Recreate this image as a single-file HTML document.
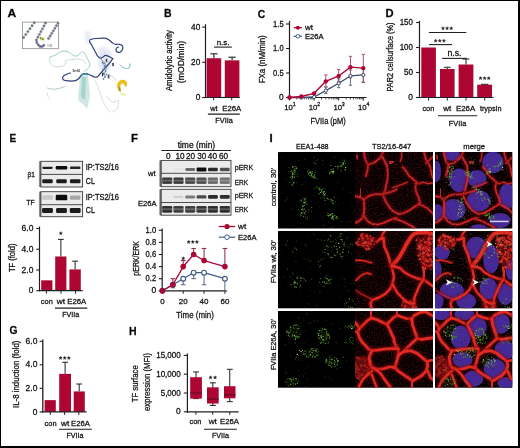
<!DOCTYPE html><html><head><meta charset="utf-8"><style>html,body{margin:0;padding:0;background:#fff;overflow:hidden;}svg{display:block;}</style></head><body><div style="position:relative;width:520px;height:448px;overflow:hidden;">
<svg width="520" height="448" viewBox="0 0 520 448" style="will-change:transform;filter:blur(0.3px)" font-family='"Liberation Sans", sans-serif'>
<style>text{stroke:#231f20;stroke-width:0.28px;}</style>
<defs>
<filter id="bl1" x="-20%" y="-20%" width="140%" height="140%"><feGaussianBlur stdDeviation="0.7"/></filter>
<filter id="bl2" x="-20%" y="-20%" width="140%" height="140%"><feGaussianBlur stdDeviation="1.4"/></filter>
<filter id="bl3" x="-20%" y="-20%" width="140%" height="140%"><feGaussianBlur stdDeviation="0.45"/></filter>
<filter id="blp" x="-20%" y="-20%" width="140%" height="140%"><feGaussianBlur stdDeviation="0.6"/></filter>
<filter id="tex" x="0" y="0" width="100%" height="100%" filterUnits="userSpaceOnUse"><feTurbulence type="fractalNoise" baseFrequency="0.85" numOctaves="1" seed="5" result="n"/><feColorMatrix in="n" type="matrix" values="0 0 0 0 1  0 0 0 0 1  0 0 0 0 1  1.2 0 0 0 0.3" result="na"/><feComposite in="SourceGraphic" in2="na" operator="in"/></filter>
<filter id="tex2" x="0" y="0" width="100%" height="100%" filterUnits="userSpaceOnUse"><feTurbulence type="fractalNoise" baseFrequency="0.85" numOctaves="1" seed="8" result="n"/><feColorMatrix in="n" type="matrix" values="0 0 0 0 1  0 0 0 0 1  0 0 0 0 1  0.9 0 0 0 0.62" result="na"/><feComposite in="SourceGraphic" in2="na" operator="in"/></filter>
<filter id="haze" x="0" y="0" width="100%" height="100%" filterUnits="userSpaceOnUse"><feTurbulence type="fractalNoise" baseFrequency="0.7" numOctaves="2" seed="11" result="n"/><feColorMatrix in="n" type="matrix" values="0 0 0 0 0.5  0 0 0 0 0.02  0 0 0 0 0.04  1.4 0 0 0 -0.62"/></filter>
<clipPath id="c11"><rect x="278" y="152" width="77" height="76.5"/></clipPath>
<clipPath id="c12"><rect x="355" y="152" width="78" height="76.5"/></clipPath>
<clipPath id="c13"><rect x="435" y="152" width="77.3" height="76.5"/></clipPath>
<clipPath id="c21"><rect x="278" y="231" width="77" height="77.3"/></clipPath>
<clipPath id="c22"><rect x="355" y="231" width="78" height="77.3"/></clipPath>
<clipPath id="c23"><rect x="435" y="231" width="77.3" height="77.3"/></clipPath>
<clipPath id="c31"><rect x="278" y="311" width="77" height="76.7"/></clipPath>
<clipPath id="c32"><rect x="355" y="311" width="78" height="76.7"/></clipPath>
<clipPath id="c33"><rect x="435" y="311" width="77.3" height="76.7"/></clipPath>
</defs>
<rect x="0.00" y="0.00" width="520.00" height="448.00" fill="#ffffff"/>
<text x="7.40" y="17.10" font-size="11.5" font-weight="bold" textLength="8.70" lengthAdjust="spacingAndGlyphs">A</text>
<path d="M98.5,48 L104,47 L112,52 L110,70 L104,72 L99,68 Z" stroke="none" stroke-width="1.0" fill="#dfe2f0" opacity="0.8" stroke-linecap="round" stroke-linejoin="round" filter="url(#bl2)"/>
<path d="M85,32 L90,31 L91,42 L86,44 Z" stroke="none" stroke-width="1.0" fill="#e2e4f0" opacity="0.8" stroke-linecap="round" stroke-linejoin="round" filter="url(#bl2)"/>
<path d="M80,76 L88,75 L90,96 L87,109 L83,104 L78,100 Z" stroke="none" stroke-width="1.0" fill="#bfe0da" opacity="0.75" stroke-linecap="round" stroke-linejoin="round" filter="url(#bl1)"/>
<path d="M82,77 L86,77 L85,100 L81,97 Z" stroke="none" stroke-width="1.0" fill="#8fc6c0" opacity="0.6" stroke-linecap="round" stroke-linejoin="round" filter="url(#bl1)"/>
<path d="M49.8,57.3 C51.5,56.5 53,56 54.7,55.4 C56.5,54.5 58,53.2 59.6,52.4 C61.2,51.6 63,51 64.6,51.1 C66.3,51.2 68,51.6 69.5,52.4 C70.9,53.2 71.8,54.8 73.1,55.4 C74.4,56 75.6,56.3 76.8,56 C78.2,55.4 79.3,53.8 80.5,53 C81.4,52.3 82.2,51.6 83,51.8 C84.2,52.2 84.8,53.5 85.4,54.8 C86.3,56.5 87.2,58 87.9,59.7 C88.7,61 89.5,62.2 89.7,63.4 C89.9,64.8 89.8,66 89.1,67.1 C88.4,68.2 87.6,68.9 86.7,69.6 C85.9,70.3 85,70.9 84.2,71.4" stroke="#9ccdc6" stroke-width="1.0" fill="none" opacity="1.0" stroke-linecap="round" stroke-linejoin="round"/>
<path d="M49.8,57.3 C49.5,59 49.4,60.8 49.8,62.2 C50.6,64.2 52.5,65.8 54.7,66.5 C57.5,67.2 61.5,66.6 64.6,65.3 C65.6,64.2 65.2,62 65.8,61 C67,60 69,59.8 70.7,59.7 C72.7,59.5 74.8,59.2 76.8,59.1 C78.5,59.1 80.2,59.2 81.7,59.7 C83.2,60.3 84.5,61.8 85.4,63.4" stroke="#cfdcdc" stroke-width="1.0" fill="none" opacity="1.0" stroke-linecap="round" stroke-linejoin="round"/>
<path d="M47.4,88 C49,88.4 50.6,89 52.3,89.2 C54.3,89.3 56.4,89.1 58.4,88.6 C60.5,88 62.6,87.4 64.6,86.7" stroke="#b8c8c8" stroke-width="1.0" fill="none" opacity="1.0" stroke-linecap="round" stroke-linejoin="round"/>
<path d="M47.4,92.9 C47.5,94.2 47.6,95.5 48,96.6 C48.5,97.7 49.1,98.5 49.8,99" stroke="#d8e0e0" stroke-width="1.0" fill="none" opacity="1.0" stroke-linecap="round" stroke-linejoin="round"/>
<path d="M120,65 C122,67 125,69 128,68.5 C129.5,68 130,66 130,64" stroke="#9cc8d0" stroke-width="1.0" fill="none" opacity="1.0" stroke-linecap="round" stroke-linejoin="round"/>
<path d="M95,80 C97,85 100,92 102,99 C104,104 106,108 110,112" stroke="#e2e6e6" stroke-width="0.9" fill="none" opacity="1.0" stroke-linecap="round" stroke-linejoin="round"/>
<path d="M108,74 C111,76 114,77 116,80" stroke="#cfd8e6" stroke-width="0.9" fill="none" opacity="1.0" stroke-linecap="round" stroke-linejoin="round"/>
<path d="M107,96.5 C109,99 111,102 113,102.3 C115.5,102 117,100.5 118.5,100.4 C119,103 118.5,106 117.5,108 C116,110 114.5,111.5 112.7,112" stroke="#d8dcdc" stroke-width="1.0" fill="none" opacity="1.0" stroke-linecap="round" stroke-linejoin="round"/>
<path d="M120,65 C122,67 125,69 128,68.5 C129.5,68 130,66 130,64" stroke="#9cc8d0" stroke-width="1.0" fill="none" opacity="1.0" stroke-linecap="round" stroke-linejoin="round"/>
<path d="M95,80 C97,85 100,92 102,99 C104,104 106,108 110,112" stroke="#e2e6e6" stroke-width="0.9" fill="none" opacity="1.0" stroke-linecap="round" stroke-linejoin="round"/>
<path d="M108,74 C111,76 114,77 116,80" stroke="#cfd8e6" stroke-width="0.9" fill="none" opacity="1.0" stroke-linecap="round" stroke-linejoin="round"/>
<path d="M118.6,47 C118,47.1 117.3,47.4 116.8,47.9 C116.2,48.4 115.9,49.2 115.9,50.1 C116,51 116.7,51.9 117.7,52.3 C118.5,52.5 119.5,52.4 120.4,51.9 C121.4,51.4 122.1,50.4 122.6,49.2 C123,48.2 123,47.2 122.6,46.1 C122.2,45.2 121,44.6 119.5,44.3 C118.3,44.1 117.2,44.4 115.9,44.3 C114.6,44.2 113.5,43.8 112.4,42.9 C111.2,42 110.2,40.8 108.8,39.8 C107.5,39 106,38.4 104.3,38.2 C101.5,38.1 98.5,38.3 95.4,38.5 C93.5,38.7 91.5,39 90,39.8 C89.6,40 89.4,40.5 89.6,41.6 C89.8,42.5 91,43.5 91.8,45.2 C92.5,46.8 93.5,48.5 94.5,50.5 C95.5,52 96,53 97.2,55.4 C97.5,56 98.5,57 99.9,58.1 C100.5,58.5 101.5,57.6 102.5,57.2 C103.5,57 104,56 105.2,55.4 C106,55 107,56 108.8,56.3 C110,56.5 111.5,58.1 112.8,58.6" stroke="#2d3f78" stroke-width="1.2" fill="none" opacity="1.0" stroke-linecap="round" stroke-linejoin="round"/>
<path d="M112.8,58.6 C111,61 109.5,63.5 107.5,65.5 C106.2,66.8 105.2,67.8 104.4,68.8 C103.3,70.2 102.3,71.3 101.3,72.5 C100.2,73.8 99.2,75.2 98.1,76.2 C97,77.1 96,77.4 94.9,77.2 C93.6,76.9 92.8,76.1 91.7,75.6 C90.3,74.9 89,74.2 87.5,74 C86,73.8 84.6,73.7 83.3,74 C82.1,74.4 81.3,75.2 80.6,76.2 C79.8,77.3 79,78.5 78,79.3 C76.8,80.3 75.3,80.8 73.8,80.9 C72,81.1 70.3,81.1 68.5,80.9 C66.6,80.7 64.8,80.6 63.7,79.9 C62.8,79.3 62.4,78.5 62.6,77.8 C62.9,76.8 63.5,76.1 64.2,75.6 C65.2,74.9 66.3,74.4 67.4,74 C68.5,73.6 69.6,73.2 70.6,73" stroke="#2d3f78" stroke-width="1.2" fill="none" opacity="1.0" stroke-linecap="round" stroke-linejoin="round"/>
<path d="M80.8,76 C81.5,75 82.3,74.3 83.3,74 C84.6,73.7 86,73.8 87.5,74" stroke="#2f7f90" stroke-width="1.4" fill="none" opacity="1.0" stroke-linecap="round" stroke-linejoin="round"/>
<circle cx="104.5" cy="66" r="0.9" fill="#6b88a8"/>
<circle cx="106" cy="68" r="0.9" fill="#6b88a8"/>
<circle cx="103" cy="69.5" r="0.9" fill="#6b88a8"/>
<circle cx="105.5" cy="71" r="0.9" fill="#6b88a8"/>
<circle cx="104" cy="73.5" r="0.9" fill="#6b88a8"/>
<circle cx="106.5" cy="74.5" r="0.9" fill="#6b88a8"/>
<circle cx="102.5" cy="75.5" r="0.9" fill="#6b88a8"/>
<circle cx="105" cy="77" r="0.9" fill="#6b88a8"/>
<circle cx="103.5" cy="79" r="0.9" fill="#6b88a8"/>
<circle cx="102.5" cy="62.5" r="0.9" fill="#6b88a8"/>
<circle cx="104" cy="63.5" r="0.9" fill="#6b88a8"/>
<path d="M104,62 L106,65 L104,68 L106,71 L104,74 L105.5,77" stroke="#5a7fa5" stroke-width="0.8" fill="none" opacity="1.0" stroke-linecap="round" stroke-linejoin="round"/>
<path d="M100,57 L102.5,61 L103,64" stroke="#6f8fb8" stroke-width="0.9" fill="none" opacity="1.0" stroke-linecap="round" stroke-linejoin="round"/>
<text x="76.2" y="71.8" font-size="2.8" text-anchor="middle" font-weight="bold" fill="#333" style="stroke:none">Ser56</text>
<text x="106.70" y="61.60" font-size="2.6" text-anchor="middle">K</text>
<text x="113.00" y="66.20" font-size="2.6" text-anchor="middle">O</text>
<text x="102.70" y="75.70" font-size="2.6" text-anchor="middle">F</text>
<text x="108.50" y="78.30" font-size="2.6" text-anchor="middle">E</text>
<path d="M117.5,86 C117.3,82 120,79.8 123,80 C126,80.3 127.4,82.5 126.7,85.5 C126.2,87.2 125,86.8 124.6,85.2 C124,83.2 122,82.8 120.8,84.2 C119.8,85.6 120.2,88.2 120.6,91.6 C119.2,91.6 117.8,89.6 117.5,86 Z" stroke="#c9a000" stroke-width="0.3" fill="#e9c210" opacity="1.0" stroke-linecap="round" stroke-linejoin="round"/>
<path d="M118.2,87 L120.4,87.5 L120.6,91.6 C119.4,91.4 118.4,89.5 118.2,87 Z" stroke="none" stroke-width="1.0" fill="#8a7a10" opacity="0.6" stroke-linecap="round" stroke-linejoin="round"/>
<path d="M120.2,92.2 C122,93.2 125,94.2 127.6,95.2 C125,96 122,95.6 120.4,94.2 Z" stroke="none" stroke-width="1.0" fill="#ece6a0" opacity="0.9" stroke-linecap="round" stroke-linejoin="round"/>
<rect x="22.4" y="22.1" width="36.0" height="26.6" fill="#ffffff" stroke="#8c8c8c" stroke-width="0.8"/>
<circle cx="23.60" cy="37.50" r="1.15" fill="#6f8a80" stroke="#3a3a48" stroke-width="0.35"/>
<circle cx="25.72" cy="34.56" r="1.15" fill="#6f8a80" stroke="#3a3a48" stroke-width="0.35"/>
<circle cx="27.84" cy="31.62" r="1.15" fill="#6f8a80" stroke="#3a3a48" stroke-width="0.35"/>
<circle cx="29.96" cy="28.68" r="1.15" fill="#6f8a80" stroke="#3a3a48" stroke-width="0.35"/>
<circle cx="32.08" cy="25.74" r="1.15" fill="#6f8a80" stroke="#3a3a48" stroke-width="0.35"/>
<circle cx="34.20" cy="22.80" r="1.15" fill="#6f8a80" stroke="#3a3a48" stroke-width="0.35"/>
<circle cx="36.40" cy="40.00" r="1.15" fill="#7886a6" stroke="#3a3a48" stroke-width="0.35"/>
<circle cx="37.92" cy="37.20" r="1.15" fill="#7886a6" stroke="#3a3a48" stroke-width="0.35"/>
<circle cx="39.43" cy="34.40" r="1.15" fill="#7886a6" stroke="#3a3a48" stroke-width="0.35"/>
<circle cx="40.95" cy="31.60" r="1.15" fill="#7886a6" stroke="#3a3a48" stroke-width="0.35"/>
<circle cx="42.47" cy="28.80" r="1.15" fill="#7886a6" stroke="#3a3a48" stroke-width="0.35"/>
<circle cx="43.98" cy="26.00" r="1.15" fill="#7886a6" stroke="#3a3a48" stroke-width="0.35"/>
<circle cx="45.50" cy="23.20" r="1.15" fill="#7886a6" stroke="#3a3a48" stroke-width="0.35"/>
<circle cx="36.80" cy="42.50" r="1.15" fill="#6e7aa4" stroke="#3a3a48" stroke-width="0.35"/>
<circle cx="38.20" cy="44.80" r="1.15" fill="#6e7aa4" stroke="#3a3a48" stroke-width="0.35"/>
<circle cx="40.00" cy="46.40" r="1.15" fill="#6e7aa4" stroke="#3a3a48" stroke-width="0.35"/>
<circle cx="42.00" cy="46.60" r="1.15" fill="#6e7aa4" stroke="#3a3a48" stroke-width="0.35"/>
<circle cx="43.80" cy="45.40" r="1.15" fill="#6e7aa4" stroke="#3a3a48" stroke-width="0.35"/>
<circle cx="48.60" cy="38.50" r="1.15" fill="#808a9c" stroke="#3a3a48" stroke-width="0.35"/>
<circle cx="50.17" cy="35.95" r="1.15" fill="#808a9c" stroke="#3a3a48" stroke-width="0.35"/>
<circle cx="51.73" cy="33.40" r="1.15" fill="#808a9c" stroke="#3a3a48" stroke-width="0.35"/>
<circle cx="53.30" cy="30.85" r="1.15" fill="#808a9c" stroke="#3a3a48" stroke-width="0.35"/>
<circle cx="54.87" cy="28.30" r="1.15" fill="#808a9c" stroke="#3a3a48" stroke-width="0.35"/>
<circle cx="56.43" cy="25.75" r="1.15" fill="#808a9c" stroke="#3a3a48" stroke-width="0.35"/>
<circle cx="58.00" cy="23.20" r="1.15" fill="#808a9c" stroke="#3a3a48" stroke-width="0.35"/>
<path d="M39.5,37.5 C41,36 43.5,36.5 44.8,38.2 C45.5,39.8 44,41 42,40.8 C40.5,40.5 39,39.5 39.5,37.5 Z" stroke="none" stroke-width="1.0" fill="#ecec8c" opacity="0.9" stroke-linecap="round" stroke-linejoin="round" filter="url(#bl3)"/>
<circle cx="40.80" cy="38.20" r="0.7" fill="#8a8a40" stroke="#3a3a48" stroke-width="0.35"/>
<circle cx="42.80" cy="39.20" r="0.7" fill="#8a8a40" stroke="#3a3a48" stroke-width="0.35"/>
<text x="49.6" y="47.4" font-size="3" text-anchor="middle" fill="#666" style="stroke:none">Y43</text>
<text x="164.00" y="17.10" font-size="11.5" font-weight="bold" textLength="7.60" lengthAdjust="spacingAndGlyphs">B</text>
<rect x="206.60" y="58.25" width="14.60" height="39.25" fill="#ad0633"/>
<rect x="224.80" y="60.36" width="14.60" height="37.14" fill="#ad0633"/>
<line x1="213.90" y1="58.25" x2="213.90" y2="53.85" stroke="#231f20" stroke-width="1.1"/>
<line x1="210.40" y1="53.85" x2="217.60" y2="53.85" stroke="#231f20" stroke-width="1.1"/>
<line x1="232.10" y1="60.36" x2="232.10" y2="57.20" stroke="#231f20" stroke-width="1.1"/>
<line x1="228.40" y1="57.20" x2="235.70" y2="57.20" stroke="#231f20" stroke-width="1.1"/>
<line x1="205.50" y1="24.20" x2="205.50" y2="98.10" stroke="#231f20" stroke-width="1.2"/>
<line x1="205.00" y1="97.50" x2="240.00" y2="97.50" stroke="#231f20" stroke-width="1.2"/>
<line x1="202.20" y1="97.50" x2="205.50" y2="97.50" stroke="#231f20" stroke-width="1.1"/>
<line x1="202.20" y1="62.30" x2="205.50" y2="62.30" stroke="#231f20" stroke-width="1.1"/>
<line x1="202.20" y1="27.10" x2="205.50" y2="27.10" stroke="#231f20" stroke-width="1.1"/>
<line x1="213.60" y1="97.50" x2="213.60" y2="100.30" stroke="#231f20" stroke-width="1.0"/>
<line x1="231.70" y1="97.50" x2="231.70" y2="100.30" stroke="#231f20" stroke-width="1.0"/>
<text x="200.30" y="29.70" font-size="8.4" text-anchor="end" textLength="9.20" lengthAdjust="spacingAndGlyphs">40</text>
<text x="200.30" y="64.90" font-size="8.4" text-anchor="end" textLength="9.20" lengthAdjust="spacingAndGlyphs">20</text>
<text x="200.30" y="100.10" font-size="8.4" text-anchor="end">0</text>
<line x1="214.00" y1="47.10" x2="231.80" y2="47.10" stroke="#231f20" stroke-width="1.1"/>
<text x="223.00" y="44.80" font-size="7.9" text-anchor="middle">n.s.</text>
<text x="213.90" y="111.30" font-size="7.9" text-anchor="middle" textLength="7.40" lengthAdjust="spacingAndGlyphs">wt</text>
<text x="231.80" y="111.30" font-size="7.9" text-anchor="middle" textLength="19.00" lengthAdjust="spacingAndGlyphs">E26A</text>
<line x1="207.90" y1="114.10" x2="239.80" y2="114.10" stroke="#231f20" stroke-width="1.1"/>
<text x="224.10" y="123.10" font-size="7.9" text-anchor="middle" textLength="17.60" lengthAdjust="spacingAndGlyphs">FVIIa</text>
<text x="172.00" y="60.60" font-size="8.5" text-anchor="middle" textLength="61.00" lengthAdjust="spacingAndGlyphs" transform="rotate(-90 172.00 60.60)">Amidolytic activity</text>
<text x="183.60" y="62.00" font-size="8.5" text-anchor="middle" textLength="42.50" lengthAdjust="spacingAndGlyphs" transform="rotate(-90 183.60 62.00)">(mOD/min)</text>
<text x="257.70" y="17.80" font-size="11.5" font-weight="bold" textLength="7.50" lengthAdjust="spacingAndGlyphs">C</text>
<line x1="289.50" y1="20.80" x2="289.50" y2="98.10" stroke="#231f20" stroke-width="1.2"/>
<line x1="289.00" y1="97.50" x2="366.50" y2="97.50" stroke="#231f20" stroke-width="1.2"/>
<line x1="286.00" y1="97.50" x2="289.50" y2="97.50" stroke="#231f20" stroke-width="1.1"/>
<line x1="286.00" y1="73.00" x2="289.50" y2="73.00" stroke="#231f20" stroke-width="1.1"/>
<line x1="286.00" y1="48.50" x2="289.50" y2="48.50" stroke="#231f20" stroke-width="1.1"/>
<line x1="286.00" y1="24.00" x2="289.50" y2="24.00" stroke="#231f20" stroke-width="1.1"/>
<line x1="289.50" y1="97.50" x2="289.50" y2="100.60" stroke="#231f20" stroke-width="1.0"/>
<line x1="314.10" y1="97.50" x2="314.10" y2="100.60" stroke="#231f20" stroke-width="1.0"/>
<line x1="338.70" y1="97.50" x2="338.70" y2="100.60" stroke="#231f20" stroke-width="1.0"/>
<line x1="363.30" y1="97.50" x2="363.30" y2="100.60" stroke="#231f20" stroke-width="1.0"/>
<line x1="296.91" y1="97.50" x2="296.91" y2="99.40" stroke="#231f20" stroke-width="0.8"/>
<line x1="301.24" y1="97.50" x2="301.24" y2="99.40" stroke="#231f20" stroke-width="0.8"/>
<line x1="304.31" y1="97.50" x2="304.31" y2="99.40" stroke="#231f20" stroke-width="0.8"/>
<line x1="306.69" y1="97.50" x2="306.69" y2="99.40" stroke="#231f20" stroke-width="0.8"/>
<line x1="308.64" y1="97.50" x2="308.64" y2="99.40" stroke="#231f20" stroke-width="0.8"/>
<line x1="310.29" y1="97.50" x2="310.29" y2="99.40" stroke="#231f20" stroke-width="0.8"/>
<line x1="311.72" y1="97.50" x2="311.72" y2="99.40" stroke="#231f20" stroke-width="0.8"/>
<line x1="312.97" y1="97.50" x2="312.97" y2="99.40" stroke="#231f20" stroke-width="0.8"/>
<line x1="321.51" y1="97.50" x2="321.51" y2="99.40" stroke="#231f20" stroke-width="0.8"/>
<line x1="325.84" y1="97.50" x2="325.84" y2="99.40" stroke="#231f20" stroke-width="0.8"/>
<line x1="328.91" y1="97.50" x2="328.91" y2="99.40" stroke="#231f20" stroke-width="0.8"/>
<line x1="331.29" y1="97.50" x2="331.29" y2="99.40" stroke="#231f20" stroke-width="0.8"/>
<line x1="333.24" y1="97.50" x2="333.24" y2="99.40" stroke="#231f20" stroke-width="0.8"/>
<line x1="334.89" y1="97.50" x2="334.89" y2="99.40" stroke="#231f20" stroke-width="0.8"/>
<line x1="336.32" y1="97.50" x2="336.32" y2="99.40" stroke="#231f20" stroke-width="0.8"/>
<line x1="337.57" y1="97.50" x2="337.57" y2="99.40" stroke="#231f20" stroke-width="0.8"/>
<line x1="346.11" y1="97.50" x2="346.11" y2="99.40" stroke="#231f20" stroke-width="0.8"/>
<line x1="350.44" y1="97.50" x2="350.44" y2="99.40" stroke="#231f20" stroke-width="0.8"/>
<line x1="353.51" y1="97.50" x2="353.51" y2="99.40" stroke="#231f20" stroke-width="0.8"/>
<line x1="355.89" y1="97.50" x2="355.89" y2="99.40" stroke="#231f20" stroke-width="0.8"/>
<line x1="357.84" y1="97.50" x2="357.84" y2="99.40" stroke="#231f20" stroke-width="0.8"/>
<line x1="359.49" y1="97.50" x2="359.49" y2="99.40" stroke="#231f20" stroke-width="0.8"/>
<line x1="360.92" y1="97.50" x2="360.92" y2="99.40" stroke="#231f20" stroke-width="0.8"/>
<line x1="362.17" y1="97.50" x2="362.17" y2="99.40" stroke="#231f20" stroke-width="0.8"/>
<text x="283.60" y="26.60" font-size="8.4" text-anchor="end" textLength="10.50" lengthAdjust="spacingAndGlyphs">1.5</text>
<text x="283.60" y="51.10" font-size="8.4" text-anchor="end" textLength="10.50" lengthAdjust="spacingAndGlyphs">1.0</text>
<text x="283.60" y="75.60" font-size="8.4" text-anchor="end" textLength="10.50" lengthAdjust="spacingAndGlyphs">0.5</text>
<text x="283.60" y="100.10" font-size="8.4" text-anchor="end">0</text>
<text x="288.50" y="110.20" font-size="8" text-anchor="middle" textLength="8.60" lengthAdjust="spacingAndGlyphs">10</text>
<text x="294.10" y="106.00" font-size="5.2" text-anchor="middle">1</text>
<text x="313.10" y="110.20" font-size="8" text-anchor="middle" textLength="8.60" lengthAdjust="spacingAndGlyphs">10</text>
<text x="318.70" y="106.00" font-size="5.2" text-anchor="middle">2</text>
<text x="337.70" y="110.20" font-size="8" text-anchor="middle" textLength="8.60" lengthAdjust="spacingAndGlyphs">10</text>
<text x="343.30" y="106.00" font-size="5.2" text-anchor="middle">3</text>
<text x="362.30" y="110.20" font-size="8" text-anchor="middle" textLength="8.60" lengthAdjust="spacingAndGlyphs">10</text>
<text x="367.90" y="106.00" font-size="5.2" text-anchor="middle">4</text>
<text x="328.10" y="124.30" font-size="9.5" text-anchor="middle" textLength="35.10" lengthAdjust="spacingAndGlyphs">FVIIa (pM)</text>
<text x="265.40" y="59.30" font-size="8.6" text-anchor="middle" textLength="48.00" lengthAdjust="spacingAndGlyphs" transform="rotate(-90 265.40 59.30)">FXa (nM/min)</text>
<line x1="325.84" y1="93.58" x2="325.84" y2="87.21" stroke="#5f7088" stroke-width="1.0"/>
<line x1="324.14" y1="93.58" x2="327.54" y2="93.58" stroke="#5f7088" stroke-width="1.0"/>
<line x1="324.14" y1="87.21" x2="327.54" y2="87.21" stroke="#5f7088" stroke-width="1.0"/>
<line x1="338.70" y1="87.70" x2="338.70" y2="78.88" stroke="#5f7088" stroke-width="1.0"/>
<line x1="337.00" y1="87.70" x2="340.40" y2="87.70" stroke="#5f7088" stroke-width="1.0"/>
<line x1="337.00" y1="78.88" x2="340.40" y2="78.88" stroke="#5f7088" stroke-width="1.0"/>
<line x1="350.44" y1="85.25" x2="350.44" y2="70.06" stroke="#5f7088" stroke-width="1.0"/>
<line x1="348.74" y1="85.25" x2="352.14" y2="85.25" stroke="#5f7088" stroke-width="1.0"/>
<line x1="348.74" y1="70.06" x2="352.14" y2="70.06" stroke="#5f7088" stroke-width="1.0"/>
<line x1="363.30" y1="82.31" x2="363.30" y2="69.08" stroke="#5f7088" stroke-width="1.0"/>
<line x1="361.60" y1="82.31" x2="365.00" y2="82.31" stroke="#5f7088" stroke-width="1.0"/>
<line x1="361.60" y1="69.08" x2="365.00" y2="69.08" stroke="#5f7088" stroke-width="1.0"/>
<line x1="325.84" y1="86.72" x2="325.84" y2="74.96" stroke="#a85670" stroke-width="1.0"/>
<line x1="324.14" y1="86.72" x2="327.54" y2="86.72" stroke="#a85670" stroke-width="1.0"/>
<line x1="324.14" y1="74.96" x2="327.54" y2="74.96" stroke="#a85670" stroke-width="1.0"/>
<line x1="338.70" y1="81.33" x2="338.70" y2="69.57" stroke="#a85670" stroke-width="1.0"/>
<line x1="337.00" y1="81.33" x2="340.40" y2="81.33" stroke="#a85670" stroke-width="1.0"/>
<line x1="337.00" y1="69.57" x2="340.40" y2="69.57" stroke="#a85670" stroke-width="1.0"/>
<line x1="350.44" y1="77.90" x2="350.44" y2="56.34" stroke="#a85670" stroke-width="1.0"/>
<line x1="348.74" y1="77.90" x2="352.14" y2="77.90" stroke="#a85670" stroke-width="1.0"/>
<line x1="348.74" y1="56.34" x2="352.14" y2="56.34" stroke="#a85670" stroke-width="1.0"/>
<line x1="363.30" y1="82.31" x2="363.30" y2="54.38" stroke="#a85670" stroke-width="1.0"/>
<line x1="361.60" y1="82.31" x2="365.00" y2="82.31" stroke="#a85670" stroke-width="1.0"/>
<line x1="361.60" y1="54.38" x2="365.00" y2="54.38" stroke="#a85670" stroke-width="1.0"/>
<polyline points="289.50,97.50 301.24,97.50 314.10,97.01 325.84,90.64 338.70,83.29 350.44,75.94 363.30,74.96" fill="none" stroke="#3a4a70" stroke-width="1.3" stroke-linejoin="round"/>
<circle cx="289.50" cy="97.50" r="1.6" fill="#ffffff" stroke="#3a4a70" stroke-width="1.0"/>
<circle cx="301.24" cy="97.50" r="1.6" fill="#ffffff" stroke="#3a4a70" stroke-width="1.0"/>
<circle cx="314.10" cy="97.01" r="1.6" fill="#ffffff" stroke="#3a4a70" stroke-width="1.0"/>
<circle cx="325.84" cy="90.64" r="1.6" fill="#ffffff" stroke="#3a4a70" stroke-width="1.0"/>
<circle cx="338.70" cy="83.29" r="1.6" fill="#ffffff" stroke="#3a4a70" stroke-width="1.0"/>
<circle cx="350.44" cy="75.94" r="1.6" fill="#ffffff" stroke="#3a4a70" stroke-width="1.0"/>
<circle cx="363.30" cy="74.96" r="1.6" fill="#ffffff" stroke="#3a4a70" stroke-width="1.0"/>
<polyline points="289.50,97.50 301.24,96.52 314.10,93.33 325.84,81.33 338.70,75.94 350.44,67.12 363.30,68.10" fill="none" stroke="#ad0633" stroke-width="1.4" stroke-linejoin="round"/>
<circle cx="289.50" cy="97.50" r="2.2" fill="#ad0633" stroke="none" stroke-width="1.0"/>
<circle cx="301.24" cy="96.52" r="2.2" fill="#ad0633" stroke="none" stroke-width="1.0"/>
<circle cx="314.10" cy="93.33" r="2.2" fill="#ad0633" stroke="none" stroke-width="1.0"/>
<circle cx="325.84" cy="81.33" r="2.2" fill="#ad0633" stroke="none" stroke-width="1.0"/>
<circle cx="338.70" cy="75.94" r="2.2" fill="#ad0633" stroke="none" stroke-width="1.0"/>
<circle cx="350.44" cy="67.12" r="2.2" fill="#ad0633" stroke="none" stroke-width="1.0"/>
<circle cx="363.30" cy="68.10" r="2.2" fill="#ad0633" stroke="none" stroke-width="1.0"/>
<line x1="293.80" y1="27.70" x2="301.90" y2="27.70" stroke="#ad0633" stroke-width="1.3"/>
<circle cx="297.90" cy="27.70" r="2.0" fill="#ad0633" stroke="none" stroke-width="1.0"/>
<text x="305.00" y="30.30" font-size="7.9" textLength="8.00" lengthAdjust="spacingAndGlyphs">wt</text>
<line x1="293.80" y1="36.30" x2="301.90" y2="36.30" stroke="#3a5078" stroke-width="1.2"/>
<circle cx="297.90" cy="36.30" r="1.8" fill="#ffffff" stroke="#3a5078" stroke-width="0.9"/>
<text x="305.00" y="38.90" font-size="7.9" textLength="18.60" lengthAdjust="spacingAndGlyphs">E26A</text>
<text x="385.60" y="16.60" font-size="11.5" font-weight="bold" textLength="8.10" lengthAdjust="spacingAndGlyphs">D</text>
<rect x="421.30" y="47.50" width="14.60" height="50.00" fill="#ad0633"/>
<rect x="440.00" y="69.00" width="14.60" height="28.50" fill="#ad0633"/>
<rect x="458.60" y="64.50" width="14.80" height="33.00" fill="#ad0633"/>
<rect x="477.20" y="84.70" width="14.80" height="12.80" fill="#ad0633"/>
<line x1="447.30" y1="69.00" x2="447.30" y2="67.25" stroke="#231f20" stroke-width="1.0"/>
<line x1="444.00" y1="67.25" x2="450.60" y2="67.25" stroke="#231f20" stroke-width="1.0"/>
<line x1="466.00" y1="64.50" x2="466.00" y2="59.00" stroke="#231f20" stroke-width="1.0"/>
<line x1="462.50" y1="59.00" x2="469.50" y2="59.00" stroke="#231f20" stroke-width="1.0"/>
<line x1="481.00" y1="84.30" x2="488.40" y2="84.30" stroke="#231f20" stroke-width="1.0"/>
<line x1="419.50" y1="20.80" x2="419.50" y2="98.10" stroke="#231f20" stroke-width="1.2"/>
<line x1="419.00" y1="97.50" x2="493.50" y2="97.50" stroke="#231f20" stroke-width="1.2"/>
<line x1="416.00" y1="97.50" x2="419.50" y2="97.50" stroke="#231f20" stroke-width="1.1"/>
<line x1="416.00" y1="72.50" x2="419.50" y2="72.50" stroke="#231f20" stroke-width="1.1"/>
<line x1="416.00" y1="47.50" x2="419.50" y2="47.50" stroke="#231f20" stroke-width="1.1"/>
<line x1="416.00" y1="22.50" x2="419.50" y2="22.50" stroke="#231f20" stroke-width="1.1"/>
<line x1="428.60" y1="97.50" x2="428.60" y2="100.60" stroke="#231f20" stroke-width="1.0"/>
<line x1="447.30" y1="97.50" x2="447.30" y2="100.60" stroke="#231f20" stroke-width="1.0"/>
<line x1="466.00" y1="97.50" x2="466.00" y2="100.60" stroke="#231f20" stroke-width="1.0"/>
<line x1="484.70" y1="97.50" x2="484.70" y2="100.60" stroke="#231f20" stroke-width="1.0"/>
<text x="412.90" y="25.10" font-size="8.4" text-anchor="end" textLength="13.20" lengthAdjust="spacingAndGlyphs">150</text>
<text x="412.90" y="50.10" font-size="8.4" text-anchor="end" textLength="13.20" lengthAdjust="spacingAndGlyphs">100</text>
<text x="412.90" y="75.10" font-size="8.4" text-anchor="end" textLength="9.00" lengthAdjust="spacingAndGlyphs">50</text>
<text x="412.90" y="100.10" font-size="8.4" text-anchor="end">0</text>
<line x1="428.90" y1="32.50" x2="466.30" y2="32.50" stroke="#231f20" stroke-width="1.1"/>
<polygon points="443.00,26.55 443.46,27.66 444.66,27.76 443.75,28.54 444.03,29.72 443.00,29.09 441.97,29.72 442.25,28.54 441.34,27.76 442.54,27.66" fill="#231f20" stroke="#231f20" stroke-width="0.35" stroke-linejoin="round"/>
<polygon points="447.10,26.55 447.56,27.66 448.76,27.76 447.85,28.54 448.13,29.72 447.10,29.09 446.07,29.72 446.35,28.54 445.44,27.76 446.64,27.66" fill="#231f20" stroke="#231f20" stroke-width="0.35" stroke-linejoin="round"/>
<polygon points="451.20,26.55 451.66,27.66 452.86,27.76 451.95,28.54 452.23,29.72 451.20,29.09 450.17,29.72 450.45,28.54 449.54,27.76 450.74,27.66" fill="#231f20" stroke="#231f20" stroke-width="0.35" stroke-linejoin="round"/>
<line x1="428.90" y1="44.60" x2="452.10" y2="44.60" stroke="#231f20" stroke-width="1.1"/>
<polygon points="435.70,39.05 436.16,40.16 437.36,40.26 436.45,41.04 436.73,42.22 435.70,41.59 434.67,42.22 434.95,41.04 434.04,40.26 435.24,40.16" fill="#231f20" stroke="#231f20" stroke-width="0.35" stroke-linejoin="round"/>
<polygon points="439.80,39.05 440.26,40.16 441.46,40.26 440.55,41.04 440.83,42.22 439.80,41.59 438.77,42.22 439.05,41.04 438.14,40.26 439.34,40.16" fill="#231f20" stroke="#231f20" stroke-width="0.35" stroke-linejoin="round"/>
<polygon points="443.90,39.05 444.36,40.16 445.56,40.26 444.65,41.04 444.93,42.22 443.90,41.59 442.87,42.22 443.15,41.04 442.24,40.26 443.44,40.16" fill="#231f20" stroke="#231f20" stroke-width="0.35" stroke-linejoin="round"/>
<line x1="442.10" y1="58.40" x2="466.80" y2="58.40" stroke="#231f20" stroke-width="1.1"/>
<text x="454.50" y="56.00" font-size="8.5" text-anchor="middle" textLength="14.00" lengthAdjust="spacingAndGlyphs">n.s.</text>
<polygon points="480.50,76.45 480.96,77.56 482.16,77.66 481.25,78.44 481.53,79.62 480.50,78.99 479.47,79.62 479.75,78.44 478.84,77.66 480.04,77.56" fill="#231f20" stroke="#231f20" stroke-width="0.35" stroke-linejoin="round"/>
<polygon points="484.60,76.45 485.06,77.56 486.26,77.66 485.35,78.44 485.63,79.62 484.60,78.99 483.57,79.62 483.85,78.44 482.94,77.66 484.14,77.56" fill="#231f20" stroke="#231f20" stroke-width="0.35" stroke-linejoin="round"/>
<polygon points="488.70,76.45 489.16,77.56 490.36,77.66 489.45,78.44 489.73,79.62 488.70,78.99 487.67,79.62 487.95,78.44 487.04,77.66 488.24,77.56" fill="#231f20" stroke="#231f20" stroke-width="0.35" stroke-linejoin="round"/>
<text x="428.40" y="110.70" font-size="7.9" text-anchor="middle" textLength="12.00" lengthAdjust="spacingAndGlyphs">con</text>
<text x="447.20" y="110.70" font-size="7.9" text-anchor="middle" textLength="8.00" lengthAdjust="spacingAndGlyphs">wt</text>
<text x="465.60" y="110.70" font-size="7.9" text-anchor="middle" textLength="19.20" lengthAdjust="spacingAndGlyphs">E26A</text>
<text x="490.70" y="110.70" font-size="7.9" text-anchor="middle" textLength="21.60" lengthAdjust="spacingAndGlyphs">trypsin</text>
<line x1="438.00" y1="115.70" x2="477.20" y2="115.70" stroke="#231f20" stroke-width="1.1"/>
<text x="457.60" y="125.80" font-size="7.9" text-anchor="middle" textLength="17.60" lengthAdjust="spacingAndGlyphs">FVIIa</text>
<text x="392.90" y="57.00" font-size="8.8" text-anchor="middle" textLength="69.00" lengthAdjust="spacingAndGlyphs" transform="rotate(-90 392.90 57.00)">PAR2 cellsurface (%)</text>
<text x="9.40" y="141.80" font-size="11.5" font-weight="bold" textLength="6.70" lengthAdjust="spacingAndGlyphs">E</text>
<rect x="40.90" y="161.30" width="41.70" height="25.70" fill="#ebebeb"/>
<rect x="38.90" y="161.30" width="2.0" height="25.70" fill="#9a9a9a"/>
<rect x="39.70" y="161.30" width="1.0" height="25.70" fill="#6e6e6e"/>
<rect x="40.90" y="191.70" width="41.70" height="25.00" fill="#ebebeb"/>
<rect x="38.90" y="191.70" width="2.0" height="25.00" fill="#9a9a9a"/>
<rect x="39.70" y="191.70" width="1.0" height="25.00" fill="#6e6e6e"/>
<rect x="42.25" y="166.65" width="10.50" height="2.30" rx="1.15" fill="#1e1e1e" opacity="1.0" filter="url(#blp)"/>
<rect x="55.75" y="166.10" width="11.50" height="3.40" rx="1.20" fill="#080808" opacity="1.0" filter="url(#blp)"/>
<rect x="69.95" y="166.50" width="10.50" height="2.60" rx="1.20" fill="#252525" opacity="1.0" filter="url(#blp)"/>
<rect x="42.25" y="179.20" width="10.50" height="4.00" rx="1.20" fill="#1e1e1e" opacity="1.0" filter="url(#blp)"/>
<rect x="56.25" y="179.20" width="10.50" height="4.00" rx="1.20" fill="#1e1e1e" opacity="1.0" filter="url(#blp)"/>
<rect x="69.95" y="179.20" width="10.50" height="4.00" rx="1.20" fill="#1e1e1e" opacity="1.0" filter="url(#blp)"/>
<rect x="42.25" y="195.35" width="10.50" height="4.50" rx="1.20" fill="#c8c8c8" opacity="1.0" filter="url(#blp)"/>
<rect x="55.75" y="194.85" width="11.50" height="5.50" rx="1.20" fill="#101010" opacity="1.0" filter="url(#blp)"/>
<rect x="69.95" y="195.50" width="10.50" height="4.20" rx="1.20" fill="#a8a8a8" opacity="1.0" filter="url(#blp)"/>
<rect x="42.10" y="208.00" width="10.80" height="5.00" rx="1.20" fill="#1a1a1a" opacity="1.0" filter="url(#blp)"/>
<rect x="56.10" y="208.00" width="10.80" height="5.00" rx="1.20" fill="#1a1a1a" opacity="1.0" filter="url(#blp)"/>
<rect x="69.80" y="208.00" width="10.80" height="5.00" rx="1.20" fill="#1a1a1a" opacity="1.0" filter="url(#blp)"/>
<rect x="40.90" y="161.30" width="41.70" height="25.70" fill="none" stroke="#3a3a3a" stroke-width="0.9"/>
<line x1="40.90" y1="174.40" x2="82.60" y2="174.40" stroke="#3a3a3a" stroke-width="0.9"/>
<rect x="40.90" y="191.70" width="41.70" height="25.00" fill="none" stroke="#3a3a3a" stroke-width="0.9"/>
<line x1="40.90" y1="204.70" x2="82.60" y2="204.70" stroke="#3a3a3a" stroke-width="0.9"/>
<text x="85.80" y="170.00" font-size="8.2" textLength="33.10" lengthAdjust="spacingAndGlyphs">IP:TS2/16</text>
<text x="85.80" y="183.50" font-size="8.2" textLength="9.00" lengthAdjust="spacingAndGlyphs">CL</text>
<text x="85.80" y="199.70" font-size="8.2" textLength="33.10" lengthAdjust="spacingAndGlyphs">IP:TS2/16</text>
<text x="85.80" y="212.90" font-size="8.2" textLength="9.00" lengthAdjust="spacingAndGlyphs">CL</text>
<text x="31.10" y="177.00" font-size="7.8" text-anchor="middle" textLength="7.40" lengthAdjust="spacingAndGlyphs">β1</text>
<text x="30.60" y="204.60" font-size="7.8" text-anchor="middle" textLength="8.50" lengthAdjust="spacingAndGlyphs">TF</text>
<rect x="161.20" y="160.40" width="69.80" height="26.30" fill="#ebebeb"/>
<rect x="159.20" y="160.40" width="2.0" height="26.30" fill="#9a9a9a"/>
<rect x="160.00" y="160.40" width="1.0" height="26.30" fill="#6e6e6e"/>
<rect x="161.20" y="189.30" width="69.80" height="25.90" fill="#ebebeb"/>
<rect x="159.20" y="189.30" width="2.0" height="25.90" fill="#9a9a9a"/>
<rect x="160.00" y="189.30" width="1.0" height="25.90" fill="#6e6e6e"/>
<rect x="173.60" y="168.40" width="9.80" height="2.20" rx="1.10" fill="#e2e2e2" opacity="1.0" filter="url(#blp)"/>
<rect x="185.30" y="168.00" width="9.80" height="3.00" rx="1.20" fill="#6a6a6a" opacity="1.0" filter="url(#blp)"/>
<rect x="196.60" y="167.50" width="9.80" height="4.00" rx="1.20" fill="#101010" opacity="1.0" filter="url(#blp)"/>
<rect x="208.00" y="167.70" width="9.80" height="3.60" rx="1.20" fill="#2a2a2a" opacity="1.0" filter="url(#blp)"/>
<rect x="219.90" y="167.80" width="9.80" height="3.40" rx="1.20" fill="#505050" opacity="1.0" filter="url(#blp)"/>
<rect x="162.10" y="177.50" width="10.20" height="6.20" rx="1.20" fill="#3a3a3a" opacity="0.75" filter="url(#blp)"/>
<rect x="162.30" y="177.70" width="9.80" height="2.00" rx="1.00" fill="#3a3a3a" opacity="1.0" filter="url(#blp)"/>
<rect x="162.30" y="181.60" width="9.80" height="2.20" rx="1.10" fill="#3a3a3a" opacity="1.0" filter="url(#blp)"/>
<rect x="173.40" y="177.50" width="10.20" height="6.20" rx="1.20" fill="#3a3a3a" opacity="0.75" filter="url(#blp)"/>
<rect x="173.60" y="177.70" width="9.80" height="2.00" rx="1.00" fill="#3a3a3a" opacity="1.0" filter="url(#blp)"/>
<rect x="173.60" y="181.60" width="9.80" height="2.20" rx="1.10" fill="#3a3a3a" opacity="1.0" filter="url(#blp)"/>
<rect x="185.10" y="177.50" width="10.20" height="6.20" rx="1.20" fill="#4a4a4a" opacity="0.75" filter="url(#blp)"/>
<rect x="185.30" y="177.70" width="9.80" height="2.00" rx="1.00" fill="#4a4a4a" opacity="1.0" filter="url(#blp)"/>
<rect x="185.30" y="181.60" width="9.80" height="2.20" rx="1.10" fill="#4a4a4a" opacity="1.0" filter="url(#blp)"/>
<rect x="196.40" y="177.50" width="10.20" height="6.20" rx="1.20" fill="#505050" opacity="0.75" filter="url(#blp)"/>
<rect x="196.60" y="177.70" width="9.80" height="2.00" rx="1.00" fill="#505050" opacity="1.0" filter="url(#blp)"/>
<rect x="196.60" y="181.60" width="9.80" height="2.20" rx="1.10" fill="#505050" opacity="1.0" filter="url(#blp)"/>
<rect x="207.80" y="177.50" width="10.20" height="6.20" rx="1.20" fill="#6a6a6a" opacity="0.75" filter="url(#blp)"/>
<rect x="208.00" y="177.70" width="9.80" height="2.00" rx="1.00" fill="#6a6a6a" opacity="1.0" filter="url(#blp)"/>
<rect x="208.00" y="181.60" width="9.80" height="2.20" rx="1.10" fill="#6a6a6a" opacity="1.0" filter="url(#blp)"/>
<rect x="219.70" y="177.50" width="10.20" height="6.20" rx="1.20" fill="#707070" opacity="0.75" filter="url(#blp)"/>
<rect x="219.90" y="177.70" width="9.80" height="2.00" rx="1.00" fill="#707070" opacity="1.0" filter="url(#blp)"/>
<rect x="219.90" y="181.60" width="9.80" height="2.20" rx="1.10" fill="#707070" opacity="1.0" filter="url(#blp)"/>
<rect x="173.60" y="195.80" width="9.80" height="2.20" rx="1.10" fill="#cfcfcf" opacity="1.0" filter="url(#blp)"/>
<rect x="185.30" y="195.40" width="9.80" height="3.00" rx="1.20" fill="#7a7a7a" opacity="1.0" filter="url(#blp)"/>
<rect x="196.60" y="195.20" width="9.80" height="3.40" rx="1.20" fill="#4a4a4a" opacity="1.0" filter="url(#blp)"/>
<rect x="208.00" y="195.00" width="9.80" height="3.80" rx="1.20" fill="#2a2a2a" opacity="1.0" filter="url(#blp)"/>
<rect x="219.90" y="195.10" width="9.80" height="3.60" rx="1.20" fill="#2e2e2e" opacity="1.0" filter="url(#blp)"/>
<rect x="162.10" y="206.00" width="10.20" height="6.40" rx="1.20" fill="#2e2e2e" opacity="0.75" filter="url(#blp)"/>
<rect x="162.30" y="206.20" width="9.80" height="2.00" rx="1.00" fill="#2e2e2e" opacity="1.0" filter="url(#blp)"/>
<rect x="162.30" y="210.20" width="9.80" height="2.20" rx="1.10" fill="#2e2e2e" opacity="1.0" filter="url(#blp)"/>
<rect x="173.40" y="206.00" width="10.20" height="6.40" rx="1.20" fill="#3a3a3a" opacity="0.75" filter="url(#blp)"/>
<rect x="173.60" y="206.20" width="9.80" height="2.00" rx="1.00" fill="#3a3a3a" opacity="1.0" filter="url(#blp)"/>
<rect x="173.60" y="210.20" width="9.80" height="2.20" rx="1.10" fill="#3a3a3a" opacity="1.0" filter="url(#blp)"/>
<rect x="185.10" y="206.00" width="10.20" height="6.40" rx="1.20" fill="#3a3a3a" opacity="0.75" filter="url(#blp)"/>
<rect x="185.30" y="206.20" width="9.80" height="2.00" rx="1.00" fill="#3a3a3a" opacity="1.0" filter="url(#blp)"/>
<rect x="185.30" y="210.20" width="9.80" height="2.20" rx="1.10" fill="#3a3a3a" opacity="1.0" filter="url(#blp)"/>
<rect x="196.40" y="206.00" width="10.20" height="6.40" rx="1.20" fill="#333" opacity="0.75" filter="url(#blp)"/>
<rect x="196.60" y="206.20" width="9.80" height="2.00" rx="1.00" fill="#333" opacity="1.0" filter="url(#blp)"/>
<rect x="196.60" y="210.20" width="9.80" height="2.20" rx="1.10" fill="#333" opacity="1.0" filter="url(#blp)"/>
<rect x="207.80" y="206.00" width="10.20" height="6.40" rx="1.20" fill="#2a2a2a" opacity="0.75" filter="url(#blp)"/>
<rect x="208.00" y="206.20" width="9.80" height="2.00" rx="1.00" fill="#2a2a2a" opacity="1.0" filter="url(#blp)"/>
<rect x="208.00" y="210.20" width="9.80" height="2.20" rx="1.10" fill="#2a2a2a" opacity="1.0" filter="url(#blp)"/>
<rect x="219.70" y="206.00" width="10.20" height="6.40" rx="1.20" fill="#2a2a2a" opacity="0.75" filter="url(#blp)"/>
<rect x="219.90" y="206.20" width="9.80" height="2.00" rx="1.00" fill="#2a2a2a" opacity="1.0" filter="url(#blp)"/>
<rect x="219.90" y="210.20" width="9.80" height="2.20" rx="1.10" fill="#2a2a2a" opacity="1.0" filter="url(#blp)"/>
<rect x="161.20" y="160.40" width="69.80" height="26.30" fill="none" stroke="#3a3a3a" stroke-width="0.9"/>
<line x1="161.20" y1="173.30" x2="231.00" y2="173.30" stroke="#3a3a3a" stroke-width="0.9"/>
<rect x="161.20" y="189.30" width="69.80" height="25.90" fill="none" stroke="#3a3a3a" stroke-width="0.9"/>
<line x1="161.20" y1="202.50" x2="231.00" y2="202.50" stroke="#3a3a3a" stroke-width="0.9"/>
<rect x="41.20" y="280.33" width="11.20" height="10.37" fill="#ad0633"/>
<rect x="55.20" y="256.49" width="11.20" height="34.21" fill="#ad0633"/>
<rect x="69.40" y="269.45" width="11.40" height="21.25" fill="#ad0633"/>
<line x1="60.90" y1="256.49" x2="60.90" y2="239.38" stroke="#231f20" stroke-width="1.0"/>
<line x1="58.00" y1="239.38" x2="63.80" y2="239.38" stroke="#231f20" stroke-width="1.0"/>
<line x1="75.10" y1="269.45" x2="75.10" y2="261.15" stroke="#231f20" stroke-width="1.0"/>
<line x1="72.20" y1="261.15" x2="78.00" y2="261.15" stroke="#231f20" stroke-width="1.0"/>
<polygon points="60.80,231.55 61.26,232.66 62.46,232.76 61.55,233.54 61.83,234.72 60.80,234.09 59.77,234.72 60.05,233.54 59.14,232.76 60.34,232.66" fill="#231f20" stroke="#231f20" stroke-width="0.35" stroke-linejoin="round"/>
<line x1="39.50" y1="226.50" x2="39.50" y2="291.30" stroke="#231f20" stroke-width="1.2"/>
<line x1="39.00" y1="290.70" x2="82.70" y2="290.70" stroke="#231f20" stroke-width="1.2"/>
<line x1="36.20" y1="290.70" x2="39.50" y2="290.70" stroke="#231f20" stroke-width="1.1"/>
<line x1="36.20" y1="269.97" x2="39.50" y2="269.97" stroke="#231f20" stroke-width="1.1"/>
<line x1="36.20" y1="249.23" x2="39.50" y2="249.23" stroke="#231f20" stroke-width="1.1"/>
<line x1="36.20" y1="228.50" x2="39.50" y2="228.50" stroke="#231f20" stroke-width="1.1"/>
<line x1="46.40" y1="290.70" x2="46.40" y2="293.70" stroke="#231f20" stroke-width="1.0"/>
<line x1="61.00" y1="290.70" x2="61.00" y2="293.70" stroke="#231f20" stroke-width="1.0"/>
<line x1="75.60" y1="290.70" x2="75.60" y2="293.70" stroke="#231f20" stroke-width="1.0"/>
<text x="33.40" y="231.10" font-size="8.4" text-anchor="end" textLength="11.80" lengthAdjust="spacingAndGlyphs">6.0</text>
<text x="33.40" y="251.83" font-size="8.4" text-anchor="end" textLength="11.80" lengthAdjust="spacingAndGlyphs">4.0</text>
<text x="33.40" y="272.57" font-size="8.4" text-anchor="end" textLength="11.80" lengthAdjust="spacingAndGlyphs">2.0</text>
<text x="33.40" y="293.30" font-size="8.4" text-anchor="end">0</text>
<text x="46.85" y="303.60" font-size="7.9" text-anchor="middle" textLength="12.00" lengthAdjust="spacingAndGlyphs">con</text>
<text x="60.85" y="303.60" font-size="7.9" text-anchor="middle" textLength="8.30" lengthAdjust="spacingAndGlyphs">wt</text>
<text x="76.75" y="303.60" font-size="7.9" text-anchor="middle" textLength="19.00" lengthAdjust="spacingAndGlyphs">E26A</text>
<line x1="55.00" y1="308.10" x2="87.30" y2="308.10" stroke="#231f20" stroke-width="1.1"/>
<text x="70.65" y="317.40" font-size="7.9" text-anchor="middle" textLength="17.00" lengthAdjust="spacingAndGlyphs">FVIIa</text>
<text x="15.30" y="257.80" font-size="8.8" text-anchor="middle" textLength="28.50" lengthAdjust="spacingAndGlyphs" transform="rotate(-90 15.30 257.80)">TF (fold)</text>
<text x="131.00" y="141.60" font-size="11.5" font-weight="bold" textLength="7.00" lengthAdjust="spacingAndGlyphs">F</text>
<text x="196.40" y="148.10" font-size="8.6" text-anchor="middle" textLength="37.50" lengthAdjust="spacingAndGlyphs">time (min)</text>
<line x1="161.30" y1="150.50" x2="231.00" y2="150.50" stroke="#231f20" stroke-width="1.1"/>
<text x="168.40" y="159.30" font-size="8.2" text-anchor="middle">0</text>
<text x="180.00" y="159.30" font-size="8.2" text-anchor="middle">10</text>
<text x="190.60" y="159.30" font-size="8.2" text-anchor="middle">20</text>
<text x="201.80" y="159.30" font-size="8.2" text-anchor="middle">30</text>
<text x="212.40" y="159.30" font-size="8.2" text-anchor="middle">40</text>
<text x="223.50" y="159.30" font-size="8.2" text-anchor="middle">60</text>
<text x="155.60" y="176.00" font-size="8.0" text-anchor="end" textLength="7.60" lengthAdjust="spacingAndGlyphs">wt</text>
<text x="156.50" y="205.60" font-size="7.9" text-anchor="end" textLength="18.60" lengthAdjust="spacingAndGlyphs">E26A</text>
<text x="234.70" y="170.20" font-size="7.8" textLength="18.50" lengthAdjust="spacingAndGlyphs">pERK</text>
<text x="234.70" y="184.70" font-size="7.8" textLength="13.50" lengthAdjust="spacingAndGlyphs">ERK</text>
<text x="234.70" y="198.00" font-size="7.8" textLength="18.50" lengthAdjust="spacingAndGlyphs">pERK</text>
<text x="234.70" y="212.40" font-size="7.8" textLength="13.50" lengthAdjust="spacingAndGlyphs">ERK</text>
<line x1="162.20" y1="228.50" x2="162.20" y2="291.40" stroke="#231f20" stroke-width="1.2"/>
<line x1="161.60" y1="290.80" x2="226.50" y2="290.80" stroke="#231f20" stroke-width="1.2"/>
<line x1="158.80" y1="290.80" x2="162.20" y2="290.80" stroke="#231f20" stroke-width="1.1"/>
<line x1="158.80" y1="278.70" x2="162.20" y2="278.70" stroke="#231f20" stroke-width="1.1"/>
<line x1="158.80" y1="266.60" x2="162.20" y2="266.60" stroke="#231f20" stroke-width="1.1"/>
<line x1="158.80" y1="254.50" x2="162.20" y2="254.50" stroke="#231f20" stroke-width="1.1"/>
<line x1="158.80" y1="242.40" x2="162.20" y2="242.40" stroke="#231f20" stroke-width="1.1"/>
<line x1="158.80" y1="230.30" x2="162.20" y2="230.30" stroke="#231f20" stroke-width="1.1"/>
<line x1="162.40" y1="290.80" x2="162.40" y2="293.80" stroke="#231f20" stroke-width="1.0"/>
<line x1="183.23" y1="290.80" x2="183.23" y2="293.80" stroke="#231f20" stroke-width="1.0"/>
<line x1="204.07" y1="290.80" x2="204.07" y2="293.80" stroke="#231f20" stroke-width="1.0"/>
<line x1="224.90" y1="290.80" x2="224.90" y2="293.80" stroke="#231f20" stroke-width="1.0"/>
<text x="156.10" y="293.40" font-size="8.4" text-anchor="end">0</text>
<text x="156.10" y="281.30" font-size="8.4" text-anchor="end" textLength="10.50" lengthAdjust="spacingAndGlyphs">0.2</text>
<text x="156.10" y="269.20" font-size="8.4" text-anchor="end" textLength="10.50" lengthAdjust="spacingAndGlyphs">0.4</text>
<text x="156.10" y="257.10" font-size="8.4" text-anchor="end" textLength="10.50" lengthAdjust="spacingAndGlyphs">0.6</text>
<text x="156.10" y="245.00" font-size="8.4" text-anchor="end" textLength="10.50" lengthAdjust="spacingAndGlyphs">0.8</text>
<text x="156.10" y="232.90" font-size="8.4" text-anchor="end" textLength="10.50" lengthAdjust="spacingAndGlyphs">1.0</text>
<text x="162.40" y="304.00" font-size="8" text-anchor="middle">0</text>
<text x="183.23" y="304.00" font-size="8" text-anchor="middle">20</text>
<text x="204.07" y="304.00" font-size="8" text-anchor="middle">40</text>
<text x="224.90" y="304.00" font-size="8" text-anchor="middle">60</text>
<text x="195.10" y="317.70" font-size="9.5" text-anchor="middle" textLength="37.60" lengthAdjust="spacingAndGlyphs">Time (min)</text>
<text x="139.30" y="258.40" font-size="8.8" text-anchor="middle" textLength="34.50" lengthAdjust="spacingAndGlyphs" transform="rotate(-90 139.30 258.40)">pERK/ERK</text>
<line x1="172.82" y1="287.78" x2="172.82" y2="284.75" stroke="#55657f" stroke-width="1.0"/>
<line x1="170.52" y1="287.78" x2="175.12" y2="287.78" stroke="#55657f" stroke-width="1.0"/>
<line x1="183.23" y1="284.75" x2="183.23" y2="278.70" stroke="#55657f" stroke-width="1.0"/>
<line x1="180.93" y1="284.75" x2="185.53" y2="284.75" stroke="#55657f" stroke-width="1.0"/>
<line x1="193.65" y1="278.70" x2="193.65" y2="272.65" stroke="#55657f" stroke-width="1.0"/>
<line x1="191.35" y1="278.70" x2="195.95" y2="278.70" stroke="#55657f" stroke-width="1.0"/>
<line x1="204.07" y1="284.75" x2="204.07" y2="272.65" stroke="#55657f" stroke-width="1.0"/>
<line x1="201.77" y1="284.75" x2="206.37" y2="284.75" stroke="#55657f" stroke-width="1.0"/>
<line x1="224.90" y1="290.80" x2="224.90" y2="278.70" stroke="#55657f" stroke-width="1.0"/>
<line x1="222.60" y1="290.80" x2="227.20" y2="290.80" stroke="#55657f" stroke-width="1.0"/>
<line x1="172.82" y1="284.75" x2="172.82" y2="278.70" stroke="#8e2040" stroke-width="1.0"/>
<line x1="170.52" y1="278.70" x2="175.12" y2="278.70" stroke="#8e2040" stroke-width="1.0"/>
<line x1="183.23" y1="266.60" x2="183.23" y2="260.55" stroke="#8e2040" stroke-width="1.0"/>
<line x1="180.93" y1="260.55" x2="185.53" y2="260.55" stroke="#8e2040" stroke-width="1.0"/>
<line x1="193.65" y1="254.50" x2="193.65" y2="248.45" stroke="#8e2040" stroke-width="1.0"/>
<line x1="191.35" y1="248.45" x2="195.95" y2="248.45" stroke="#8e2040" stroke-width="1.0"/>
<line x1="204.07" y1="260.55" x2="204.07" y2="248.45" stroke="#8e2040" stroke-width="1.0"/>
<line x1="201.77" y1="248.45" x2="206.37" y2="248.45" stroke="#8e2040" stroke-width="1.0"/>
<line x1="224.90" y1="266.60" x2="224.90" y2="248.45" stroke="#8e2040" stroke-width="1.0"/>
<line x1="222.60" y1="248.45" x2="227.20" y2="248.45" stroke="#8e2040" stroke-width="1.0"/>
<polyline points="162.40,290.80 172.82,284.75 183.23,278.70 193.65,272.65 204.07,272.65 224.90,278.70" fill="none" stroke="#3f5f86" stroke-width="1.2" stroke-linejoin="round"/>
<circle cx="162.40" cy="290.80" r="2.4" fill="#ffffff" stroke="#3f5f86" stroke-width="1.15"/>
<circle cx="172.82" cy="284.75" r="2.4" fill="#ffffff" stroke="#3f5f86" stroke-width="1.15"/>
<circle cx="183.23" cy="278.70" r="2.4" fill="#ffffff" stroke="#3f5f86" stroke-width="1.15"/>
<circle cx="193.65" cy="272.65" r="2.4" fill="#ffffff" stroke="#3f5f86" stroke-width="1.15"/>
<circle cx="204.07" cy="272.65" r="2.4" fill="#ffffff" stroke="#3f5f86" stroke-width="1.15"/>
<circle cx="224.90" cy="278.70" r="2.4" fill="#ffffff" stroke="#3f5f86" stroke-width="1.15"/>
<polyline points="162.40,290.80 172.82,284.75 183.23,266.60 193.65,254.50 204.07,260.55 224.90,266.60" fill="none" stroke="#ad0633" stroke-width="1.3" stroke-linejoin="round"/>
<circle cx="162.40" cy="290.80" r="2.8" fill="#ad0633" stroke="none" stroke-width="1.0"/>
<circle cx="172.82" cy="284.75" r="2.8" fill="#ad0633" stroke="none" stroke-width="1.0"/>
<circle cx="183.23" cy="266.60" r="2.8" fill="#ad0633" stroke="none" stroke-width="1.0"/>
<circle cx="193.65" cy="254.50" r="2.8" fill="#ad0633" stroke="none" stroke-width="1.0"/>
<circle cx="204.07" cy="260.55" r="2.8" fill="#ad0633" stroke="none" stroke-width="1.0"/>
<circle cx="224.90" cy="266.60" r="2.8" fill="#ad0633" stroke="none" stroke-width="1.0"/>
<polygon points="183.23,256.65 183.70,257.76 184.90,257.86 183.98,258.64 184.26,259.82 183.23,259.19 182.20,259.82 182.48,258.64 181.57,257.86 182.77,257.76" fill="#231f20" stroke="#231f20" stroke-width="0.35" stroke-linejoin="round"/>
<polygon points="188.70,240.25 189.16,241.36 190.36,241.46 189.45,242.24 189.73,243.42 188.70,242.79 187.67,243.42 187.95,242.24 187.04,241.46 188.24,241.36" fill="#231f20" stroke="#231f20" stroke-width="0.35" stroke-linejoin="round"/>
<polygon points="192.80,240.25 193.26,241.36 194.46,241.46 193.55,242.24 193.83,243.42 192.80,242.79 191.77,243.42 192.05,242.24 191.14,241.46 192.34,241.36" fill="#231f20" stroke="#231f20" stroke-width="0.35" stroke-linejoin="round"/>
<polygon points="196.90,240.25 197.36,241.36 198.56,241.46 197.65,242.24 197.93,243.42 196.90,242.79 195.87,243.42 196.15,242.24 195.24,241.46 196.44,241.36" fill="#231f20" stroke="#231f20" stroke-width="0.35" stroke-linejoin="round"/>
<line x1="218.80" y1="226.50" x2="235.20" y2="226.50" stroke="#ad0633" stroke-width="1.3"/>
<circle cx="227.00" cy="226.50" r="2.6" fill="#ad0633" stroke="none" stroke-width="1.0"/>
<text x="238.00" y="229.20" font-size="7.9" textLength="8.20" lengthAdjust="spacingAndGlyphs">wt</text>
<line x1="218.80" y1="237.20" x2="235.20" y2="237.20" stroke="#3f5f86" stroke-width="1.2"/>
<circle cx="227.00" cy="237.20" r="2.3" fill="#ffffff" stroke="#3f5f86" stroke-width="1.0"/>
<text x="238.00" y="239.90" font-size="7.9" textLength="18.60" lengthAdjust="spacingAndGlyphs">E26A</text>
<text x="9.40" y="334.00" font-size="11.5" font-weight="bold" textLength="8.00" lengthAdjust="spacingAndGlyphs">G</text>
<rect x="44.60" y="400.13" width="11.20" height="11.77" fill="#ad0633"/>
<rect x="59.20" y="373.89" width="11.80" height="38.01" fill="#ad0633"/>
<rect x="73.70" y="391.43" width="11.10" height="20.47" fill="#ad0633"/>
<line x1="65.10" y1="373.89" x2="65.10" y2="362.24" stroke="#231f20" stroke-width="1.0"/>
<line x1="62.20" y1="362.24" x2="68.00" y2="362.24" stroke="#231f20" stroke-width="1.0"/>
<line x1="79.20" y1="391.43" x2="79.20" y2="384.01" stroke="#231f20" stroke-width="1.0"/>
<line x1="76.30" y1="384.01" x2="82.10" y2="384.01" stroke="#231f20" stroke-width="1.0"/>
<polygon points="60.60,356.25 61.06,357.36 62.26,357.46 61.35,358.24 61.63,359.42 60.60,358.79 59.57,359.42 59.85,358.24 58.94,357.46 60.14,357.36" fill="#231f20" stroke="#231f20" stroke-width="0.35" stroke-linejoin="round"/>
<polygon points="64.70,356.25 65.16,357.36 66.36,357.46 65.45,358.24 65.73,359.42 64.70,358.79 63.67,359.42 63.95,358.24 63.04,357.46 64.24,357.36" fill="#231f20" stroke="#231f20" stroke-width="0.35" stroke-linejoin="round"/>
<polygon points="68.80,356.25 69.26,357.36 70.46,357.46 69.55,358.24 69.83,359.42 68.80,358.79 67.77,359.42 68.05,358.24 67.14,357.46 68.34,357.36" fill="#231f20" stroke="#231f20" stroke-width="0.35" stroke-linejoin="round"/>
<line x1="42.80" y1="339.50" x2="42.80" y2="412.50" stroke="#231f20" stroke-width="1.3"/>
<line x1="42.20" y1="411.90" x2="86.60" y2="411.90" stroke="#231f20" stroke-width="1.2"/>
<line x1="39.60" y1="411.90" x2="42.80" y2="411.90" stroke="#231f20" stroke-width="1.1"/>
<line x1="39.60" y1="388.37" x2="42.80" y2="388.37" stroke="#231f20" stroke-width="1.1"/>
<line x1="39.60" y1="364.83" x2="42.80" y2="364.83" stroke="#231f20" stroke-width="1.1"/>
<line x1="39.60" y1="341.30" x2="42.80" y2="341.30" stroke="#231f20" stroke-width="1.1"/>
<line x1="50.30" y1="411.90" x2="50.30" y2="414.90" stroke="#231f20" stroke-width="1.0"/>
<line x1="64.60" y1="411.90" x2="64.60" y2="414.90" stroke="#231f20" stroke-width="1.0"/>
<line x1="78.80" y1="411.90" x2="78.80" y2="414.90" stroke="#231f20" stroke-width="1.0"/>
<text x="37.40" y="343.90" font-size="8.4" text-anchor="end" textLength="11.80" lengthAdjust="spacingAndGlyphs">6.0</text>
<text x="37.40" y="367.43" font-size="8.4" text-anchor="end" textLength="11.80" lengthAdjust="spacingAndGlyphs">4.0</text>
<text x="37.40" y="390.97" font-size="8.4" text-anchor="end" textLength="11.80" lengthAdjust="spacingAndGlyphs">2.0</text>
<text x="37.40" y="414.50" font-size="8.4" text-anchor="end">0</text>
<text x="50.55" y="425.60" font-size="7.9" text-anchor="middle" textLength="12.00" lengthAdjust="spacingAndGlyphs">con</text>
<text x="65.10" y="425.60" font-size="7.9" text-anchor="middle" textLength="8.30" lengthAdjust="spacingAndGlyphs">wt</text>
<text x="80.50" y="425.60" font-size="7.9" text-anchor="middle" textLength="18.80" lengthAdjust="spacingAndGlyphs">E26A</text>
<line x1="59.00" y1="429.20" x2="91.90" y2="429.20" stroke="#231f20" stroke-width="1.1"/>
<text x="74.90" y="437.80" font-size="7.9" text-anchor="middle" textLength="17.00" lengthAdjust="spacingAndGlyphs">FVIIa</text>
<text x="19.20" y="374.30" font-size="9.0" text-anchor="middle" textLength="67.50" lengthAdjust="spacingAndGlyphs" transform="rotate(-90 19.20 374.30)">IL-8 induction (fold)</text>
<text x="129.00" y="334.50" font-size="11.5" font-weight="bold" textLength="7.60" lengthAdjust="spacingAndGlyphs">H</text>
<line x1="196.05" y1="371.94" x2="196.05" y2="398.64" stroke="#231f20" stroke-width="1.0"/>
<line x1="193.05" y1="371.94" x2="199.05" y2="371.94" stroke="#231f20" stroke-width="1.0"/>
<line x1="193.05" y1="398.64" x2="199.05" y2="398.64" stroke="#231f20" stroke-width="1.0"/>
<rect x="190.20" y="377.21" width="11.70" height="21.43" fill="#ad0633"/>
<line x1="190.20" y1="393.00" x2="201.90" y2="393.00" stroke="#6a0a22" stroke-width="1.3"/>
<line x1="212.85" y1="382.85" x2="212.85" y2="405.41" stroke="#231f20" stroke-width="1.0"/>
<line x1="209.85" y1="382.85" x2="215.85" y2="382.85" stroke="#231f20" stroke-width="1.0"/>
<line x1="209.85" y1="405.41" x2="215.85" y2="405.41" stroke="#231f20" stroke-width="1.0"/>
<rect x="207.00" y="387.36" width="11.70" height="16.17" fill="#ad0633"/>
<line x1="207.00" y1="399.02" x2="218.70" y2="399.02" stroke="#6a0a22" stroke-width="1.3"/>
<line x1="229.75" y1="369.31" x2="229.75" y2="401.65" stroke="#231f20" stroke-width="1.0"/>
<line x1="226.75" y1="369.31" x2="232.75" y2="369.31" stroke="#231f20" stroke-width="1.0"/>
<line x1="226.75" y1="401.65" x2="232.75" y2="401.65" stroke="#231f20" stroke-width="1.0"/>
<rect x="224.00" y="386.23" width="11.50" height="12.03" fill="#ad0633"/>
<line x1="224.00" y1="394.88" x2="235.50" y2="394.88" stroke="#6a0a22" stroke-width="1.3"/>
<polygon points="210.60,375.75 211.06,376.86 212.26,376.96 211.35,377.74 211.63,378.92 210.60,378.29 209.57,378.92 209.85,377.74 208.94,376.96 210.14,376.86" fill="#231f20" stroke="#231f20" stroke-width="0.35" stroke-linejoin="round"/>
<polygon points="215.10,375.75 215.56,376.86 216.76,376.96 215.85,377.74 216.13,378.92 215.10,378.29 214.07,378.92 214.35,377.74 213.44,376.96 214.64,376.86" fill="#231f20" stroke="#231f20" stroke-width="0.35" stroke-linejoin="round"/>
<line x1="187.40" y1="353.60" x2="187.40" y2="412.40" stroke="#231f20" stroke-width="1.2"/>
<line x1="186.80" y1="411.80" x2="238.60" y2="411.80" stroke="#231f20" stroke-width="1.2"/>
<line x1="183.80" y1="411.80" x2="187.40" y2="411.80" stroke="#231f20" stroke-width="1.1"/>
<line x1="183.80" y1="393.00" x2="187.40" y2="393.00" stroke="#231f20" stroke-width="1.1"/>
<line x1="183.80" y1="374.20" x2="187.40" y2="374.20" stroke="#231f20" stroke-width="1.1"/>
<line x1="183.80" y1="355.40" x2="187.40" y2="355.40" stroke="#231f20" stroke-width="1.1"/>
<line x1="195.90" y1="411.80" x2="195.90" y2="414.70" stroke="#231f20" stroke-width="1.0"/>
<line x1="212.70" y1="411.80" x2="212.70" y2="414.70" stroke="#231f20" stroke-width="1.0"/>
<line x1="229.80" y1="411.80" x2="229.80" y2="414.70" stroke="#231f20" stroke-width="1.0"/>
<text x="180.70" y="358.00" font-size="8.4" text-anchor="end" textLength="24.50" lengthAdjust="spacingAndGlyphs">15,000</text>
<text x="180.70" y="376.80" font-size="8.4" text-anchor="end" textLength="24.50" lengthAdjust="spacingAndGlyphs">10,000</text>
<text x="180.70" y="395.60" font-size="8.4" text-anchor="end" textLength="20.00" lengthAdjust="spacingAndGlyphs">5,000</text>
<text x="180.70" y="414.40" font-size="8.4" text-anchor="end">0</text>
<text x="195.50" y="423.80" font-size="7.9" text-anchor="middle" textLength="12.00" lengthAdjust="spacingAndGlyphs">con</text>
<text x="212.80" y="423.80" font-size="7.9" text-anchor="middle" textLength="8.30" lengthAdjust="spacingAndGlyphs">wt</text>
<text x="229.50" y="423.80" font-size="7.9" text-anchor="middle" textLength="19.00" lengthAdjust="spacingAndGlyphs">E26A</text>
<line x1="204.00" y1="429.20" x2="236.90" y2="429.20" stroke="#231f20" stroke-width="1.1"/>
<text x="220.50" y="437.90" font-size="7.9" text-anchor="middle" textLength="17.20" lengthAdjust="spacingAndGlyphs">FVIIa</text>
<text x="137.80" y="383.80" font-size="8.8" text-anchor="middle" textLength="37.00" lengthAdjust="spacingAndGlyphs" transform="rotate(-90 137.80 383.80)">TF surface</text>
<text x="149.80" y="382.00" font-size="8.8" text-anchor="middle" textLength="58.00" lengthAdjust="spacingAndGlyphs" transform="rotate(-90 149.80 382.00)">expression (MFI)</text>
<text x="269.60" y="142.00" font-size="11.5" font-weight="bold" textLength="3.20" lengthAdjust="spacingAndGlyphs">I</text>
<text x="312.30" y="148.70" font-size="7.4" text-anchor="middle" textLength="32.60" lengthAdjust="spacingAndGlyphs">EEA1-488</text>
<text x="391.60" y="149.20" font-size="8.0" text-anchor="middle" textLength="39.40" lengthAdjust="spacingAndGlyphs">TS2/16-647</text>
<text x="474.20" y="148.60" font-size="8.0" text-anchor="middle" textLength="21.80" lengthAdjust="spacingAndGlyphs">merge</text>
<rect x="278.00" y="152.00" width="77.00" height="76.50" fill="#000000"/>
<g clip-path="url(#c11)">
<circle cx="294.82" cy="174.47" r="0.55" fill="#5a9a30"/>
<circle cx="292.73" cy="167.29" r="0.45" fill="#70b040"/>
<circle cx="294.43" cy="169.03" r="0.50" fill="#3a7a20"/>
<circle cx="292.60" cy="166.81" r="0.55" fill="#a8d870"/>
<circle cx="294.39" cy="178.49" r="0.45" fill="#5a9a30"/>
<circle cx="296.27" cy="167.01" r="0.55" fill="#70b040"/>
<circle cx="294.16" cy="171.37" r="0.45" fill="#70b040"/>
<circle cx="291.99" cy="176.85" r="0.55" fill="#3a7a20"/>
<circle cx="296.28" cy="168.46" r="0.55" fill="#a8d870"/>
<circle cx="292.57" cy="176.47" r="0.50" fill="#88c050"/>
<circle cx="294.40" cy="170.55" r="0.45" fill="#70b040"/>
<circle cx="290.19" cy="177.25" r="0.50" fill="#a8d870"/>
<circle cx="294.55" cy="172.18" r="0.45" fill="#88c050"/>
<circle cx="293.50" cy="182.43" r="0.55" fill="#5a9a30"/>
<circle cx="293.20" cy="167.58" r="0.50" fill="#4a8a28"/>
<circle cx="291.22" cy="179.04" r="0.45" fill="#88c050"/>
<circle cx="294.06" cy="182.32" r="0.45" fill="#a8d870"/>
<circle cx="294.91" cy="166.31" r="0.50" fill="#a8d870"/>
<circle cx="292.47" cy="173.47" r="0.50" fill="#5a9a30"/>
<circle cx="292.40" cy="172.55" r="0.50" fill="#70b040"/>
<circle cx="294.96" cy="170.64" r="0.45" fill="#88c050"/>
<circle cx="293.81" cy="170.63" r="0.50" fill="#70b040"/>
<circle cx="292.46" cy="184.62" r="0.55" fill="#4a8a28"/>
<circle cx="293.45" cy="183.50" r="0.45" fill="#70b040"/>
<circle cx="294.39" cy="172.72" r="0.45" fill="#3a7a20"/>
<circle cx="295.40" cy="171.83" r="0.55" fill="#4a8a28"/>
<circle cx="294.73" cy="176.94" r="0.55" fill="#3a7a20"/>
<circle cx="292.59" cy="177.79" r="0.55" fill="#a8d870"/>
<circle cx="292.90" cy="174.58" r="0.50" fill="#a8d870"/>
<circle cx="296.27" cy="168.49" r="0.45" fill="#70b040"/>
<circle cx="293.66" cy="173.25" r="0.55" fill="#70b040"/>
<circle cx="294.96" cy="169.06" r="0.55" fill="#70b040"/>
<circle cx="291.31" cy="171.49" r="0.50" fill="#3a7a20"/>
<circle cx="294.21" cy="176.76" r="0.50" fill="#88c050"/>
<circle cx="337.49" cy="168.77" r="0.55" fill="#4a8a28"/>
<circle cx="333.67" cy="170.24" r="0.45" fill="#5a9a30"/>
<circle cx="344.40" cy="160.83" r="0.45" fill="#3a7a20"/>
<circle cx="341.15" cy="166.21" r="0.55" fill="#5a9a30"/>
<circle cx="340.42" cy="162.60" r="0.45" fill="#4a8a28"/>
<circle cx="338.02" cy="166.68" r="0.55" fill="#70b040"/>
<circle cx="345.18" cy="163.28" r="0.50" fill="#70b040"/>
<circle cx="341.61" cy="166.28" r="0.55" fill="#4a8a28"/>
<circle cx="330.50" cy="173.00" r="0.45" fill="#4a8a28"/>
<circle cx="341.92" cy="165.11" r="0.50" fill="#a8d870"/>
<circle cx="344.59" cy="161.58" r="0.50" fill="#70b040"/>
<circle cx="332.70" cy="173.29" r="0.45" fill="#3a7a20"/>
<circle cx="335.57" cy="166.60" r="0.55" fill="#5a9a30"/>
<circle cx="329.37" cy="173.50" r="0.50" fill="#70b040"/>
<circle cx="342.32" cy="162.88" r="0.55" fill="#5a9a30"/>
<circle cx="332.93" cy="171.36" r="0.45" fill="#a8d870"/>
<circle cx="332.27" cy="172.31" r="0.55" fill="#88c050"/>
<circle cx="333.04" cy="168.74" r="0.50" fill="#a8d870"/>
<circle cx="331.26" cy="171.81" r="0.55" fill="#a8d870"/>
<circle cx="330.65" cy="171.60" r="0.45" fill="#70b040"/>
<circle cx="329.80" cy="174.32" r="0.50" fill="#3a7a20"/>
<circle cx="332.62" cy="171.31" r="0.50" fill="#a8d870"/>
<circle cx="342.92" cy="159.94" r="0.50" fill="#3a7a20"/>
<circle cx="343.41" cy="162.77" r="0.55" fill="#70b040"/>
<circle cx="339.00" cy="166.50" r="0.45" fill="#3a7a20"/>
<circle cx="342.44" cy="164.71" r="0.55" fill="#3a7a20"/>
<circle cx="332.76" cy="172.92" r="0.55" fill="#3a7a20"/>
<circle cx="337.40" cy="165.82" r="0.45" fill="#5a9a30"/>
<circle cx="332.67" cy="171.75" r="0.55" fill="#88c050"/>
<circle cx="329.82" cy="172.54" r="0.55" fill="#4a8a28"/>
<circle cx="344.84" cy="159.99" r="0.50" fill="#4a8a28"/>
<circle cx="337.93" cy="166.70" r="0.55" fill="#70b040"/>
<circle cx="339.77" cy="165.85" r="0.45" fill="#3a7a20"/>
<circle cx="343.58" cy="163.52" r="0.50" fill="#88c050"/>
<circle cx="319.33" cy="189.67" r="0.50" fill="#a8d870"/>
<circle cx="332.10" cy="200.70" r="0.55" fill="#a8d870"/>
<circle cx="331.13" cy="201.11" r="0.45" fill="#88c050"/>
<circle cx="333.13" cy="202.01" r="0.55" fill="#70b040"/>
<circle cx="333.02" cy="203.19" r="0.50" fill="#3a7a20"/>
<circle cx="324.37" cy="194.61" r="0.50" fill="#a8d870"/>
<circle cx="317.03" cy="187.85" r="0.50" fill="#5a9a30"/>
<circle cx="322.75" cy="192.32" r="0.45" fill="#5a9a30"/>
<circle cx="335.59" cy="201.36" r="0.45" fill="#5a9a30"/>
<circle cx="324.90" cy="192.88" r="0.45" fill="#4a8a28"/>
<circle cx="333.23" cy="200.21" r="0.50" fill="#4a8a28"/>
<circle cx="322.14" cy="189.59" r="0.50" fill="#a8d870"/>
<circle cx="321.46" cy="190.14" r="0.45" fill="#88c050"/>
<circle cx="323.33" cy="192.43" r="0.45" fill="#4a8a28"/>
<circle cx="328.75" cy="199.10" r="0.50" fill="#5a9a30"/>
<circle cx="319.56" cy="188.14" r="0.55" fill="#4a8a28"/>
<circle cx="319.36" cy="189.92" r="0.45" fill="#5a9a30"/>
<circle cx="323.91" cy="195.00" r="0.50" fill="#a8d870"/>
<circle cx="327.66" cy="198.14" r="0.45" fill="#a8d870"/>
<circle cx="324.18" cy="188.44" r="0.45" fill="#5a9a30"/>
<circle cx="314.74" cy="188.17" r="0.50" fill="#3a7a20"/>
<circle cx="320.56" cy="192.61" r="0.50" fill="#a8d870"/>
<circle cx="326.77" cy="198.16" r="0.50" fill="#3a7a20"/>
<circle cx="331.09" cy="199.35" r="0.55" fill="#a8d870"/>
<circle cx="328.05" cy="199.26" r="0.45" fill="#5a9a30"/>
<circle cx="316.37" cy="186.33" r="0.45" fill="#88c050"/>
<circle cx="318.35" cy="187.79" r="0.55" fill="#3a7a20"/>
<circle cx="332.91" cy="203.32" r="0.50" fill="#5a9a30"/>
<circle cx="321.29" cy="191.11" r="0.50" fill="#4a8a28"/>
<circle cx="333.63" cy="204.22" r="0.45" fill="#4a8a28"/>
<circle cx="325.57" cy="193.84" r="0.50" fill="#88c050"/>
<circle cx="327.26" cy="197.77" r="0.45" fill="#5a9a30"/>
<circle cx="323.79" cy="193.00" r="0.50" fill="#5a9a30"/>
<circle cx="318.09" cy="189.25" r="0.55" fill="#3a7a20"/>
<circle cx="305.31" cy="218.09" r="0.50" fill="#3a7a20"/>
<circle cx="302.98" cy="212.43" r="0.55" fill="#4a8a28"/>
<circle cx="304.28" cy="212.82" r="0.55" fill="#a8d870"/>
<circle cx="302.56" cy="208.71" r="0.55" fill="#70b040"/>
<circle cx="301.04" cy="212.69" r="0.55" fill="#5a9a30"/>
<circle cx="304.28" cy="208.97" r="0.55" fill="#a8d870"/>
<circle cx="304.50" cy="203.38" r="0.45" fill="#4a8a28"/>
<circle cx="302.64" cy="206.19" r="0.55" fill="#5a9a30"/>
<circle cx="302.76" cy="210.15" r="0.45" fill="#88c050"/>
<circle cx="301.57" cy="213.56" r="0.55" fill="#a8d870"/>
<circle cx="305.17" cy="199.21" r="0.50" fill="#5a9a30"/>
<circle cx="303.83" cy="202.40" r="0.50" fill="#a8d870"/>
<circle cx="301.66" cy="209.38" r="0.50" fill="#a8d870"/>
<circle cx="301.88" cy="212.73" r="0.55" fill="#5a9a30"/>
<circle cx="304.42" cy="203.84" r="0.55" fill="#4a8a28"/>
<circle cx="303.19" cy="209.90" r="0.55" fill="#4a8a28"/>
<circle cx="305.22" cy="202.29" r="0.55" fill="#a8d870"/>
<circle cx="301.30" cy="204.77" r="0.45" fill="#3a7a20"/>
<circle cx="304.59" cy="205.56" r="0.50" fill="#4a8a28"/>
<circle cx="300.95" cy="200.21" r="0.50" fill="#4a8a28"/>
<circle cx="304.81" cy="202.57" r="0.45" fill="#3a7a20"/>
<circle cx="301.34" cy="201.11" r="0.55" fill="#70b040"/>
<circle cx="300.85" cy="214.96" r="0.50" fill="#a8d870"/>
<circle cx="305.01" cy="202.37" r="0.45" fill="#5a9a30"/>
<circle cx="304.54" cy="199.14" r="0.55" fill="#4a8a28"/>
<circle cx="303.90" cy="202.51" r="0.45" fill="#4a8a28"/>
<circle cx="302.57" cy="206.17" r="0.55" fill="#70b040"/>
<circle cx="305.80" cy="198.22" r="0.50" fill="#5a9a30"/>
<circle cx="303.35" cy="205.95" r="0.50" fill="#88c050"/>
<circle cx="303.70" cy="216.25" r="0.50" fill="#a8d870"/>
<circle cx="304.87" cy="214.02" r="0.55" fill="#88c050"/>
<circle cx="303.64" cy="202.62" r="0.45" fill="#88c050"/>
<circle cx="301.55" cy="212.83" r="0.55" fill="#3a7a20"/>
<circle cx="306.66" cy="204.21" r="0.50" fill="#88c050"/>
<circle cx="335.99" cy="218.47" r="0.45" fill="#88c050"/>
<circle cx="336.37" cy="217.40" r="0.50" fill="#88c050"/>
<circle cx="331.26" cy="217.26" r="0.50" fill="#a8d870"/>
<circle cx="332.52" cy="217.11" r="0.50" fill="#a8d870"/>
<circle cx="329.65" cy="214.08" r="0.50" fill="#3a7a20"/>
<circle cx="332.59" cy="216.54" r="0.50" fill="#88c050"/>
<circle cx="330.34" cy="215.09" r="0.55" fill="#4a8a28"/>
<circle cx="329.81" cy="215.37" r="0.45" fill="#3a7a20"/>
<circle cx="336.88" cy="216.21" r="0.55" fill="#88c050"/>
<circle cx="332.62" cy="216.92" r="0.50" fill="#5a9a30"/>
<circle cx="331.96" cy="214.97" r="0.55" fill="#3a7a20"/>
<circle cx="335.02" cy="215.83" r="0.45" fill="#4a8a28"/>
<circle cx="331.38" cy="214.44" r="0.45" fill="#4a8a28"/>
<circle cx="328.07" cy="215.51" r="0.55" fill="#88c050"/>
<circle cx="335.85" cy="217.29" r="0.50" fill="#3a7a20"/>
<circle cx="337.73" cy="218.51" r="0.45" fill="#70b040"/>
<circle cx="332.17" cy="213.27" r="0.55" fill="#a8d870"/>
<circle cx="334.73" cy="215.16" r="0.45" fill="#3a7a20"/>
<circle cx="330.20" cy="215.20" r="0.55" fill="#5a9a30"/>
<circle cx="337.01" cy="216.43" r="0.55" fill="#3a7a20"/>
<circle cx="332.74" cy="215.16" r="0.55" fill="#4a8a28"/>
<circle cx="337.80" cy="218.72" r="0.45" fill="#3a7a20"/>
<circle cx="328.62" cy="215.41" r="0.55" fill="#4a8a28"/>
<circle cx="336.50" cy="218.94" r="0.45" fill="#3a7a20"/>
<circle cx="327.63" cy="215.11" r="0.45" fill="#5a9a30"/>
<circle cx="332.00" cy="213.53" r="0.50" fill="#5a9a30"/>
<circle cx="329.76" cy="215.48" r="0.45" fill="#88c050"/>
<circle cx="334.81" cy="215.57" r="0.45" fill="#88c050"/>
<circle cx="328.40" cy="216.45" r="0.45" fill="#5a9a30"/>
<circle cx="333.89" cy="218.09" r="0.45" fill="#70b040"/>
<circle cx="332.68" cy="218.58" r="0.55" fill="#5a9a30"/>
<circle cx="333.57" cy="216.84" r="0.55" fill="#88c050"/>
<circle cx="327.02" cy="212.58" r="0.45" fill="#5a9a30"/>
<circle cx="328.08" cy="213.33" r="0.45" fill="#a8d870"/>
<circle cx="308.16" cy="172.78" r="0.55" fill="#4a8a28"/>
<circle cx="310.37" cy="172.07" r="0.45" fill="#70b040"/>
<circle cx="311.47" cy="175.11" r="0.55" fill="#4a8a28"/>
<circle cx="315.35" cy="172.69" r="0.45" fill="#88c050"/>
<circle cx="310.12" cy="171.92" r="0.45" fill="#88c050"/>
<circle cx="312.44" cy="173.41" r="0.50" fill="#4a8a28"/>
<circle cx="309.29" cy="170.71" r="0.50" fill="#3a7a20"/>
<circle cx="308.33" cy="174.28" r="0.55" fill="#5a9a30"/>
<circle cx="312.30" cy="171.58" r="0.50" fill="#5a9a30"/>
<circle cx="311.91" cy="172.33" r="0.45" fill="#4a8a28"/>
<circle cx="314.43" cy="175.34" r="0.50" fill="#4a8a28"/>
<circle cx="313.99" cy="176.98" r="0.55" fill="#a8d870"/>
<circle cx="310.88" cy="173.11" r="0.55" fill="#3a7a20"/>
<circle cx="316.91" cy="178.54" r="0.50" fill="#5a9a30"/>
<circle cx="311.10" cy="176.29" r="0.50" fill="#4a8a28"/>
<circle cx="314.91" cy="177.68" r="0.55" fill="#5a9a30"/>
<circle cx="310.55" cy="172.22" r="0.50" fill="#70b040"/>
<circle cx="311.96" cy="177.46" r="0.45" fill="#3a7a20"/>
<circle cx="311.47" cy="174.82" r="0.45" fill="#88c050"/>
<circle cx="311.28" cy="175.51" r="0.50" fill="#70b040"/>
<circle cx="315.32" cy="177.00" r="0.45" fill="#5a9a30"/>
<circle cx="307.53" cy="171.61" r="0.45" fill="#88c050"/>
<circle cx="308.84" cy="173.36" r="0.45" fill="#a8d870"/>
<circle cx="314.59" cy="174.47" r="0.50" fill="#5a9a30"/>
<circle cx="309.62" cy="172.34" r="0.50" fill="#a8d870"/>
<circle cx="310.21" cy="173.21" r="0.50" fill="#70b040"/>
<circle cx="313.29" cy="176.54" r="0.50" fill="#88c050"/>
<circle cx="314.01" cy="177.90" r="0.55" fill="#5a9a30"/>
<circle cx="311.90" cy="174.03" r="0.50" fill="#70b040"/>
<circle cx="315.54" cy="177.59" r="0.45" fill="#5a9a30"/>
<circle cx="311.83" cy="171.88" r="0.50" fill="#5a9a30"/>
<circle cx="312.85" cy="175.93" r="0.45" fill="#a8d870"/>
<circle cx="308.15" cy="170.62" r="0.45" fill="#70b040"/>
<circle cx="311.77" cy="174.03" r="0.45" fill="#4a8a28"/>
<circle cx="290.10" cy="171.48" r="0.45" fill="#70b040"/>
<circle cx="294.89" cy="170.21" r="0.50" fill="#4a8a28"/>
<circle cx="292.45" cy="174.75" r="0.65" fill="#5a9a30"/>
<circle cx="292.25" cy="176.13" r="0.65" fill="#5a9a30"/>
<circle cx="292.45" cy="173.06" r="0.45" fill="#3a7a20"/>
<circle cx="291.62" cy="170.95" r="0.65" fill="#4a8a28"/>
<circle cx="297.74" cy="176.29" r="0.45" fill="#88c050"/>
<circle cx="292.01" cy="185.14" r="0.65" fill="#4a8a28"/>
<circle cx="289.32" cy="182.45" r="0.50" fill="#4a8a28"/>
<circle cx="331.24" cy="169.62" r="0.65" fill="#5a9a30"/>
<circle cx="343.21" cy="164.55" r="0.65" fill="#5a9a30"/>
<circle cx="330.76" cy="165.16" r="0.50" fill="#70b040"/>
<circle cx="345.65" cy="167.45" r="0.65" fill="#a8d870"/>
<circle cx="344.82" cy="169.72" r="0.50" fill="#4a8a28"/>
<circle cx="340.79" cy="169.75" r="0.50" fill="#3a7a20"/>
<circle cx="340.44" cy="166.03" r="0.50" fill="#88c050"/>
<circle cx="333.59" cy="172.64" r="0.65" fill="#5a9a30"/>
<circle cx="333.40" cy="171.66" r="0.65" fill="#a8d870"/>
<circle cx="345.46" cy="169.83" r="0.50" fill="#a8d870"/>
<circle cx="320.88" cy="189.50" r="0.65" fill="#3a7a20"/>
<circle cx="323.54" cy="193.34" r="0.50" fill="#88c050"/>
<circle cx="325.05" cy="195.26" r="0.50" fill="#3a7a20"/>
<circle cx="324.29" cy="198.13" r="0.50" fill="#70b040"/>
<circle cx="334.54" cy="197.74" r="0.45" fill="#a8d870"/>
<circle cx="324.08" cy="191.49" r="0.65" fill="#88c050"/>
<circle cx="319.17" cy="193.77" r="0.65" fill="#4a8a28"/>
<circle cx="325.14" cy="200.24" r="0.55" fill="#88c050"/>
<circle cx="320.50" cy="197.98" r="0.45" fill="#5a9a30"/>
<circle cx="321.66" cy="191.67" r="0.65" fill="#70b040"/>
<circle cx="303.99" cy="198.56" r="0.50" fill="#88c050"/>
<circle cx="305.03" cy="202.36" r="0.50" fill="#5a9a30"/>
<circle cx="301.02" cy="216.10" r="0.45" fill="#88c050"/>
<circle cx="305.77" cy="211.19" r="0.55" fill="#a8d870"/>
<circle cx="304.30" cy="200.84" r="0.65" fill="#5a9a30"/>
<circle cx="300.20" cy="200.57" r="0.45" fill="#5a9a30"/>
<circle cx="309.06" cy="209.73" r="0.50" fill="#5a9a30"/>
<circle cx="307.64" cy="219.00" r="0.50" fill="#4a8a28"/>
<circle cx="301.34" cy="199.84" r="0.45" fill="#70b040"/>
<circle cx="306.03" cy="201.19" r="0.50" fill="#4a8a28"/>
<circle cx="331.68" cy="218.73" r="0.50" fill="#88c050"/>
<circle cx="333.37" cy="219.83" r="0.50" fill="#88c050"/>
<circle cx="330.08" cy="214.33" r="0.55" fill="#70b040"/>
<circle cx="309.79" cy="175.25" r="0.50" fill="#88c050"/>
<circle cx="309.65" cy="172.44" r="0.65" fill="#4a8a28"/>
<circle cx="312.69" cy="177.01" r="0.45" fill="#5a9a30"/>
<circle cx="313.96" cy="157.64" r="0.45" fill="#88c050"/>
<circle cx="315.95" cy="163.81" r="0.55" fill="#88c050"/>
<circle cx="298.39" cy="227.77" r="0.45" fill="#3d5226"/>
<circle cx="305.74" cy="210.49" r="0.45" fill="#1a2412"/>
<circle cx="291.61" cy="208.88" r="0.60" fill="#1f2e14"/>
<circle cx="341.13" cy="171.40" r="0.60" fill="#3d5226"/>
<circle cx="334.44" cy="209.15" r="0.45" fill="#2a3a1c"/>
<circle cx="300.40" cy="199.86" r="0.60" fill="#1a2412"/>
<circle cx="346.96" cy="162.10" r="0.45" fill="#2a3a1c"/>
<circle cx="279.72" cy="152.20" r="0.60" fill="#334422"/>
<circle cx="286.19" cy="179.32" r="0.60" fill="#2a3a1c"/>
<circle cx="322.94" cy="197.07" r="0.60" fill="#2a3a1c"/>
<circle cx="326.04" cy="188.33" r="0.45" fill="#2a3a1c"/>
<circle cx="350.12" cy="170.63" r="0.60" fill="#2a3a1c"/>
<circle cx="285.38" cy="200.82" r="0.60" fill="#334422"/>
<circle cx="340.49" cy="225.99" r="0.60" fill="#1f2e14"/>
<circle cx="323.79" cy="196.25" r="0.60" fill="#3d5226"/>
<circle cx="297.13" cy="221.12" r="0.45" fill="#1f2e14"/>
<circle cx="318.93" cy="183.06" r="0.45" fill="#2a3a1c"/>
<circle cx="282.50" cy="211.58" r="0.45" fill="#1f2e14"/>
<circle cx="288.95" cy="167.26" r="0.60" fill="#3d5226"/>
<circle cx="340.63" cy="165.36" r="0.45" fill="#334422"/>
<circle cx="301.12" cy="155.71" r="0.45" fill="#1a2412"/>
<circle cx="306.89" cy="185.40" r="0.45" fill="#1a2412"/>
<circle cx="335.12" cy="186.62" r="0.45" fill="#2a3a1c"/>
<circle cx="298.13" cy="201.27" r="0.60" fill="#1f2e14"/>
<circle cx="346.63" cy="222.78" r="0.45" fill="#334422"/>
<circle cx="298.48" cy="194.36" r="0.60" fill="#1a2412"/>
<circle cx="300.76" cy="223.04" r="0.45" fill="#2a3a1c"/>
<circle cx="345.76" cy="153.16" r="0.45" fill="#334422"/>
<circle cx="342.81" cy="167.51" r="0.60" fill="#2a3a1c"/>
<circle cx="292.78" cy="181.74" r="0.45" fill="#3d5226"/>
<circle cx="307.22" cy="217.17" r="0.60" fill="#3d5226"/>
<circle cx="314.35" cy="192.59" r="0.45" fill="#1f2e14"/>
<circle cx="311.67" cy="207.43" r="0.60" fill="#3d5226"/>
<circle cx="338.77" cy="181.95" r="0.45" fill="#3d5226"/>
<circle cx="321.52" cy="165.12" r="0.45" fill="#1f2e14"/>
<circle cx="286.62" cy="199.58" r="0.60" fill="#2a3a1c"/>
<circle cx="353.26" cy="205.61" r="0.45" fill="#1f2e14"/>
<circle cx="288.66" cy="201.23" r="0.45" fill="#1f2e14"/>
<circle cx="334.73" cy="157.03" r="0.60" fill="#3d5226"/>
<circle cx="293.35" cy="225.02" r="0.45" fill="#3d5226"/>
<circle cx="345.74" cy="209.82" r="0.45" fill="#1a2412"/>
<circle cx="296.99" cy="167.54" r="0.45" fill="#1f2e14"/>
<circle cx="351.09" cy="221.70" r="0.60" fill="#1f2e14"/>
<circle cx="314.74" cy="162.15" r="0.60" fill="#2a3a1c"/>
<circle cx="302.57" cy="184.42" r="0.60" fill="#1f2e14"/>
<circle cx="297.77" cy="173.62" r="0.60" fill="#334422"/>
<circle cx="337.23" cy="198.05" r="0.60" fill="#1a2412"/>
<circle cx="325.61" cy="154.37" r="0.45" fill="#1a2412"/>
<circle cx="311.61" cy="211.14" r="0.60" fill="#334422"/>
<circle cx="332.26" cy="193.15" r="0.45" fill="#2a3a1c"/>
<circle cx="322.24" cy="173.96" r="0.45" fill="#1a2412"/>
<circle cx="318.31" cy="174.06" r="0.45" fill="#1f2e14"/>
<circle cx="304.78" cy="159.32" r="0.60" fill="#2a3a1c"/>
<circle cx="323.63" cy="225.23" r="0.60" fill="#3d5226"/>
<circle cx="322.51" cy="164.16" r="0.45" fill="#2a3a1c"/>
<circle cx="316.37" cy="160.41" r="0.60" fill="#1f2e14"/>
<circle cx="338.67" cy="205.33" r="0.60" fill="#1f2e14"/>
<circle cx="305.38" cy="182.70" r="0.45" fill="#1a2412"/>
<circle cx="310.50" cy="201.41" r="0.45" fill="#334422"/>
<circle cx="301.34" cy="184.75" r="0.45" fill="#3d5226"/>
<circle cx="307.21" cy="219.62" r="0.60" fill="#2a3a1c"/>
<circle cx="287.77" cy="197.45" r="0.45" fill="#3d5226"/>
<circle cx="304.83" cy="176.99" r="0.60" fill="#2a3a1c"/>
<circle cx="328.98" cy="208.76" r="0.60" fill="#2a3a1c"/>
<circle cx="311.79" cy="211.17" r="0.45" fill="#3d5226"/>
<circle cx="287.71" cy="187.34" r="0.45" fill="#2a3a1c"/>
<circle cx="298.60" cy="209.74" r="0.45" fill="#3d5226"/>
<circle cx="333.70" cy="226.57" r="0.60" fill="#334422"/>
<circle cx="290.39" cy="177.10" r="0.60" fill="#2a3a1c"/>
<circle cx="353.09" cy="207.75" r="0.45" fill="#1f2e14"/>
<circle cx="352.10" cy="159.78" r="0.45" fill="#1a2412"/>
<circle cx="353.76" cy="212.81" r="0.60" fill="#334422"/>
<circle cx="299.08" cy="160.36" r="0.60" fill="#1f2e14"/>
<circle cx="293.90" cy="181.71" r="0.45" fill="#1f2e14"/>
<circle cx="308.72" cy="212.51" r="0.60" fill="#2a3a1c"/>
<circle cx="313.67" cy="162.85" r="0.60" fill="#3d5226"/>
<circle cx="278.42" cy="170.53" r="0.60" fill="#1a2412"/>
<circle cx="343.14" cy="203.09" r="0.45" fill="#3d5226"/>
<circle cx="330.33" cy="201.08" r="0.60" fill="#1a2412"/>
<circle cx="302.10" cy="200.06" r="0.60" fill="#1f2e14"/>
<circle cx="296.66" cy="182.61" r="0.60" fill="#2a3a1c"/>
<circle cx="343.41" cy="188.93" r="0.60" fill="#1f2e14"/>
<circle cx="317.91" cy="202.57" r="0.60" fill="#2a3a1c"/>
<circle cx="337.92" cy="181.74" r="0.45" fill="#1a2412"/>
<circle cx="280.94" cy="193.57" r="0.45" fill="#2a3a1c"/>
<circle cx="317.98" cy="159.73" r="0.60" fill="#3d5226"/>
<circle cx="319.66" cy="206.87" r="0.45" fill="#3d5226"/>
<circle cx="327.22" cy="215.42" r="0.60" fill="#3d5226"/>
<circle cx="309.60" cy="224.52" r="0.45" fill="#2a3a1c"/>
<circle cx="308.22" cy="210.35" r="0.60" fill="#1f2e14"/>
<circle cx="327.09" cy="171.31" r="0.60" fill="#1a2412"/>
<circle cx="282.74" cy="157.75" r="0.60" fill="#1a2412"/>
<circle cx="322.67" cy="160.36" r="0.60" fill="#334422"/>
<circle cx="350.37" cy="192.32" r="0.60" fill="#2a3a1c"/>
<circle cx="313.58" cy="164.59" r="0.45" fill="#1f2e14"/>
<circle cx="314.13" cy="195.00" r="0.45" fill="#2a3a1c"/>
<circle cx="305.19" cy="200.87" r="0.60" fill="#1a2412"/>
<circle cx="354.70" cy="210.13" r="0.60" fill="#2a3a1c"/>
<circle cx="305.32" cy="217.08" r="0.60" fill="#334422"/>
<circle cx="330.93" cy="227.19" r="0.60" fill="#2a3a1c"/>
<circle cx="278.21" cy="207.22" r="0.60" fill="#334422"/>
<circle cx="296.86" cy="175.09" r="0.60" fill="#1a2412"/>
<circle cx="310.99" cy="200.75" r="0.45" fill="#334422"/>
<circle cx="349.51" cy="217.37" r="0.45" fill="#1f2e14"/>
<circle cx="341.75" cy="221.29" r="0.60" fill="#2a3a1c"/>
<circle cx="326.75" cy="153.15" r="0.45" fill="#1f2e14"/>
<circle cx="351.29" cy="202.18" r="0.45" fill="#334422"/>
<circle cx="322.54" cy="217.34" r="0.60" fill="#2a3a1c"/>
<circle cx="304.68" cy="163.68" r="0.45" fill="#1a2412"/>
<circle cx="324.93" cy="204.63" r="0.60" fill="#1f2e14"/>
</g>
<rect x="355.00" y="152.00" width="78.00" height="76.50" fill="#050000"/>
<g clip-path="url(#c12)">
<rect x="355.00" y="152" width="78" height="76.5" filter="url(#haze)" opacity="0.6"/>
<g filter="url(#tex)">
<polyline points="363.80,151.00 363.80,152.70 365.60,160.70 368.30,164.70 367.40,170.50 366.00,175.90" fill="none" stroke="#8a0c10" stroke-width="3.60" stroke-linejoin="round" stroke-linecap="round" opacity="0.8" filter="url(#bl2)"/>
<polyline points="363.80,151.00 363.80,152.70 365.60,160.70 368.30,164.70 367.40,170.50 366.00,175.90" fill="none" stroke="#d8282a" stroke-width="1.80" stroke-linejoin="round" stroke-linecap="round" filter="url(#bl3)"/>
<polyline points="368.30,164.70 374.50,162.50 379.90,158.00 382.60,153.60 383.00,151.00" fill="none" stroke="#8a0c10" stroke-width="3.50" stroke-linejoin="round" stroke-linecap="round" opacity="0.8" filter="url(#bl2)"/>
<polyline points="368.30,164.70 374.50,162.50 379.90,158.00 382.60,153.60 383.00,151.00" fill="none" stroke="#d8282a" stroke-width="1.70" stroke-linejoin="round" stroke-linecap="round" filter="url(#bl3)"/>
<polyline points="382.60,157.10 385.30,162.50 387.00,166.00 387.90,173.20 387.50,179.50 386.00,185.70 385.30,190.00 383.50,193.50" fill="none" stroke="#8a0c10" stroke-width="3.60" stroke-linejoin="round" stroke-linecap="round" opacity="0.8" filter="url(#bl2)"/>
<polyline points="382.60,157.10 385.30,162.50 387.00,166.00 387.90,173.20 387.50,179.50 386.00,185.70 385.30,190.00 383.50,193.50" fill="none" stroke="#d8282a" stroke-width="1.80" stroke-linejoin="round" stroke-linecap="round" filter="url(#bl3)"/>
<polyline points="354.00,196.00 360.30,197.00 363.80,199.70 368.30,196.10 373.60,194.40 380.80,194.40 385.30,193.50 391.50,191.70 394.00,190.80 396.60,189.00" fill="none" stroke="#8a0c10" stroke-width="3.60" stroke-linejoin="round" stroke-linecap="round" opacity="0.8" filter="url(#bl2)"/>
<polyline points="354.00,196.00 360.30,197.00 363.80,199.70 368.30,196.10 373.60,194.40 380.80,194.40 385.30,193.50 391.50,191.70 394.00,190.80 396.60,189.00" fill="none" stroke="#d8282a" stroke-width="1.80" stroke-linejoin="round" stroke-linecap="round" filter="url(#bl3)"/>
<polyline points="360.30,189.00 360.70,193.50 360.30,197.00" fill="none" stroke="#8a0c10" stroke-width="3.00" stroke-linejoin="round" stroke-linecap="round" opacity="0.8" filter="url(#bl2)"/>
<polyline points="360.30,189.00 360.70,193.50 360.30,197.00" fill="none" stroke="#d8282a" stroke-width="1.20" stroke-linejoin="round" stroke-linecap="round" filter="url(#bl3)"/>
<polyline points="363.80,199.70 364.30,206.90 363.80,214.00 362.00,218.50 357.60,222.00 354.00,222.90" fill="none" stroke="#8a0c10" stroke-width="3.70" stroke-linejoin="round" stroke-linecap="round" opacity="0.8" filter="url(#bl2)"/>
<polyline points="363.80,199.70 364.30,206.90 363.80,214.00 362.00,218.50 357.60,222.00 354.00,222.90" fill="none" stroke="#d8282a" stroke-width="1.90" stroke-linejoin="round" stroke-linecap="round" filter="url(#bl3)"/>
<polyline points="383.50,196.10 385.30,200.60 387.90,205.10 390.60,208.60 393.30,211.30 395.70,212.50 398.40,214.00 403.70,213.10 409.10,210.40 414.40,206.90 418.90,204.20 423.40,206.00 427.80,208.60 431.40,212.20 434.00,214.50" fill="none" stroke="#8a0c10" stroke-width="3.60" stroke-linejoin="round" stroke-linecap="round" opacity="0.8" filter="url(#bl2)"/>
<polyline points="383.50,196.10 385.30,200.60 387.90,205.10 390.60,208.60 393.30,211.30 395.70,212.50 398.40,214.00 403.70,213.10 409.10,210.40 414.40,206.90 418.90,204.20 423.40,206.00 427.80,208.60 431.40,212.20 434.00,214.50" fill="none" stroke="#d8282a" stroke-width="1.80" stroke-linejoin="round" stroke-linecap="round" filter="url(#bl3)"/>
<polyline points="363.80,215.80 367.40,221.10 371.90,223.80 378.10,224.70 383.50,222.90 387.90,221.10 391.50,219.40 394.00,218.50 396.60,217.60" fill="none" stroke="#8a0c10" stroke-width="3.60" stroke-linejoin="round" stroke-linecap="round" opacity="0.8" filter="url(#bl2)"/>
<polyline points="363.80,215.80 367.40,221.10 371.90,223.80 378.10,224.70 383.50,222.90 387.90,221.10 391.50,219.40 394.00,218.50 396.60,217.60" fill="none" stroke="#d8282a" stroke-width="1.80" stroke-linejoin="round" stroke-linecap="round" filter="url(#bl3)"/>
<polyline points="394.00,218.50 401.90,221.10 407.30,223.80 412.60,226.50 415.30,229.00" fill="none" stroke="#8a0c10" stroke-width="3.60" stroke-linejoin="round" stroke-linecap="round" opacity="0.8" filter="url(#bl2)"/>
<polyline points="394.00,218.50 401.90,221.10 407.30,223.80 412.60,226.50 415.30,229.00" fill="none" stroke="#d8282a" stroke-width="1.80" stroke-linejoin="round" stroke-linecap="round" filter="url(#bl3)"/>
<polyline points="402.80,167.00 406.40,171.40 409.10,175.90 413.50,179.50 416.20,182.10 415.30,187.50 415.60,190.00 417.10,194.40 418.90,197.90 419.80,202.40 418.90,204.20" fill="none" stroke="#8a0c10" stroke-width="3.60" stroke-linejoin="round" stroke-linecap="round" opacity="0.8" filter="url(#bl2)"/>
<polyline points="402.80,167.00 406.40,171.40 409.10,175.90 413.50,179.50 416.20,182.10 415.30,187.50 415.60,190.00 417.10,194.40 418.90,197.90 419.80,202.40 418.90,204.20" fill="none" stroke="#d8282a" stroke-width="1.80" stroke-linejoin="round" stroke-linecap="round" filter="url(#bl3)"/>
<polyline points="424.30,151.00 424.30,153.60 426.00,159.80 428.70,163.40 430.50,167.90 431.40,173.20 432.30,176.80 434.00,179.00" fill="none" stroke="#8a0c10" stroke-width="3.50" stroke-linejoin="round" stroke-linecap="round" opacity="0.8" filter="url(#bl2)"/>
<polyline points="424.30,151.00 424.30,153.60 426.00,159.80 428.70,163.40 430.50,167.90 431.40,173.20 432.30,176.80 434.00,179.00" fill="none" stroke="#d8282a" stroke-width="1.70" stroke-linejoin="round" stroke-linecap="round" filter="url(#bl3)"/>
<polyline points="426.00,163.40 428.70,160.70 431.40,158.00 434.00,156.00" fill="none" stroke="#8a0c10" stroke-width="3.30" stroke-linejoin="round" stroke-linecap="round" opacity="0.8" filter="url(#bl2)"/>
<polyline points="426.00,163.40 428.70,160.70 431.40,158.00 434.00,156.00" fill="none" stroke="#d8282a" stroke-width="1.50" stroke-linejoin="round" stroke-linecap="round" filter="url(#bl3)"/>
<polyline points="416.20,182.10 418.90,183.90 423.40,182.10 427.80,183.90 431.40,183.00 434.00,183.00" fill="none" stroke="#8a0c10" stroke-width="3.10" stroke-linejoin="round" stroke-linecap="round" opacity="0.8" filter="url(#bl2)"/>
<polyline points="416.20,182.10 418.90,183.90 423.40,182.10 427.80,183.90 431.40,183.00 434.00,183.00" fill="none" stroke="#d8282a" stroke-width="1.30" stroke-linejoin="round" stroke-linecap="round" filter="url(#bl3)"/>
<polyline points="393.00,187.50 398.40,185.70 403.70,183.90 407.30,182.10" fill="none" stroke="#8a0c10" stroke-width="3.00" stroke-linejoin="round" stroke-linecap="round" opacity="0.8" filter="url(#bl2)"/>
<polyline points="393.00,187.50 398.40,185.70 403.70,183.90 407.30,182.10" fill="none" stroke="#d8282a" stroke-width="1.20" stroke-linejoin="round" stroke-linecap="round" filter="url(#bl3)"/>
<polyline points="401.90,152.70 401.50,158.00 400.10,161.60" fill="none" stroke="#8a0c10" stroke-width="3.00" stroke-linejoin="round" stroke-linecap="round" opacity="0.8" filter="url(#bl2)"/>
<polyline points="401.90,152.70 401.50,158.00 400.10,161.60" fill="none" stroke="#d8282a" stroke-width="1.20" stroke-linejoin="round" stroke-linecap="round" filter="url(#bl3)"/>
<polyline points="356.70,155.40 357.60,159.00" fill="none" stroke="#8a0c10" stroke-width="3.30" stroke-linejoin="round" stroke-linecap="round" opacity="0.8" filter="url(#bl2)"/>
<polyline points="356.70,155.40 357.60,159.00" fill="none" stroke="#d8282a" stroke-width="1.50" stroke-linejoin="round" stroke-linecap="round" filter="url(#bl3)"/>
<polyline points="389.60,162.80 392.50,161.40" fill="none" stroke="#8a0c10" stroke-width="4.90" stroke-linejoin="round" stroke-linecap="round" opacity="0.8" filter="url(#bl2)"/>
<polyline points="389.60,162.80 392.50,161.40" fill="none" stroke="#d8282a" stroke-width="3.10" stroke-linejoin="round" stroke-linecap="round" filter="url(#bl3)"/>
</g>
</g>
<rect x="435.00" y="152.00" width="77.30" height="76.50" fill="#000000"/>
<g clip-path="url(#c13)">
<ellipse cx="451.86" cy="155.36" rx="8.57" ry="5.36" fill="#3d2a9e" filter="url(#bl1)"/>
<ellipse cx="459.00" cy="180.36" rx="9.64" ry="11.79" fill="#3d2a9e" filter="url(#bl1)"/>
<ellipse cx="476.86" cy="178.57" rx="9.64" ry="8.57" fill="#3d2a9e" filter="url(#bl1)"/>
<ellipse cx="492.93" cy="162.50" rx="10.71" ry="10.71" fill="#3d2a9e" filter="url(#bl1)"/>
<ellipse cx="436.68" cy="171.43" rx="4.29" ry="10.71" fill="#3d2a9e" filter="url(#bl1)"/>
<ellipse cx="478.64" cy="200.89" rx="11.79" ry="10.71" fill="#3d2a9e" filter="url(#bl1)"/>
<ellipse cx="453.64" cy="209.82" rx="11.79" ry="10.71" fill="#3d2a9e" filter="url(#bl1)"/>
<ellipse cx="507.21" cy="196.43" rx="8.57" ry="12.86" fill="#3d2a9e" filter="url(#bl1)"/>
<ellipse cx="437.57" cy="212.50" rx="5.36" ry="8.57" fill="#3d2a9e" filter="url(#bl1)"/>
<ellipse cx="500.07" cy="220.54" rx="10.71" ry="7.50" fill="#3d2a9e" filter="url(#bl1)"/>
<ellipse cx="478.64" cy="228.57" rx="8.57" ry="4.29" fill="#3d2a9e" filter="url(#bl1)"/>
<rect x="435.00" y="152" width="78" height="76.5" filter="url(#haze)" opacity="0.6"/>
<g filter="url(#tex)">
<polyline points="443.80,151.00 443.80,152.70 445.60,160.70 448.30,164.70 447.40,170.50 446.00,175.90" fill="none" stroke="#8a0c10" stroke-width="3.60" stroke-linejoin="round" stroke-linecap="round" opacity="0.8" filter="url(#bl2)"/>
<polyline points="443.80,151.00 443.80,152.70 445.60,160.70 448.30,164.70 447.40,170.50 446.00,175.90" fill="none" stroke="#d8282a" stroke-width="1.80" stroke-linejoin="round" stroke-linecap="round" filter="url(#bl3)"/>
<polyline points="448.30,164.70 454.50,162.50 459.90,158.00 462.60,153.60 463.00,151.00" fill="none" stroke="#8a0c10" stroke-width="3.50" stroke-linejoin="round" stroke-linecap="round" opacity="0.8" filter="url(#bl2)"/>
<polyline points="448.30,164.70 454.50,162.50 459.90,158.00 462.60,153.60 463.00,151.00" fill="none" stroke="#d8282a" stroke-width="1.70" stroke-linejoin="round" stroke-linecap="round" filter="url(#bl3)"/>
<polyline points="462.60,157.10 465.30,162.50 467.00,166.00 467.90,173.20 467.50,179.50 466.00,185.70 465.30,190.00 463.50,193.50" fill="none" stroke="#8a0c10" stroke-width="3.60" stroke-linejoin="round" stroke-linecap="round" opacity="0.8" filter="url(#bl2)"/>
<polyline points="462.60,157.10 465.30,162.50 467.00,166.00 467.90,173.20 467.50,179.50 466.00,185.70 465.30,190.00 463.50,193.50" fill="none" stroke="#d8282a" stroke-width="1.80" stroke-linejoin="round" stroke-linecap="round" filter="url(#bl3)"/>
<polyline points="434.00,196.00 440.30,197.00 443.80,199.70 448.30,196.10 453.60,194.40 460.80,194.40 465.30,193.50 471.50,191.70 474.00,190.80 476.60,189.00" fill="none" stroke="#8a0c10" stroke-width="3.60" stroke-linejoin="round" stroke-linecap="round" opacity="0.8" filter="url(#bl2)"/>
<polyline points="434.00,196.00 440.30,197.00 443.80,199.70 448.30,196.10 453.60,194.40 460.80,194.40 465.30,193.50 471.50,191.70 474.00,190.80 476.60,189.00" fill="none" stroke="#d8282a" stroke-width="1.80" stroke-linejoin="round" stroke-linecap="round" filter="url(#bl3)"/>
<polyline points="440.30,189.00 440.70,193.50 440.30,197.00" fill="none" stroke="#8a0c10" stroke-width="3.00" stroke-linejoin="round" stroke-linecap="round" opacity="0.8" filter="url(#bl2)"/>
<polyline points="440.30,189.00 440.70,193.50 440.30,197.00" fill="none" stroke="#d8282a" stroke-width="1.20" stroke-linejoin="round" stroke-linecap="round" filter="url(#bl3)"/>
<polyline points="443.80,199.70 444.30,206.90 443.80,214.00 442.00,218.50 437.60,222.00 434.00,222.90" fill="none" stroke="#8a0c10" stroke-width="3.70" stroke-linejoin="round" stroke-linecap="round" opacity="0.8" filter="url(#bl2)"/>
<polyline points="443.80,199.70 444.30,206.90 443.80,214.00 442.00,218.50 437.60,222.00 434.00,222.90" fill="none" stroke="#d8282a" stroke-width="1.90" stroke-linejoin="round" stroke-linecap="round" filter="url(#bl3)"/>
<polyline points="463.50,196.10 465.30,200.60 467.90,205.10 470.60,208.60 473.30,211.30 475.70,212.50 478.40,214.00 483.70,213.10 489.10,210.40 494.40,206.90 498.90,204.20 503.40,206.00 507.80,208.60 511.40,212.20 514.00,214.50" fill="none" stroke="#8a0c10" stroke-width="3.60" stroke-linejoin="round" stroke-linecap="round" opacity="0.8" filter="url(#bl2)"/>
<polyline points="463.50,196.10 465.30,200.60 467.90,205.10 470.60,208.60 473.30,211.30 475.70,212.50 478.40,214.00 483.70,213.10 489.10,210.40 494.40,206.90 498.90,204.20 503.40,206.00 507.80,208.60 511.40,212.20 514.00,214.50" fill="none" stroke="#d8282a" stroke-width="1.80" stroke-linejoin="round" stroke-linecap="round" filter="url(#bl3)"/>
<polyline points="443.80,215.80 447.40,221.10 451.90,223.80 458.10,224.70 463.50,222.90 467.90,221.10 471.50,219.40 474.00,218.50 476.60,217.60" fill="none" stroke="#8a0c10" stroke-width="3.60" stroke-linejoin="round" stroke-linecap="round" opacity="0.8" filter="url(#bl2)"/>
<polyline points="443.80,215.80 447.40,221.10 451.90,223.80 458.10,224.70 463.50,222.90 467.90,221.10 471.50,219.40 474.00,218.50 476.60,217.60" fill="none" stroke="#d8282a" stroke-width="1.80" stroke-linejoin="round" stroke-linecap="round" filter="url(#bl3)"/>
<polyline points="474.00,218.50 481.90,221.10 487.30,223.80 492.60,226.50 495.30,229.00" fill="none" stroke="#8a0c10" stroke-width="3.60" stroke-linejoin="round" stroke-linecap="round" opacity="0.8" filter="url(#bl2)"/>
<polyline points="474.00,218.50 481.90,221.10 487.30,223.80 492.60,226.50 495.30,229.00" fill="none" stroke="#d8282a" stroke-width="1.80" stroke-linejoin="round" stroke-linecap="round" filter="url(#bl3)"/>
<polyline points="482.80,167.00 486.40,171.40 489.10,175.90 493.50,179.50 496.20,182.10 495.30,187.50 495.60,190.00 497.10,194.40 498.90,197.90 499.80,202.40 498.90,204.20" fill="none" stroke="#8a0c10" stroke-width="3.60" stroke-linejoin="round" stroke-linecap="round" opacity="0.8" filter="url(#bl2)"/>
<polyline points="482.80,167.00 486.40,171.40 489.10,175.90 493.50,179.50 496.20,182.10 495.30,187.50 495.60,190.00 497.10,194.40 498.90,197.90 499.80,202.40 498.90,204.20" fill="none" stroke="#d8282a" stroke-width="1.80" stroke-linejoin="round" stroke-linecap="round" filter="url(#bl3)"/>
<polyline points="504.30,151.00 504.30,153.60 506.00,159.80 508.70,163.40 510.50,167.90 511.40,173.20 512.30,176.80 514.00,179.00" fill="none" stroke="#8a0c10" stroke-width="3.50" stroke-linejoin="round" stroke-linecap="round" opacity="0.8" filter="url(#bl2)"/>
<polyline points="504.30,151.00 504.30,153.60 506.00,159.80 508.70,163.40 510.50,167.90 511.40,173.20 512.30,176.80 514.00,179.00" fill="none" stroke="#d8282a" stroke-width="1.70" stroke-linejoin="round" stroke-linecap="round" filter="url(#bl3)"/>
<polyline points="506.00,163.40 508.70,160.70 511.40,158.00 514.00,156.00" fill="none" stroke="#8a0c10" stroke-width="3.30" stroke-linejoin="round" stroke-linecap="round" opacity="0.8" filter="url(#bl2)"/>
<polyline points="506.00,163.40 508.70,160.70 511.40,158.00 514.00,156.00" fill="none" stroke="#d8282a" stroke-width="1.50" stroke-linejoin="round" stroke-linecap="round" filter="url(#bl3)"/>
<polyline points="496.20,182.10 498.90,183.90 503.40,182.10 507.80,183.90 511.40,183.00 514.00,183.00" fill="none" stroke="#8a0c10" stroke-width="3.10" stroke-linejoin="round" stroke-linecap="round" opacity="0.8" filter="url(#bl2)"/>
<polyline points="496.20,182.10 498.90,183.90 503.40,182.10 507.80,183.90 511.40,183.00 514.00,183.00" fill="none" stroke="#d8282a" stroke-width="1.30" stroke-linejoin="round" stroke-linecap="round" filter="url(#bl3)"/>
<polyline points="473.00,187.50 478.40,185.70 483.70,183.90 487.30,182.10" fill="none" stroke="#8a0c10" stroke-width="3.00" stroke-linejoin="round" stroke-linecap="round" opacity="0.8" filter="url(#bl2)"/>
<polyline points="473.00,187.50 478.40,185.70 483.70,183.90 487.30,182.10" fill="none" stroke="#d8282a" stroke-width="1.20" stroke-linejoin="round" stroke-linecap="round" filter="url(#bl3)"/>
<polyline points="481.90,152.70 481.50,158.00 480.10,161.60" fill="none" stroke="#8a0c10" stroke-width="3.00" stroke-linejoin="round" stroke-linecap="round" opacity="0.8" filter="url(#bl2)"/>
<polyline points="481.90,152.70 481.50,158.00 480.10,161.60" fill="none" stroke="#d8282a" stroke-width="1.20" stroke-linejoin="round" stroke-linecap="round" filter="url(#bl3)"/>
<polyline points="436.70,155.40 437.60,159.00" fill="none" stroke="#8a0c10" stroke-width="3.30" stroke-linejoin="round" stroke-linecap="round" opacity="0.8" filter="url(#bl2)"/>
<polyline points="436.70,155.40 437.60,159.00" fill="none" stroke="#d8282a" stroke-width="1.50" stroke-linejoin="round" stroke-linecap="round" filter="url(#bl3)"/>
<polyline points="469.60,162.80 472.50,161.40" fill="none" stroke="#8a0c10" stroke-width="4.90" stroke-linejoin="round" stroke-linecap="round" opacity="0.8" filter="url(#bl2)"/>
<polyline points="469.60,162.80 472.50,161.40" fill="none" stroke="#d8282a" stroke-width="3.10" stroke-linejoin="round" stroke-linecap="round" filter="url(#bl3)"/>
</g>
<circle cx="451.82" cy="174.47" r="0.55" fill="#5a9a30"/>
<circle cx="449.73" cy="167.29" r="0.45" fill="#70b040"/>
<circle cx="451.43" cy="169.03" r="0.50" fill="#3a7a20"/>
<circle cx="449.60" cy="166.81" r="0.55" fill="#a8d870"/>
<circle cx="451.39" cy="178.49" r="0.45" fill="#5a9a30"/>
<circle cx="453.27" cy="167.01" r="0.55" fill="#70b040"/>
<circle cx="451.16" cy="171.37" r="0.45" fill="#70b040"/>
<circle cx="448.99" cy="176.85" r="0.55" fill="#3a7a20"/>
<circle cx="453.28" cy="168.46" r="0.55" fill="#a8d870"/>
<circle cx="449.57" cy="176.47" r="0.50" fill="#88c050"/>
<circle cx="451.40" cy="170.55" r="0.45" fill="#70b040"/>
<circle cx="447.19" cy="177.25" r="0.50" fill="#a8d870"/>
<circle cx="451.55" cy="172.18" r="0.45" fill="#88c050"/>
<circle cx="450.50" cy="182.43" r="0.55" fill="#5a9a30"/>
<circle cx="450.20" cy="167.58" r="0.50" fill="#4a8a28"/>
<circle cx="448.22" cy="179.04" r="0.45" fill="#88c050"/>
<circle cx="451.06" cy="182.32" r="0.45" fill="#a8d870"/>
<circle cx="451.91" cy="166.31" r="0.50" fill="#a8d870"/>
<circle cx="449.47" cy="173.47" r="0.50" fill="#5a9a30"/>
<circle cx="449.40" cy="172.55" r="0.50" fill="#70b040"/>
<circle cx="451.96" cy="170.64" r="0.45" fill="#88c050"/>
<circle cx="450.81" cy="170.63" r="0.50" fill="#70b040"/>
<circle cx="449.46" cy="184.62" r="0.55" fill="#4a8a28"/>
<circle cx="450.45" cy="183.50" r="0.45" fill="#70b040"/>
<circle cx="451.39" cy="172.72" r="0.45" fill="#3a7a20"/>
<circle cx="452.40" cy="171.83" r="0.55" fill="#4a8a28"/>
<circle cx="451.73" cy="176.94" r="0.55" fill="#3a7a20"/>
<circle cx="449.59" cy="177.79" r="0.55" fill="#a8d870"/>
<circle cx="449.90" cy="174.58" r="0.50" fill="#a8d870"/>
<circle cx="453.27" cy="168.49" r="0.45" fill="#70b040"/>
<circle cx="450.66" cy="173.25" r="0.55" fill="#70b040"/>
<circle cx="451.96" cy="169.06" r="0.55" fill="#70b040"/>
<circle cx="448.31" cy="171.49" r="0.50" fill="#3a7a20"/>
<circle cx="451.21" cy="176.76" r="0.50" fill="#88c050"/>
<circle cx="494.49" cy="168.77" r="0.55" fill="#4a8a28"/>
<circle cx="490.67" cy="170.24" r="0.45" fill="#5a9a30"/>
<circle cx="501.40" cy="160.83" r="0.45" fill="#3a7a20"/>
<circle cx="498.15" cy="166.21" r="0.55" fill="#5a9a30"/>
<circle cx="497.42" cy="162.60" r="0.45" fill="#4a8a28"/>
<circle cx="495.02" cy="166.68" r="0.55" fill="#70b040"/>
<circle cx="502.18" cy="163.28" r="0.50" fill="#70b040"/>
<circle cx="498.61" cy="166.28" r="0.55" fill="#4a8a28"/>
<circle cx="487.50" cy="173.00" r="0.45" fill="#4a8a28"/>
<circle cx="498.92" cy="165.11" r="0.50" fill="#a8d870"/>
<circle cx="501.59" cy="161.58" r="0.50" fill="#70b040"/>
<circle cx="489.70" cy="173.29" r="0.45" fill="#3a7a20"/>
<circle cx="492.57" cy="166.60" r="0.55" fill="#5a9a30"/>
<circle cx="486.37" cy="173.50" r="0.50" fill="#70b040"/>
<circle cx="499.32" cy="162.88" r="0.55" fill="#5a9a30"/>
<circle cx="489.93" cy="171.36" r="0.45" fill="#a8d870"/>
<circle cx="489.27" cy="172.31" r="0.55" fill="#88c050"/>
<circle cx="490.04" cy="168.74" r="0.50" fill="#a8d870"/>
<circle cx="488.26" cy="171.81" r="0.55" fill="#a8d870"/>
<circle cx="487.65" cy="171.60" r="0.45" fill="#70b040"/>
<circle cx="486.80" cy="174.32" r="0.50" fill="#3a7a20"/>
<circle cx="489.62" cy="171.31" r="0.50" fill="#a8d870"/>
<circle cx="499.92" cy="159.94" r="0.50" fill="#3a7a20"/>
<circle cx="500.41" cy="162.77" r="0.55" fill="#70b040"/>
<circle cx="496.00" cy="166.50" r="0.45" fill="#3a7a20"/>
<circle cx="499.44" cy="164.71" r="0.55" fill="#3a7a20"/>
<circle cx="489.76" cy="172.92" r="0.55" fill="#3a7a20"/>
<circle cx="494.40" cy="165.82" r="0.45" fill="#5a9a30"/>
<circle cx="489.67" cy="171.75" r="0.55" fill="#88c050"/>
<circle cx="486.82" cy="172.54" r="0.55" fill="#4a8a28"/>
<circle cx="501.84" cy="159.99" r="0.50" fill="#4a8a28"/>
<circle cx="494.93" cy="166.70" r="0.55" fill="#70b040"/>
<circle cx="496.77" cy="165.85" r="0.45" fill="#3a7a20"/>
<circle cx="500.58" cy="163.52" r="0.50" fill="#88c050"/>
<circle cx="476.33" cy="189.67" r="0.50" fill="#a8d870"/>
<circle cx="489.10" cy="200.70" r="0.55" fill="#a8d870"/>
<circle cx="488.13" cy="201.11" r="0.45" fill="#88c050"/>
<circle cx="490.13" cy="202.01" r="0.55" fill="#70b040"/>
<circle cx="490.02" cy="203.19" r="0.50" fill="#3a7a20"/>
<circle cx="481.37" cy="194.61" r="0.50" fill="#a8d870"/>
<circle cx="474.03" cy="187.85" r="0.50" fill="#5a9a30"/>
<circle cx="479.75" cy="192.32" r="0.45" fill="#5a9a30"/>
<circle cx="492.59" cy="201.36" r="0.45" fill="#5a9a30"/>
<circle cx="481.90" cy="192.88" r="0.45" fill="#4a8a28"/>
<circle cx="490.23" cy="200.21" r="0.50" fill="#4a8a28"/>
<circle cx="479.14" cy="189.59" r="0.50" fill="#a8d870"/>
<circle cx="478.46" cy="190.14" r="0.45" fill="#88c050"/>
<circle cx="480.33" cy="192.43" r="0.45" fill="#4a8a28"/>
<circle cx="485.75" cy="199.10" r="0.50" fill="#5a9a30"/>
<circle cx="476.56" cy="188.14" r="0.55" fill="#4a8a28"/>
<circle cx="476.36" cy="189.92" r="0.45" fill="#5a9a30"/>
<circle cx="480.91" cy="195.00" r="0.50" fill="#a8d870"/>
<circle cx="484.66" cy="198.14" r="0.45" fill="#a8d870"/>
<circle cx="481.18" cy="188.44" r="0.45" fill="#5a9a30"/>
<circle cx="471.74" cy="188.17" r="0.50" fill="#3a7a20"/>
<circle cx="477.56" cy="192.61" r="0.50" fill="#a8d870"/>
<circle cx="483.77" cy="198.16" r="0.50" fill="#3a7a20"/>
<circle cx="488.09" cy="199.35" r="0.55" fill="#a8d870"/>
<circle cx="485.05" cy="199.26" r="0.45" fill="#5a9a30"/>
<circle cx="473.37" cy="186.33" r="0.45" fill="#88c050"/>
<circle cx="475.35" cy="187.79" r="0.55" fill="#3a7a20"/>
<circle cx="489.91" cy="203.32" r="0.50" fill="#5a9a30"/>
<circle cx="478.29" cy="191.11" r="0.50" fill="#4a8a28"/>
<circle cx="490.63" cy="204.22" r="0.45" fill="#4a8a28"/>
<circle cx="482.57" cy="193.84" r="0.50" fill="#88c050"/>
<circle cx="484.26" cy="197.77" r="0.45" fill="#5a9a30"/>
<circle cx="480.79" cy="193.00" r="0.50" fill="#5a9a30"/>
<circle cx="475.09" cy="189.25" r="0.55" fill="#3a7a20"/>
<circle cx="462.31" cy="218.09" r="0.50" fill="#3a7a20"/>
<circle cx="459.98" cy="212.43" r="0.55" fill="#4a8a28"/>
<circle cx="461.28" cy="212.82" r="0.55" fill="#a8d870"/>
<circle cx="459.56" cy="208.71" r="0.55" fill="#70b040"/>
<circle cx="458.04" cy="212.69" r="0.55" fill="#5a9a30"/>
<circle cx="461.28" cy="208.97" r="0.55" fill="#a8d870"/>
<circle cx="461.50" cy="203.38" r="0.45" fill="#4a8a28"/>
<circle cx="459.64" cy="206.19" r="0.55" fill="#5a9a30"/>
<circle cx="459.76" cy="210.15" r="0.45" fill="#88c050"/>
<circle cx="458.57" cy="213.56" r="0.55" fill="#a8d870"/>
<circle cx="462.17" cy="199.21" r="0.50" fill="#5a9a30"/>
<circle cx="460.83" cy="202.40" r="0.50" fill="#a8d870"/>
<circle cx="458.66" cy="209.38" r="0.50" fill="#a8d870"/>
<circle cx="458.88" cy="212.73" r="0.55" fill="#5a9a30"/>
<circle cx="461.42" cy="203.84" r="0.55" fill="#4a8a28"/>
<circle cx="460.19" cy="209.90" r="0.55" fill="#4a8a28"/>
<circle cx="462.22" cy="202.29" r="0.55" fill="#a8d870"/>
<circle cx="458.30" cy="204.77" r="0.45" fill="#3a7a20"/>
<circle cx="461.59" cy="205.56" r="0.50" fill="#4a8a28"/>
<circle cx="457.95" cy="200.21" r="0.50" fill="#4a8a28"/>
<circle cx="461.81" cy="202.57" r="0.45" fill="#3a7a20"/>
<circle cx="458.34" cy="201.11" r="0.55" fill="#70b040"/>
<circle cx="457.85" cy="214.96" r="0.50" fill="#a8d870"/>
<circle cx="462.01" cy="202.37" r="0.45" fill="#5a9a30"/>
<circle cx="461.54" cy="199.14" r="0.55" fill="#4a8a28"/>
<circle cx="460.90" cy="202.51" r="0.45" fill="#4a8a28"/>
<circle cx="459.57" cy="206.17" r="0.55" fill="#70b040"/>
<circle cx="462.80" cy="198.22" r="0.50" fill="#5a9a30"/>
<circle cx="460.35" cy="205.95" r="0.50" fill="#88c050"/>
<circle cx="460.70" cy="216.25" r="0.50" fill="#a8d870"/>
<circle cx="461.87" cy="214.02" r="0.55" fill="#88c050"/>
<circle cx="460.64" cy="202.62" r="0.45" fill="#88c050"/>
<circle cx="458.55" cy="212.83" r="0.55" fill="#3a7a20"/>
<circle cx="463.66" cy="204.21" r="0.50" fill="#88c050"/>
<circle cx="492.99" cy="218.47" r="0.45" fill="#88c050"/>
<circle cx="493.37" cy="217.40" r="0.50" fill="#88c050"/>
<circle cx="488.26" cy="217.26" r="0.50" fill="#a8d870"/>
<circle cx="489.52" cy="217.11" r="0.50" fill="#a8d870"/>
<circle cx="486.65" cy="214.08" r="0.50" fill="#3a7a20"/>
<circle cx="489.59" cy="216.54" r="0.50" fill="#88c050"/>
<circle cx="487.34" cy="215.09" r="0.55" fill="#4a8a28"/>
<circle cx="486.81" cy="215.37" r="0.45" fill="#3a7a20"/>
<circle cx="493.88" cy="216.21" r="0.55" fill="#88c050"/>
<circle cx="489.62" cy="216.92" r="0.50" fill="#5a9a30"/>
<circle cx="488.96" cy="214.97" r="0.55" fill="#3a7a20"/>
<circle cx="492.02" cy="215.83" r="0.45" fill="#4a8a28"/>
<circle cx="488.38" cy="214.44" r="0.45" fill="#4a8a28"/>
<circle cx="485.07" cy="215.51" r="0.55" fill="#88c050"/>
<circle cx="492.85" cy="217.29" r="0.50" fill="#3a7a20"/>
<circle cx="494.73" cy="218.51" r="0.45" fill="#70b040"/>
<circle cx="489.17" cy="213.27" r="0.55" fill="#a8d870"/>
<circle cx="491.73" cy="215.16" r="0.45" fill="#3a7a20"/>
<circle cx="487.20" cy="215.20" r="0.55" fill="#5a9a30"/>
<circle cx="494.01" cy="216.43" r="0.55" fill="#3a7a20"/>
<circle cx="489.74" cy="215.16" r="0.55" fill="#4a8a28"/>
<circle cx="494.80" cy="218.72" r="0.45" fill="#3a7a20"/>
<circle cx="485.62" cy="215.41" r="0.55" fill="#4a8a28"/>
<circle cx="493.50" cy="218.94" r="0.45" fill="#3a7a20"/>
<circle cx="484.63" cy="215.11" r="0.45" fill="#5a9a30"/>
<circle cx="489.00" cy="213.53" r="0.50" fill="#5a9a30"/>
<circle cx="486.76" cy="215.48" r="0.45" fill="#88c050"/>
<circle cx="491.81" cy="215.57" r="0.45" fill="#88c050"/>
<circle cx="485.40" cy="216.45" r="0.45" fill="#5a9a30"/>
<circle cx="490.89" cy="218.09" r="0.45" fill="#70b040"/>
<circle cx="489.68" cy="218.58" r="0.55" fill="#5a9a30"/>
<circle cx="490.57" cy="216.84" r="0.55" fill="#88c050"/>
<circle cx="484.02" cy="212.58" r="0.45" fill="#5a9a30"/>
<circle cx="485.08" cy="213.33" r="0.45" fill="#a8d870"/>
<circle cx="465.16" cy="172.78" r="0.55" fill="#4a8a28"/>
<circle cx="467.37" cy="172.07" r="0.45" fill="#70b040"/>
<circle cx="468.47" cy="175.11" r="0.55" fill="#4a8a28"/>
<circle cx="472.35" cy="172.69" r="0.45" fill="#88c050"/>
<circle cx="467.12" cy="171.92" r="0.45" fill="#88c050"/>
<circle cx="469.44" cy="173.41" r="0.50" fill="#4a8a28"/>
<circle cx="466.29" cy="170.71" r="0.50" fill="#3a7a20"/>
<circle cx="465.33" cy="174.28" r="0.55" fill="#5a9a30"/>
<circle cx="469.30" cy="171.58" r="0.50" fill="#5a9a30"/>
<circle cx="468.91" cy="172.33" r="0.45" fill="#4a8a28"/>
<circle cx="471.43" cy="175.34" r="0.50" fill="#4a8a28"/>
<circle cx="470.99" cy="176.98" r="0.55" fill="#a8d870"/>
<circle cx="467.88" cy="173.11" r="0.55" fill="#3a7a20"/>
<circle cx="473.91" cy="178.54" r="0.50" fill="#5a9a30"/>
<circle cx="468.10" cy="176.29" r="0.50" fill="#4a8a28"/>
<circle cx="471.91" cy="177.68" r="0.55" fill="#5a9a30"/>
<circle cx="467.55" cy="172.22" r="0.50" fill="#70b040"/>
<circle cx="468.96" cy="177.46" r="0.45" fill="#3a7a20"/>
<circle cx="468.47" cy="174.82" r="0.45" fill="#88c050"/>
<circle cx="468.28" cy="175.51" r="0.50" fill="#70b040"/>
<circle cx="472.32" cy="177.00" r="0.45" fill="#5a9a30"/>
<circle cx="464.53" cy="171.61" r="0.45" fill="#88c050"/>
<circle cx="465.84" cy="173.36" r="0.45" fill="#a8d870"/>
<circle cx="471.59" cy="174.47" r="0.50" fill="#5a9a30"/>
<circle cx="466.62" cy="172.34" r="0.50" fill="#a8d870"/>
<circle cx="467.21" cy="173.21" r="0.50" fill="#70b040"/>
<circle cx="470.29" cy="176.54" r="0.50" fill="#88c050"/>
<circle cx="471.01" cy="177.90" r="0.55" fill="#5a9a30"/>
<circle cx="468.90" cy="174.03" r="0.50" fill="#70b040"/>
<circle cx="472.54" cy="177.59" r="0.45" fill="#5a9a30"/>
<circle cx="468.83" cy="171.88" r="0.50" fill="#5a9a30"/>
<circle cx="469.85" cy="175.93" r="0.45" fill="#a8d870"/>
<circle cx="465.15" cy="170.62" r="0.45" fill="#70b040"/>
<circle cx="468.77" cy="174.03" r="0.45" fill="#4a8a28"/>
<circle cx="447.10" cy="171.48" r="0.45" fill="#70b040"/>
<circle cx="451.89" cy="170.21" r="0.50" fill="#4a8a28"/>
<circle cx="449.45" cy="174.75" r="0.65" fill="#5a9a30"/>
<circle cx="449.25" cy="176.13" r="0.65" fill="#5a9a30"/>
<circle cx="449.45" cy="173.06" r="0.45" fill="#3a7a20"/>
<circle cx="448.62" cy="170.95" r="0.65" fill="#4a8a28"/>
<circle cx="454.74" cy="176.29" r="0.45" fill="#88c050"/>
<circle cx="449.01" cy="185.14" r="0.65" fill="#4a8a28"/>
<circle cx="446.32" cy="182.45" r="0.50" fill="#4a8a28"/>
<circle cx="488.24" cy="169.62" r="0.65" fill="#5a9a30"/>
<circle cx="500.21" cy="164.55" r="0.65" fill="#5a9a30"/>
<circle cx="487.76" cy="165.16" r="0.50" fill="#70b040"/>
<circle cx="502.65" cy="167.45" r="0.65" fill="#a8d870"/>
<circle cx="501.82" cy="169.72" r="0.50" fill="#4a8a28"/>
<circle cx="497.79" cy="169.75" r="0.50" fill="#3a7a20"/>
<circle cx="497.44" cy="166.03" r="0.50" fill="#88c050"/>
<circle cx="490.59" cy="172.64" r="0.65" fill="#5a9a30"/>
<circle cx="490.40" cy="171.66" r="0.65" fill="#a8d870"/>
<circle cx="502.46" cy="169.83" r="0.50" fill="#a8d870"/>
<circle cx="477.88" cy="189.50" r="0.65" fill="#3a7a20"/>
<circle cx="480.54" cy="193.34" r="0.50" fill="#88c050"/>
<circle cx="482.05" cy="195.26" r="0.50" fill="#3a7a20"/>
<circle cx="481.29" cy="198.13" r="0.50" fill="#70b040"/>
<circle cx="491.54" cy="197.74" r="0.45" fill="#a8d870"/>
<circle cx="481.08" cy="191.49" r="0.65" fill="#88c050"/>
<circle cx="476.17" cy="193.77" r="0.65" fill="#4a8a28"/>
<circle cx="482.14" cy="200.24" r="0.55" fill="#88c050"/>
<circle cx="477.50" cy="197.98" r="0.45" fill="#5a9a30"/>
<circle cx="478.66" cy="191.67" r="0.65" fill="#70b040"/>
<circle cx="460.99" cy="198.56" r="0.50" fill="#88c050"/>
<circle cx="462.03" cy="202.36" r="0.50" fill="#5a9a30"/>
<circle cx="458.02" cy="216.10" r="0.45" fill="#88c050"/>
<circle cx="462.77" cy="211.19" r="0.55" fill="#a8d870"/>
<circle cx="461.30" cy="200.84" r="0.65" fill="#5a9a30"/>
<circle cx="457.20" cy="200.57" r="0.45" fill="#5a9a30"/>
<circle cx="466.06" cy="209.73" r="0.50" fill="#5a9a30"/>
<circle cx="464.64" cy="219.00" r="0.50" fill="#4a8a28"/>
<circle cx="458.34" cy="199.84" r="0.45" fill="#70b040"/>
<circle cx="463.03" cy="201.19" r="0.50" fill="#4a8a28"/>
<circle cx="488.68" cy="218.73" r="0.50" fill="#88c050"/>
<circle cx="490.37" cy="219.83" r="0.50" fill="#88c050"/>
<circle cx="487.08" cy="214.33" r="0.55" fill="#70b040"/>
<circle cx="466.79" cy="175.25" r="0.50" fill="#88c050"/>
<circle cx="466.65" cy="172.44" r="0.65" fill="#4a8a28"/>
<circle cx="469.69" cy="177.01" r="0.45" fill="#5a9a30"/>
<circle cx="470.96" cy="157.64" r="0.45" fill="#88c050"/>
<circle cx="472.95" cy="163.81" r="0.55" fill="#88c050"/>
<circle cx="455.39" cy="227.77" r="0.45" fill="#3d5226"/>
<circle cx="462.74" cy="210.49" r="0.45" fill="#1a2412"/>
<circle cx="448.61" cy="208.88" r="0.60" fill="#1f2e14"/>
<circle cx="498.13" cy="171.40" r="0.60" fill="#3d5226"/>
<circle cx="491.44" cy="209.15" r="0.45" fill="#2a3a1c"/>
<circle cx="457.40" cy="199.86" r="0.60" fill="#1a2412"/>
<circle cx="503.96" cy="162.10" r="0.45" fill="#2a3a1c"/>
<circle cx="436.72" cy="152.20" r="0.60" fill="#334422"/>
<circle cx="443.19" cy="179.32" r="0.60" fill="#2a3a1c"/>
<circle cx="479.94" cy="197.07" r="0.60" fill="#2a3a1c"/>
<circle cx="483.04" cy="188.33" r="0.45" fill="#2a3a1c"/>
<circle cx="507.12" cy="170.63" r="0.60" fill="#2a3a1c"/>
<circle cx="442.38" cy="200.82" r="0.60" fill="#334422"/>
<circle cx="497.49" cy="225.99" r="0.60" fill="#1f2e14"/>
<circle cx="480.79" cy="196.25" r="0.60" fill="#3d5226"/>
<circle cx="454.13" cy="221.12" r="0.45" fill="#1f2e14"/>
<circle cx="475.93" cy="183.06" r="0.45" fill="#2a3a1c"/>
<circle cx="439.50" cy="211.58" r="0.45" fill="#1f2e14"/>
<circle cx="445.95" cy="167.26" r="0.60" fill="#3d5226"/>
<circle cx="497.63" cy="165.36" r="0.45" fill="#334422"/>
<circle cx="458.12" cy="155.71" r="0.45" fill="#1a2412"/>
<circle cx="463.89" cy="185.40" r="0.45" fill="#1a2412"/>
<circle cx="492.12" cy="186.62" r="0.45" fill="#2a3a1c"/>
<circle cx="455.13" cy="201.27" r="0.60" fill="#1f2e14"/>
<circle cx="503.63" cy="222.78" r="0.45" fill="#334422"/>
<circle cx="455.48" cy="194.36" r="0.60" fill="#1a2412"/>
<circle cx="457.76" cy="223.04" r="0.45" fill="#2a3a1c"/>
<circle cx="502.76" cy="153.16" r="0.45" fill="#334422"/>
<circle cx="499.81" cy="167.51" r="0.60" fill="#2a3a1c"/>
<circle cx="449.78" cy="181.74" r="0.45" fill="#3d5226"/>
<circle cx="464.22" cy="217.17" r="0.60" fill="#3d5226"/>
<circle cx="471.35" cy="192.59" r="0.45" fill="#1f2e14"/>
<circle cx="468.67" cy="207.43" r="0.60" fill="#3d5226"/>
<circle cx="495.77" cy="181.95" r="0.45" fill="#3d5226"/>
<circle cx="478.52" cy="165.12" r="0.45" fill="#1f2e14"/>
<circle cx="443.62" cy="199.58" r="0.60" fill="#2a3a1c"/>
<circle cx="510.26" cy="205.61" r="0.45" fill="#1f2e14"/>
<circle cx="445.66" cy="201.23" r="0.45" fill="#1f2e14"/>
<circle cx="491.73" cy="157.03" r="0.60" fill="#3d5226"/>
<circle cx="450.35" cy="225.02" r="0.45" fill="#3d5226"/>
<circle cx="502.74" cy="209.82" r="0.45" fill="#1a2412"/>
<circle cx="453.99" cy="167.54" r="0.45" fill="#1f2e14"/>
<circle cx="508.09" cy="221.70" r="0.60" fill="#1f2e14"/>
<circle cx="471.74" cy="162.15" r="0.60" fill="#2a3a1c"/>
<circle cx="459.57" cy="184.42" r="0.60" fill="#1f2e14"/>
<circle cx="454.77" cy="173.62" r="0.60" fill="#334422"/>
<circle cx="494.23" cy="198.05" r="0.60" fill="#1a2412"/>
<circle cx="482.61" cy="154.37" r="0.45" fill="#1a2412"/>
<circle cx="468.61" cy="211.14" r="0.60" fill="#334422"/>
<circle cx="489.26" cy="193.15" r="0.45" fill="#2a3a1c"/>
<circle cx="479.24" cy="173.96" r="0.45" fill="#1a2412"/>
<circle cx="475.31" cy="174.06" r="0.45" fill="#1f2e14"/>
<circle cx="461.78" cy="159.32" r="0.60" fill="#2a3a1c"/>
<circle cx="480.63" cy="225.23" r="0.60" fill="#3d5226"/>
<circle cx="479.51" cy="164.16" r="0.45" fill="#2a3a1c"/>
<circle cx="473.37" cy="160.41" r="0.60" fill="#1f2e14"/>
<circle cx="495.67" cy="205.33" r="0.60" fill="#1f2e14"/>
<circle cx="462.38" cy="182.70" r="0.45" fill="#1a2412"/>
<circle cx="467.50" cy="201.41" r="0.45" fill="#334422"/>
<circle cx="458.34" cy="184.75" r="0.45" fill="#3d5226"/>
<circle cx="464.21" cy="219.62" r="0.60" fill="#2a3a1c"/>
<circle cx="444.77" cy="197.45" r="0.45" fill="#3d5226"/>
<circle cx="461.83" cy="176.99" r="0.60" fill="#2a3a1c"/>
<circle cx="485.98" cy="208.76" r="0.60" fill="#2a3a1c"/>
<circle cx="468.79" cy="211.17" r="0.45" fill="#3d5226"/>
<circle cx="444.71" cy="187.34" r="0.45" fill="#2a3a1c"/>
<circle cx="455.60" cy="209.74" r="0.45" fill="#3d5226"/>
<circle cx="490.70" cy="226.57" r="0.60" fill="#334422"/>
<circle cx="447.39" cy="177.10" r="0.60" fill="#2a3a1c"/>
<circle cx="510.09" cy="207.75" r="0.45" fill="#1f2e14"/>
<circle cx="509.10" cy="159.78" r="0.45" fill="#1a2412"/>
<circle cx="510.76" cy="212.81" r="0.60" fill="#334422"/>
<circle cx="456.08" cy="160.36" r="0.60" fill="#1f2e14"/>
<circle cx="450.90" cy="181.71" r="0.45" fill="#1f2e14"/>
<circle cx="465.72" cy="212.51" r="0.60" fill="#2a3a1c"/>
<circle cx="470.67" cy="162.85" r="0.60" fill="#3d5226"/>
<circle cx="435.42" cy="170.53" r="0.60" fill="#1a2412"/>
<circle cx="500.14" cy="203.09" r="0.45" fill="#3d5226"/>
<circle cx="487.33" cy="201.08" r="0.60" fill="#1a2412"/>
<circle cx="459.10" cy="200.06" r="0.60" fill="#1f2e14"/>
<circle cx="453.66" cy="182.61" r="0.60" fill="#2a3a1c"/>
<circle cx="500.41" cy="188.93" r="0.60" fill="#1f2e14"/>
<circle cx="474.91" cy="202.57" r="0.60" fill="#2a3a1c"/>
<circle cx="494.92" cy="181.74" r="0.45" fill="#1a2412"/>
<circle cx="437.94" cy="193.57" r="0.45" fill="#2a3a1c"/>
<circle cx="474.98" cy="159.73" r="0.60" fill="#3d5226"/>
<circle cx="476.66" cy="206.87" r="0.45" fill="#3d5226"/>
<circle cx="484.22" cy="215.42" r="0.60" fill="#3d5226"/>
<circle cx="466.60" cy="224.52" r="0.45" fill="#2a3a1c"/>
<circle cx="465.22" cy="210.35" r="0.60" fill="#1f2e14"/>
<circle cx="484.09" cy="171.31" r="0.60" fill="#1a2412"/>
<circle cx="439.74" cy="157.75" r="0.60" fill="#1a2412"/>
<circle cx="479.67" cy="160.36" r="0.60" fill="#334422"/>
<circle cx="507.37" cy="192.32" r="0.60" fill="#2a3a1c"/>
<circle cx="470.58" cy="164.59" r="0.45" fill="#1f2e14"/>
<circle cx="471.13" cy="195.00" r="0.45" fill="#2a3a1c"/>
<circle cx="462.19" cy="200.87" r="0.60" fill="#1a2412"/>
<circle cx="511.70" cy="210.13" r="0.60" fill="#2a3a1c"/>
<circle cx="462.32" cy="217.08" r="0.60" fill="#334422"/>
<circle cx="487.93" cy="227.19" r="0.60" fill="#2a3a1c"/>
<circle cx="435.21" cy="207.22" r="0.60" fill="#334422"/>
<circle cx="453.86" cy="175.09" r="0.60" fill="#1a2412"/>
<circle cx="467.99" cy="200.75" r="0.45" fill="#334422"/>
<circle cx="506.51" cy="217.37" r="0.45" fill="#1f2e14"/>
<circle cx="498.75" cy="221.29" r="0.60" fill="#2a3a1c"/>
<circle cx="483.75" cy="153.15" r="0.45" fill="#1f2e14"/>
<circle cx="508.29" cy="202.18" r="0.45" fill="#334422"/>
<circle cx="479.54" cy="217.34" r="0.60" fill="#2a3a1c"/>
<circle cx="461.68" cy="163.68" r="0.45" fill="#1a2412"/>
<circle cx="481.93" cy="204.63" r="0.60" fill="#1f2e14"/>
</g>
<rect x="278.00" y="231.00" width="77.00" height="77.30" fill="#000000"/>
<g clip-path="url(#c21)">
<circle cx="342.22" cy="256.23" r="0.45" fill="#3a7a20"/>
<circle cx="337.48" cy="237.40" r="0.45" fill="#5a9a30"/>
<circle cx="337.31" cy="252.26" r="0.65" fill="#70b040"/>
<circle cx="334.23" cy="246.14" r="0.50" fill="#88c050"/>
<circle cx="335.63" cy="239.86" r="0.45" fill="#70b040"/>
<circle cx="342.72" cy="252.22" r="0.65" fill="#a8d870"/>
<circle cx="330.74" cy="235.73" r="0.65" fill="#4a8a28"/>
<circle cx="324.66" cy="252.22" r="0.50" fill="#5a9a30"/>
<circle cx="329.89" cy="238.14" r="0.45" fill="#5a9a30"/>
<circle cx="328.05" cy="239.17" r="0.45" fill="#4a8a28"/>
<circle cx="327.16" cy="245.40" r="0.45" fill="#70b040"/>
<circle cx="340.29" cy="254.16" r="0.55" fill="#70b040"/>
<circle cx="348.50" cy="251.90" r="0.65" fill="#4a8a28"/>
<circle cx="340.07" cy="236.48" r="0.55" fill="#70b040"/>
<circle cx="328.69" cy="249.35" r="0.45" fill="#3a7a20"/>
<circle cx="341.91" cy="239.77" r="0.65" fill="#88c050"/>
<circle cx="330.23" cy="257.15" r="0.55" fill="#3a7a20"/>
<circle cx="350.47" cy="244.35" r="0.55" fill="#5a9a30"/>
<circle cx="342.67" cy="256.27" r="0.45" fill="#70b040"/>
<circle cx="338.67" cy="243.46" r="0.65" fill="#a8d870"/>
<circle cx="334.66" cy="245.18" r="0.45" fill="#4a8a28"/>
<circle cx="344.79" cy="246.22" r="0.45" fill="#88c050"/>
<circle cx="341.61" cy="233.97" r="0.65" fill="#3a7a20"/>
<circle cx="328.82" cy="239.11" r="0.45" fill="#a8d870"/>
<circle cx="340.97" cy="256.32" r="0.50" fill="#88c050"/>
<circle cx="343.34" cy="249.29" r="0.65" fill="#5a9a30"/>
<circle cx="340.29" cy="233.72" r="0.45" fill="#a8d870"/>
<circle cx="328.39" cy="254.65" r="0.55" fill="#4a8a28"/>
<circle cx="342.35" cy="241.75" r="0.55" fill="#5a9a30"/>
<circle cx="349.64" cy="247.25" r="0.45" fill="#3a7a20"/>
<circle cx="326.73" cy="246.13" r="0.65" fill="#5a9a30"/>
<circle cx="324.69" cy="240.32" r="0.45" fill="#88c050"/>
<circle cx="347.67" cy="246.72" r="0.50" fill="#3a7a20"/>
<circle cx="328.10" cy="247.28" r="0.45" fill="#5a9a30"/>
<circle cx="333.58" cy="241.28" r="0.45" fill="#70b040"/>
<circle cx="336.65" cy="246.56" r="0.45" fill="#a8d870"/>
<circle cx="352.40" cy="244.99" r="0.45" fill="#70b040"/>
<circle cx="339.43" cy="247.26" r="0.50" fill="#a8d870"/>
<circle cx="325.18" cy="249.41" r="0.55" fill="#5a9a30"/>
<circle cx="339.98" cy="235.14" r="0.45" fill="#70b040"/>
<circle cx="334.88" cy="255.35" r="0.65" fill="#88c050"/>
<circle cx="330.87" cy="235.27" r="0.45" fill="#5a9a30"/>
<circle cx="339.89" cy="246.11" r="0.45" fill="#a8d870"/>
<circle cx="331.32" cy="250.67" r="0.50" fill="#3a7a20"/>
<circle cx="351.75" cy="242.88" r="0.45" fill="#3a7a20"/>
<circle cx="331.85" cy="257.58" r="0.65" fill="#a8d870"/>
<circle cx="331.75" cy="247.00" r="0.55" fill="#5a9a30"/>
<circle cx="344.05" cy="244.50" r="0.65" fill="#88c050"/>
<circle cx="327.58" cy="253.58" r="0.55" fill="#4a8a28"/>
<circle cx="336.99" cy="249.09" r="0.55" fill="#a8d870"/>
<circle cx="347.07" cy="237.91" r="0.50" fill="#5a9a30"/>
<circle cx="331.03" cy="241.71" r="0.50" fill="#88c050"/>
<circle cx="328.78" cy="253.53" r="0.50" fill="#3a7a20"/>
<circle cx="340.93" cy="239.53" r="0.55" fill="#5a9a30"/>
<circle cx="337.17" cy="254.42" r="0.45" fill="#3a7a20"/>
<circle cx="295.07" cy="283.37" r="0.50" fill="#3a7a20"/>
<circle cx="294.57" cy="286.93" r="0.65" fill="#3a7a20"/>
<circle cx="294.27" cy="282.56" r="0.65" fill="#3a7a20"/>
<circle cx="297.37" cy="278.22" r="0.50" fill="#a8d870"/>
<circle cx="295.09" cy="282.45" r="0.65" fill="#88c050"/>
<circle cx="293.41" cy="274.96" r="0.45" fill="#3a7a20"/>
<circle cx="297.82" cy="276.74" r="0.55" fill="#5a9a30"/>
<circle cx="296.70" cy="277.89" r="0.55" fill="#3a7a20"/>
<circle cx="301.64" cy="277.90" r="0.50" fill="#88c050"/>
<circle cx="297.70" cy="283.64" r="0.55" fill="#70b040"/>
<circle cx="290.91" cy="284.71" r="0.50" fill="#88c050"/>
<circle cx="296.23" cy="287.24" r="0.55" fill="#88c050"/>
<circle cx="300.23" cy="278.05" r="0.45" fill="#88c050"/>
<circle cx="300.47" cy="285.17" r="0.55" fill="#4a8a28"/>
<circle cx="294.52" cy="280.89" r="0.50" fill="#5a9a30"/>
<circle cx="305.66" cy="280.64" r="0.50" fill="#88c050"/>
<circle cx="295.33" cy="286.72" r="0.45" fill="#88c050"/>
<circle cx="304.60" cy="279.12" r="0.50" fill="#3a7a20"/>
<circle cx="295.95" cy="282.26" r="0.50" fill="#70b040"/>
<circle cx="294.76" cy="281.75" r="0.55" fill="#5a9a30"/>
<circle cx="300.84" cy="277.80" r="0.65" fill="#5a9a30"/>
<circle cx="303.72" cy="278.43" r="0.55" fill="#5a9a30"/>
<circle cx="293.90" cy="283.85" r="0.65" fill="#5a9a30"/>
<circle cx="299.94" cy="286.46" r="0.50" fill="#4a8a28"/>
<circle cx="300.89" cy="280.84" r="0.55" fill="#5a9a30"/>
<circle cx="328.77" cy="280.43" r="0.45" fill="#3a7a20"/>
<circle cx="327.88" cy="279.80" r="0.65" fill="#3a7a20"/>
<circle cx="329.79" cy="281.85" r="0.50" fill="#5a9a30"/>
<circle cx="325.11" cy="277.82" r="0.65" fill="#3a7a20"/>
<circle cx="327.13" cy="278.89" r="0.55" fill="#4a8a28"/>
<circle cx="326.88" cy="283.29" r="0.65" fill="#88c050"/>
<circle cx="328.86" cy="283.77" r="0.45" fill="#70b040"/>
<circle cx="319.70" cy="282.24" r="0.50" fill="#5a9a30"/>
<circle cx="330.29" cy="279.66" r="0.55" fill="#3a7a20"/>
<circle cx="329.23" cy="279.44" r="0.45" fill="#88c050"/>
<circle cx="331.33" cy="279.19" r="0.45" fill="#5a9a30"/>
<circle cx="322.66" cy="282.12" r="0.65" fill="#70b040"/>
<circle cx="330.53" cy="283.61" r="0.50" fill="#4a8a28"/>
<circle cx="326.71" cy="278.25" r="0.50" fill="#88c050"/>
<circle cx="324.20" cy="281.94" r="0.65" fill="#88c050"/>
<circle cx="327.03" cy="282.04" r="0.55" fill="#3a7a20"/>
<circle cx="325.38" cy="283.30" r="0.45" fill="#88c050"/>
<circle cx="323.93" cy="286.62" r="0.50" fill="#5a9a30"/>
<circle cx="328.84" cy="280.79" r="0.50" fill="#a8d870"/>
<circle cx="320.37" cy="278.82" r="0.55" fill="#5a9a30"/>
<circle cx="349.20" cy="298.88" r="0.55" fill="#88c050"/>
<circle cx="355.25" cy="303.94" r="0.65" fill="#5a9a30"/>
<circle cx="347.49" cy="308.77" r="0.55" fill="#5a9a30"/>
<circle cx="352.20" cy="307.28" r="0.55" fill="#88c050"/>
<circle cx="344.68" cy="303.77" r="0.55" fill="#3a7a20"/>
<circle cx="350.68" cy="307.16" r="0.50" fill="#88c050"/>
<circle cx="348.54" cy="306.18" r="0.50" fill="#70b040"/>
<circle cx="348.31" cy="301.76" r="0.45" fill="#5a9a30"/>
<circle cx="353.27" cy="301.15" r="0.50" fill="#4a8a28"/>
<circle cx="350.39" cy="307.92" r="0.50" fill="#a8d870"/>
<circle cx="346.46" cy="302.84" r="0.65" fill="#5a9a30"/>
<circle cx="352.37" cy="299.82" r="0.55" fill="#3a7a20"/>
<circle cx="292.78" cy="251.05" r="0.45" fill="#88c050"/>
<circle cx="296.47" cy="249.24" r="0.50" fill="#88c050"/>
<circle cx="294.93" cy="248.03" r="0.55" fill="#70b040"/>
<circle cx="296.12" cy="249.50" r="0.45" fill="#3a7a20"/>
<circle cx="310.34" cy="267.92" r="0.45" fill="#3a7a20"/>
<circle cx="319.78" cy="266.54" r="0.65" fill="#4a8a28"/>
<circle cx="308.44" cy="258.59" r="0.45" fill="#4a8a28"/>
<circle cx="320.26" cy="260.44" r="0.45" fill="#3a7a20"/>
<circle cx="309.39" cy="260.91" r="0.50" fill="#5a9a30"/>
<circle cx="318.61" cy="261.25" r="0.50" fill="#70b040"/>
<circle cx="318.12" cy="264.35" r="0.45" fill="#5a9a30"/>
<circle cx="320.36" cy="265.72" r="0.55" fill="#70b040"/>
<circle cx="279.36" cy="277.33" r="0.60" fill="#3d5226"/>
<circle cx="318.26" cy="285.31" r="0.60" fill="#1f2e14"/>
<circle cx="344.95" cy="286.43" r="0.60" fill="#1f2e14"/>
<circle cx="287.47" cy="269.15" r="0.60" fill="#3d5226"/>
<circle cx="286.47" cy="240.40" r="0.45" fill="#2a3a1c"/>
<circle cx="344.30" cy="242.38" r="0.60" fill="#3d5226"/>
<circle cx="335.49" cy="243.70" r="0.60" fill="#1f2e14"/>
<circle cx="331.43" cy="277.15" r="0.45" fill="#3d5226"/>
<circle cx="308.46" cy="303.76" r="0.60" fill="#334422"/>
<circle cx="308.85" cy="295.82" r="0.60" fill="#1a2412"/>
<circle cx="340.76" cy="296.52" r="0.60" fill="#1f2e14"/>
<circle cx="317.84" cy="305.04" r="0.45" fill="#334422"/>
<circle cx="345.03" cy="282.26" r="0.60" fill="#1f2e14"/>
<circle cx="286.39" cy="245.49" r="0.60" fill="#334422"/>
<circle cx="293.46" cy="282.72" r="0.45" fill="#2a3a1c"/>
<circle cx="310.40" cy="261.69" r="0.45" fill="#1a2412"/>
<circle cx="340.31" cy="299.36" r="0.45" fill="#1f2e14"/>
<circle cx="344.65" cy="279.00" r="0.60" fill="#3d5226"/>
<circle cx="326.38" cy="293.33" r="0.45" fill="#1f2e14"/>
<circle cx="297.29" cy="271.22" r="0.45" fill="#1a2412"/>
<circle cx="351.22" cy="253.23" r="0.60" fill="#334422"/>
<circle cx="327.86" cy="240.31" r="0.60" fill="#3d5226"/>
<circle cx="284.50" cy="276.63" r="0.60" fill="#2a3a1c"/>
<circle cx="287.54" cy="241.15" r="0.60" fill="#334422"/>
<circle cx="322.46" cy="252.19" r="0.60" fill="#1f2e14"/>
<circle cx="342.66" cy="278.15" r="0.45" fill="#3d5226"/>
<circle cx="328.08" cy="246.55" r="0.60" fill="#334422"/>
<circle cx="346.67" cy="254.48" r="0.60" fill="#1a2412"/>
<circle cx="341.05" cy="233.39" r="0.45" fill="#334422"/>
<circle cx="292.54" cy="273.20" r="0.60" fill="#3d5226"/>
<circle cx="278.91" cy="258.26" r="0.60" fill="#2a3a1c"/>
<circle cx="320.86" cy="268.99" r="0.45" fill="#334422"/>
<circle cx="300.75" cy="290.69" r="0.45" fill="#2a3a1c"/>
<circle cx="324.66" cy="257.90" r="0.60" fill="#1f2e14"/>
<circle cx="342.24" cy="258.37" r="0.45" fill="#1f2e14"/>
<circle cx="354.18" cy="283.38" r="0.60" fill="#2a3a1c"/>
<circle cx="303.95" cy="258.24" r="0.60" fill="#2a3a1c"/>
<circle cx="341.23" cy="271.02" r="0.60" fill="#1a2412"/>
<circle cx="338.44" cy="285.77" r="0.60" fill="#2a3a1c"/>
<circle cx="345.05" cy="231.33" r="0.45" fill="#3d5226"/>
<circle cx="316.34" cy="305.42" r="0.45" fill="#3d5226"/>
<circle cx="310.18" cy="291.58" r="0.45" fill="#3d5226"/>
<circle cx="307.23" cy="265.96" r="0.60" fill="#1a2412"/>
<circle cx="333.68" cy="253.64" r="0.60" fill="#1a2412"/>
<circle cx="327.91" cy="231.52" r="0.60" fill="#1a2412"/>
<circle cx="312.19" cy="245.24" r="0.45" fill="#334422"/>
<circle cx="311.54" cy="260.14" r="0.45" fill="#2a3a1c"/>
<circle cx="341.27" cy="256.52" r="0.45" fill="#3d5226"/>
<circle cx="351.82" cy="246.79" r="0.45" fill="#1a2412"/>
<circle cx="279.97" cy="250.83" r="0.60" fill="#1a2412"/>
<circle cx="348.86" cy="290.79" r="0.60" fill="#3d5226"/>
<circle cx="317.84" cy="270.98" r="0.60" fill="#1a2412"/>
<circle cx="313.75" cy="234.15" r="0.60" fill="#334422"/>
<circle cx="350.99" cy="283.29" r="0.45" fill="#3d5226"/>
<circle cx="285.62" cy="259.94" r="0.45" fill="#1a2412"/>
<circle cx="345.75" cy="305.55" r="0.60" fill="#1a2412"/>
<circle cx="311.89" cy="279.28" r="0.60" fill="#3d5226"/>
<circle cx="331.25" cy="288.70" r="0.45" fill="#1f2e14"/>
<circle cx="305.93" cy="259.34" r="0.60" fill="#1f2e14"/>
<circle cx="317.47" cy="239.54" r="0.60" fill="#334422"/>
<circle cx="341.18" cy="307.55" r="0.45" fill="#1a2412"/>
<circle cx="318.35" cy="294.09" r="0.45" fill="#2a3a1c"/>
<circle cx="309.74" cy="235.65" r="0.45" fill="#3d5226"/>
<circle cx="305.20" cy="307.82" r="0.60" fill="#1f2e14"/>
<circle cx="278.83" cy="231.21" r="0.45" fill="#3d5226"/>
<circle cx="348.61" cy="261.73" r="0.45" fill="#1f2e14"/>
<circle cx="329.44" cy="246.20" r="0.60" fill="#1a2412"/>
<circle cx="345.08" cy="300.23" r="0.45" fill="#3d5226"/>
<circle cx="322.23" cy="262.78" r="0.45" fill="#1f2e14"/>
<circle cx="290.07" cy="289.71" r="0.45" fill="#1f2e14"/>
<circle cx="285.71" cy="244.18" r="0.60" fill="#3d5226"/>
<circle cx="341.38" cy="278.39" r="0.45" fill="#1f2e14"/>
<circle cx="330.71" cy="275.74" r="0.45" fill="#2a3a1c"/>
<circle cx="305.25" cy="244.10" r="0.45" fill="#334422"/>
<circle cx="344.17" cy="304.26" r="0.60" fill="#1f2e14"/>
<circle cx="292.76" cy="279.24" r="0.45" fill="#1f2e14"/>
<circle cx="294.94" cy="261.61" r="0.60" fill="#1f2e14"/>
<circle cx="282.20" cy="249.42" r="0.45" fill="#2a3a1c"/>
<circle cx="290.27" cy="276.37" r="0.60" fill="#2a3a1c"/>
<circle cx="278.47" cy="298.02" r="0.60" fill="#1a2412"/>
<circle cx="310.21" cy="250.48" r="0.45" fill="#1a2412"/>
<circle cx="296.71" cy="261.13" r="0.45" fill="#3d5226"/>
<circle cx="309.84" cy="261.81" r="0.45" fill="#1a2412"/>
<circle cx="339.04" cy="249.81" r="0.45" fill="#2a3a1c"/>
<circle cx="305.60" cy="245.42" r="0.60" fill="#334422"/>
<circle cx="321.24" cy="239.88" r="0.60" fill="#3d5226"/>
<circle cx="303.86" cy="281.34" r="0.60" fill="#1f2e14"/>
<circle cx="341.59" cy="258.15" r="0.60" fill="#2a3a1c"/>
<circle cx="292.72" cy="252.92" r="0.60" fill="#2a3a1c"/>
<circle cx="280.69" cy="282.35" r="0.45" fill="#334422"/>
<circle cx="296.62" cy="241.04" r="0.60" fill="#2a3a1c"/>
<circle cx="319.95" cy="291.87" r="0.60" fill="#3d5226"/>
<circle cx="313.96" cy="292.45" r="0.45" fill="#2a3a1c"/>
<circle cx="306.33" cy="247.73" r="0.60" fill="#1a2412"/>
<circle cx="326.46" cy="275.89" r="0.60" fill="#334422"/>
<circle cx="316.87" cy="248.57" r="0.45" fill="#1a2412"/>
<circle cx="350.54" cy="308.14" r="0.60" fill="#3d5226"/>
<circle cx="323.24" cy="259.45" r="0.60" fill="#2a3a1c"/>
<circle cx="324.83" cy="247.43" r="0.45" fill="#1f2e14"/>
<circle cx="319.78" cy="251.90" r="0.45" fill="#1a2412"/>
<circle cx="328.63" cy="274.88" r="0.45" fill="#334422"/>
<circle cx="308.02" cy="237.65" r="0.45" fill="#2a3a1c"/>
<circle cx="302.72" cy="282.23" r="0.45" fill="#1f2e14"/>
<circle cx="321.27" cy="258.94" r="0.60" fill="#3d5226"/>
<circle cx="292.85" cy="286.56" r="0.45" fill="#1f2e14"/>
<circle cx="300.22" cy="294.14" r="0.60" fill="#1a2412"/>
<circle cx="305.40" cy="296.27" r="0.45" fill="#1a2412"/>
<circle cx="350.13" cy="244.64" r="0.60" fill="#334422"/>
<circle cx="347.06" cy="232.95" r="0.45" fill="#1a2412"/>
<circle cx="355.00" cy="261.96" r="0.45" fill="#1f2e14"/>
</g>
<rect x="355.00" y="231.00" width="78.00" height="77.30" fill="#050000"/>
<g clip-path="url(#c22)">
<rect x="355.00" y="231" width="78" height="77.3" filter="url(#haze)" opacity="0.6"/>
<g filter="url(#tex2)">
<polygon points="355.80,243.70 362.00,232.60 379.00,239.70 371.90,248.60 365.60,249.50" fill="#a01414" opacity="0.55" filter="url(#bl2)"/>
<g opacity="0.85" filter="url(#bl3)"><circle cx="362.56" cy="237.18" r="0.9" fill="#e8302a"/><circle cx="365.19" cy="242.88" r="1.3" fill="#f04434"/><circle cx="372.93" cy="241.93" r="0.9" fill="#6a0808"/><circle cx="375.28" cy="242.24" r="1.1" fill="#d42420"/><circle cx="371.35" cy="242.32" r="0.7" fill="#e8302a"/><circle cx="362.44" cy="233.33" r="0.7" fill="#f04434"/><circle cx="363.19" cy="245.73" r="1.1" fill="#e8302a"/><circle cx="365.48" cy="245.17" r="0.9" fill="#c81c1c"/><circle cx="368.03" cy="238.50" r="1.3" fill="#d42420"/><circle cx="372.94" cy="246.63" r="1.3" fill="#6a0808"/><circle cx="357.06" cy="244.40" r="1.3" fill="#6a0808"/><circle cx="367.16" cy="235.80" r="1.1" fill="#f04434"/><circle cx="368.48" cy="248.98" r="0.9" fill="#6a0808"/><circle cx="359.70" cy="238.47" r="0.7" fill="#f04434"/><circle cx="371.72" cy="240.82" r="1.3" fill="#f04434"/><circle cx="370.67" cy="244.40" r="0.9" fill="#f04434"/><circle cx="369.43" cy="236.67" r="0.7" fill="#6a0808"/><circle cx="365.65" cy="248.51" r="0.9" fill="#6a0808"/><circle cx="365.22" cy="236.09" r="1.1" fill="#e8302a"/><circle cx="364.16" cy="236.09" r="0.7" fill="#c81c1c"/><circle cx="362.85" cy="234.47" r="1.1" fill="#d42420"/><circle cx="366.13" cy="242.22" r="1.1" fill="#f04434"/><circle cx="366.67" cy="249.16" r="1.3" fill="#e8302a"/><circle cx="373.14" cy="238.21" r="1.1" fill="#e8302a"/><circle cx="367.13" cy="245.85" r="1.1" fill="#e8302a"/><circle cx="364.14" cy="234.14" r="1.1" fill="#6a0808"/><circle cx="361.63" cy="236.76" r="0.9" fill="#e8302a"/><circle cx="359.17" cy="238.82" r="0.9" fill="#e8302a"/><circle cx="373.02" cy="238.12" r="0.9" fill="#c81c1c"/><circle cx="363.23" cy="238.83" r="1.1" fill="#c81c1c"/><circle cx="368.95" cy="243.22" r="1.3" fill="#e8302a"/><circle cx="377.72" cy="240.96" r="1.3" fill="#f04434"/><circle cx="361.08" cy="234.94" r="1.3" fill="#e8302a"/><circle cx="366.92" cy="236.29" r="1.1" fill="#e8302a"/><circle cx="356.54" cy="242.92" r="1.3" fill="#f04434"/><circle cx="362.37" cy="243.78" r="1.3" fill="#c81c1c"/><circle cx="372.61" cy="239.00" r="0.7" fill="#d42420"/><circle cx="374.46" cy="244.01" r="0.9" fill="#d42420"/><circle cx="366.48" cy="249.01" r="0.9" fill="#d42420"/><circle cx="371.49" cy="242.89" r="1.1" fill="#6a0808"/><circle cx="369.05" cy="248.70" r="1.3" fill="#f04434"/><circle cx="362.74" cy="238.40" r="0.7" fill="#f04434"/><circle cx="360.96" cy="245.10" r="0.7" fill="#f04434"/><circle cx="371.12" cy="238.89" r="1.3" fill="#c81c1c"/><circle cx="368.10" cy="242.15" r="1.3" fill="#c81c1c"/><circle cx="376.45" cy="241.86" r="0.7" fill="#f04434"/><circle cx="358.00" cy="241.57" r="1.1" fill="#d42420"/><circle cx="361.07" cy="240.34" r="0.7" fill="#6a0808"/><circle cx="376.89" cy="242.18" r="1.3" fill="#e8302a"/><circle cx="367.47" cy="241.17" r="0.7" fill="#6a0808"/><circle cx="364.89" cy="235.49" r="0.9" fill="#6a0808"/><circle cx="364.46" cy="243.06" r="1.3" fill="#f04434"/><circle cx="366.47" cy="234.64" r="0.9" fill="#d42420"/><circle cx="358.46" cy="244.91" r="1.1" fill="#f04434"/><circle cx="364.31" cy="246.82" r="0.7" fill="#c81c1c"/><circle cx="358.65" cy="238.90" r="1.1" fill="#d42420"/><circle cx="356.81" cy="242.80" r="0.7" fill="#c81c1c"/><circle cx="368.53" cy="246.17" r="0.7" fill="#e8302a"/><circle cx="361.71" cy="235.86" r="1.3" fill="#e8302a"/><circle cx="375.25" cy="242.43" r="0.7" fill="#e8302a"/><circle cx="361.80" cy="235.14" r="1.1" fill="#d42420"/><circle cx="375.20" cy="242.54" r="1.1" fill="#6a0808"/><circle cx="362.03" cy="240.11" r="0.7" fill="#c81c1c"/><circle cx="370.19" cy="243.50" r="1.3" fill="#d42420"/><circle cx="366.21" cy="236.47" r="0.7" fill="#c81c1c"/><circle cx="363.44" cy="236.26" r="0.9" fill="#6a0808"/><circle cx="370.29" cy="236.17" r="1.1" fill="#d42420"/><circle cx="363.49" cy="240.52" r="1.1" fill="#c81c1c"/><circle cx="366.46" cy="249.27" r="0.7" fill="#f04434"/></g>
<polygon points="416.20,237.90 434.00,234.40 434.00,269.00 422.50,269.00 418.00,255.80 416.20,246.90" fill="#a01414" opacity="0.55" filter="url(#bl2)"/>
<g opacity="0.85" filter="url(#bl3)"><circle cx="429.14" cy="239.37" r="1.3" fill="#c81c1c"/><circle cx="422.55" cy="254.24" r="0.9" fill="#e8302a"/><circle cx="432.49" cy="265.63" r="0.7" fill="#f04434"/><circle cx="429.98" cy="256.31" r="0.7" fill="#c81c1c"/><circle cx="430.30" cy="261.84" r="0.9" fill="#f04434"/><circle cx="428.33" cy="244.92" r="1.1" fill="#c81c1c"/><circle cx="425.26" cy="256.38" r="1.1" fill="#6a0808"/><circle cx="428.94" cy="245.97" r="1.1" fill="#c81c1c"/><circle cx="431.93" cy="261.48" r="1.1" fill="#f04434"/><circle cx="430.60" cy="268.88" r="0.9" fill="#f04434"/><circle cx="428.15" cy="248.41" r="1.3" fill="#6a0808"/><circle cx="429.95" cy="266.56" r="0.7" fill="#f04434"/><circle cx="421.57" cy="245.07" r="1.1" fill="#e8302a"/><circle cx="432.60" cy="254.58" r="0.7" fill="#6a0808"/><circle cx="419.38" cy="254.48" r="1.3" fill="#c81c1c"/><circle cx="433.48" cy="258.28" r="0.7" fill="#d42420"/><circle cx="421.88" cy="240.46" r="1.1" fill="#6a0808"/><circle cx="416.61" cy="240.09" r="1.1" fill="#f04434"/><circle cx="428.74" cy="241.95" r="1.3" fill="#d42420"/><circle cx="419.77" cy="255.26" r="0.7" fill="#f04434"/><circle cx="426.44" cy="259.28" r="0.7" fill="#f04434"/><circle cx="421.02" cy="256.63" r="0.7" fill="#c81c1c"/><circle cx="432.63" cy="241.74" r="1.1" fill="#e8302a"/><circle cx="427.75" cy="248.42" r="1.1" fill="#f04434"/><circle cx="417.22" cy="248.73" r="0.7" fill="#e8302a"/><circle cx="427.35" cy="245.97" r="1.3" fill="#6a0808"/><circle cx="423.31" cy="266.93" r="0.7" fill="#e8302a"/><circle cx="432.67" cy="253.92" r="1.1" fill="#e8302a"/><circle cx="423.59" cy="258.97" r="1.1" fill="#f04434"/><circle cx="417.86" cy="239.80" r="0.9" fill="#6a0808"/><circle cx="429.86" cy="237.51" r="1.1" fill="#d42420"/><circle cx="422.33" cy="257.93" r="0.9" fill="#6a0808"/><circle cx="426.43" cy="242.36" r="1.1" fill="#d42420"/><circle cx="429.79" cy="261.25" r="1.1" fill="#6a0808"/><circle cx="433.60" cy="250.08" r="1.1" fill="#c81c1c"/><circle cx="425.52" cy="266.96" r="0.9" fill="#c81c1c"/><circle cx="427.87" cy="261.19" r="1.1" fill="#f04434"/><circle cx="433.81" cy="242.29" r="0.7" fill="#e8302a"/><circle cx="427.32" cy="238.63" r="0.9" fill="#6a0808"/><circle cx="430.04" cy="243.37" r="1.1" fill="#f04434"/><circle cx="432.27" cy="264.53" r="0.9" fill="#6a0808"/><circle cx="425.08" cy="256.41" r="1.1" fill="#d42420"/><circle cx="424.39" cy="245.60" r="0.7" fill="#e8302a"/><circle cx="430.56" cy="266.01" r="1.1" fill="#e8302a"/><circle cx="420.26" cy="247.41" r="1.3" fill="#f04434"/><circle cx="428.82" cy="242.77" r="1.1" fill="#f04434"/><circle cx="422.00" cy="249.13" r="1.1" fill="#c81c1c"/><circle cx="431.85" cy="251.65" r="0.9" fill="#d42420"/><circle cx="431.56" cy="264.48" r="1.1" fill="#f04434"/><circle cx="430.85" cy="244.18" r="1.1" fill="#e8302a"/><circle cx="424.84" cy="265.23" r="0.9" fill="#c81c1c"/><circle cx="428.35" cy="255.08" r="1.3" fill="#f04434"/><circle cx="426.51" cy="264.95" r="0.9" fill="#c81c1c"/><circle cx="424.02" cy="249.44" r="0.9" fill="#c81c1c"/><circle cx="428.40" cy="262.25" r="0.9" fill="#e8302a"/><circle cx="418.57" cy="244.87" r="1.1" fill="#e8302a"/><circle cx="429.57" cy="250.47" r="1.3" fill="#e8302a"/><circle cx="423.57" cy="256.62" r="1.3" fill="#c81c1c"/><circle cx="433.64" cy="235.54" r="0.9" fill="#f04434"/><circle cx="430.30" cy="258.26" r="0.7" fill="#f04434"/><circle cx="425.19" cy="242.41" r="1.3" fill="#e8302a"/><circle cx="429.17" cy="236.07" r="1.1" fill="#e8302a"/><circle cx="431.84" cy="238.57" r="1.3" fill="#f04434"/><circle cx="420.19" cy="253.10" r="0.7" fill="#6a0808"/><circle cx="422.49" cy="251.57" r="0.7" fill="#c81c1c"/><circle cx="433.47" cy="263.92" r="0.9" fill="#e8302a"/><circle cx="421.06" cy="240.53" r="1.1" fill="#c81c1c"/><circle cx="425.26" cy="248.52" r="1.1" fill="#c81c1c"/><circle cx="427.83" cy="253.22" r="1.1" fill="#d42420"/><circle cx="433.69" cy="264.64" r="1.1" fill="#d42420"/><circle cx="423.71" cy="253.08" r="1.3" fill="#f04434"/><circle cx="423.09" cy="247.74" r="1.3" fill="#f04434"/><circle cx="432.19" cy="256.37" r="0.9" fill="#6a0808"/><circle cx="425.12" cy="268.61" r="1.3" fill="#f04434"/><circle cx="430.89" cy="257.35" r="0.7" fill="#6a0808"/><circle cx="430.15" cy="265.83" r="0.7" fill="#d42420"/><circle cx="428.56" cy="245.62" r="1.3" fill="#6a0808"/><circle cx="428.09" cy="250.16" r="0.7" fill="#d42420"/><circle cx="429.48" cy="263.93" r="1.1" fill="#6a0808"/><circle cx="425.92" cy="247.54" r="1.3" fill="#c81c1c"/><circle cx="428.88" cy="248.02" r="1.1" fill="#6a0808"/><circle cx="427.94" cy="262.99" r="0.7" fill="#6a0808"/><circle cx="428.02" cy="266.37" r="1.1" fill="#c81c1c"/><circle cx="432.38" cy="250.78" r="1.1" fill="#6a0808"/><circle cx="426.69" cy="254.15" r="0.9" fill="#e8302a"/><circle cx="432.71" cy="252.69" r="0.9" fill="#6a0808"/><circle cx="419.21" cy="247.06" r="0.9" fill="#f04434"/><circle cx="430.83" cy="250.33" r="0.7" fill="#c81c1c"/><circle cx="422.99" cy="263.19" r="1.3" fill="#e8302a"/><circle cx="423.50" cy="258.71" r="1.3" fill="#e8302a"/><circle cx="422.69" cy="257.34" r="1.1" fill="#d42420"/><circle cx="427.99" cy="243.92" r="1.1" fill="#d42420"/><circle cx="428.57" cy="249.95" r="1.3" fill="#f04434"/><circle cx="429.71" cy="239.59" r="0.9" fill="#c81c1c"/><circle cx="424.90" cy="257.25" r="1.1" fill="#6a0808"/><circle cx="422.25" cy="247.59" r="0.7" fill="#6a0808"/><circle cx="419.78" cy="254.14" r="0.7" fill="#6a0808"/><circle cx="419.38" cy="259.25" r="1.1" fill="#c81c1c"/><circle cx="420.75" cy="243.58" r="1.3" fill="#e8302a"/><circle cx="425.55" cy="251.47" r="0.7" fill="#f04434"/><circle cx="421.37" cy="261.42" r="0.7" fill="#d42420"/><circle cx="429.61" cy="267.95" r="1.3" fill="#6a0808"/><circle cx="430.63" cy="246.59" r="1.3" fill="#6a0808"/><circle cx="418.50" cy="255.80" r="1.1" fill="#e8302a"/><circle cx="428.05" cy="245.80" r="0.7" fill="#e8302a"/><circle cx="429.66" cy="247.53" r="1.3" fill="#d42420"/><circle cx="432.86" cy="256.65" r="0.7" fill="#e8302a"/><circle cx="426.75" cy="250.40" r="1.3" fill="#d42420"/><circle cx="423.59" cy="250.79" r="0.7" fill="#d42420"/><circle cx="423.28" cy="239.08" r="0.7" fill="#f04434"/><circle cx="429.38" cy="248.30" r="0.7" fill="#c81c1c"/><circle cx="426.06" cy="261.02" r="1.3" fill="#e8302a"/><circle cx="425.05" cy="263.75" r="0.9" fill="#6a0808"/><circle cx="424.29" cy="262.91" r="0.9" fill="#c81c1c"/><circle cx="424.79" cy="236.30" r="1.3" fill="#6a0808"/><circle cx="418.70" cy="248.48" r="0.7" fill="#f04434"/><circle cx="421.90" cy="240.98" r="0.7" fill="#f04434"/><circle cx="433.80" cy="243.90" r="1.1" fill="#e8302a"/><circle cx="421.77" cy="243.22" r="1.1" fill="#6a0808"/><circle cx="423.23" cy="265.05" r="0.7" fill="#c81c1c"/><circle cx="421.62" cy="264.39" r="1.3" fill="#6a0808"/><circle cx="420.78" cy="241.39" r="0.7" fill="#f04434"/><circle cx="425.76" cy="247.33" r="1.3" fill="#d42420"/><circle cx="428.84" cy="239.29" r="1.1" fill="#f04434"/><circle cx="424.32" cy="258.86" r="0.7" fill="#c81c1c"/><circle cx="433.14" cy="262.89" r="0.7" fill="#c81c1c"/><circle cx="420.11" cy="249.59" r="0.9" fill="#f04434"/><circle cx="430.48" cy="254.89" r="1.3" fill="#d42420"/><circle cx="432.84" cy="249.79" r="0.9" fill="#e8302a"/><circle cx="418.42" cy="239.14" r="0.7" fill="#6a0808"/><circle cx="429.04" cy="259.91" r="0.9" fill="#d42420"/><circle cx="420.13" cy="259.33" r="1.1" fill="#f04434"/><circle cx="425.71" cy="239.90" r="0.9" fill="#6a0808"/><circle cx="418.00" cy="237.70" r="0.7" fill="#e8302a"/><circle cx="423.58" cy="257.20" r="1.1" fill="#d42420"/><circle cx="428.41" cy="239.76" r="0.7" fill="#f04434"/><circle cx="421.43" cy="242.45" r="1.1" fill="#6a0808"/><circle cx="429.00" cy="245.11" r="1.1" fill="#c81c1c"/><circle cx="425.97" cy="241.82" r="0.9" fill="#d42420"/><circle cx="433.54" cy="245.74" r="0.9" fill="#c81c1c"/><circle cx="420.18" cy="253.28" r="0.7" fill="#f04434"/><circle cx="424.47" cy="259.60" r="1.3" fill="#c81c1c"/><circle cx="428.28" cy="238.36" r="1.1" fill="#e8302a"/><circle cx="427.90" cy="241.68" r="0.7" fill="#c81c1c"/><circle cx="430.11" cy="265.17" r="0.7" fill="#f04434"/><circle cx="424.83" cy="264.29" r="0.7" fill="#f04434"/><circle cx="418.69" cy="243.78" r="0.9" fill="#6a0808"/><circle cx="432.66" cy="235.52" r="0.7" fill="#e8302a"/><circle cx="422.33" cy="267.08" r="1.1" fill="#e8302a"/><circle cx="419.26" cy="246.52" r="1.3" fill="#f04434"/><circle cx="422.07" cy="247.00" r="0.7" fill="#c81c1c"/><circle cx="430.60" cy="259.44" r="1.3" fill="#e8302a"/></g>
<polygon points="402.00,300.00 416.00,300.00 416.00,309.00 402.00,309.00" fill="#a01414" opacity="0.55" filter="url(#bl2)"/>
<g opacity="0.85" filter="url(#bl3)"><circle cx="412.46" cy="301.02" r="0.9" fill="#6a0808"/><circle cx="407.51" cy="300.32" r="0.7" fill="#6a0808"/><circle cx="410.11" cy="303.72" r="0.9" fill="#d42420"/><circle cx="410.09" cy="303.18" r="1.1" fill="#f04434"/><circle cx="407.03" cy="305.96" r="0.7" fill="#c81c1c"/><circle cx="402.07" cy="305.80" r="1.3" fill="#c81c1c"/><circle cx="404.09" cy="300.85" r="0.9" fill="#e8302a"/><circle cx="404.14" cy="302.43" r="0.7" fill="#c81c1c"/><circle cx="408.55" cy="301.48" r="0.7" fill="#6a0808"/><circle cx="405.59" cy="308.54" r="1.1" fill="#d42420"/><circle cx="409.77" cy="308.89" r="0.9" fill="#6a0808"/><circle cx="409.03" cy="308.02" r="0.7" fill="#e8302a"/><circle cx="415.21" cy="304.40" r="0.9" fill="#f04434"/><circle cx="403.22" cy="301.54" r="1.1" fill="#e8302a"/><circle cx="407.94" cy="305.62" r="0.7" fill="#c81c1c"/><circle cx="409.98" cy="301.09" r="0.9" fill="#f04434"/><circle cx="405.41" cy="306.97" r="0.7" fill="#f04434"/><circle cx="403.02" cy="303.04" r="0.7" fill="#e8302a"/><circle cx="405.01" cy="306.96" r="0.9" fill="#c81c1c"/><circle cx="406.79" cy="307.29" r="1.3" fill="#6a0808"/><circle cx="414.89" cy="300.10" r="1.3" fill="#d42420"/><circle cx="402.45" cy="307.10" r="0.9" fill="#6a0808"/><circle cx="411.50" cy="301.36" r="1.1" fill="#f04434"/><circle cx="404.85" cy="308.32" r="1.1" fill="#e8302a"/><circle cx="415.96" cy="307.12" r="1.3" fill="#e8302a"/><circle cx="408.96" cy="307.01" r="0.7" fill="#6a0808"/><circle cx="410.91" cy="301.79" r="0.7" fill="#c81c1c"/><circle cx="413.01" cy="300.83" r="1.1" fill="#6a0808"/><circle cx="404.27" cy="308.69" r="1.3" fill="#f04434"/><circle cx="405.63" cy="306.24" r="1.1" fill="#e8302a"/><circle cx="412.43" cy="307.49" r="0.9" fill="#d42420"/><circle cx="407.40" cy="305.76" r="1.1" fill="#6a0808"/><circle cx="409.44" cy="308.51" r="0.7" fill="#e8302a"/><circle cx="415.56" cy="307.09" r="1.1" fill="#f04434"/><circle cx="405.36" cy="305.29" r="0.9" fill="#d42420"/><circle cx="410.05" cy="308.40" r="0.7" fill="#d42420"/></g>
<polyline points="383.50,237.90 380.80,237.90 383.50,232.60 385.30,230.80" fill="none" stroke="#8a0c10" stroke-width="3.80" stroke-linejoin="round" stroke-linecap="round" opacity="0.8" filter="url(#bl2)"/>
<polyline points="383.50,237.90 380.80,237.90 383.50,232.60 385.30,230.80" fill="none" stroke="#e42a22" stroke-width="2.00" stroke-linejoin="round" stroke-linecap="round" filter="url(#bl3)"/>
<polyline points="379.00,239.70 383.50,237.90 384.40,246.90 387.00,252.20 388.80,257.60 390.60,264.70 392.50,270.00 394.00,276.90 392.40,284.10 389.70,289.40 385.30,293.90 379.00,297.50 371.90,300.10 370.50,303.70 371.90,309.00" fill="none" stroke="#8a0c10" stroke-width="4.20" stroke-linejoin="round" stroke-linecap="round" opacity="0.8" filter="url(#bl2)"/>
<polyline points="379.00,239.70 383.50,237.90 384.40,246.90 387.00,252.20 388.80,257.60 390.60,264.70 392.50,270.00 394.00,276.90 392.40,284.10 389.70,289.40 385.30,293.90 379.00,297.50 371.90,300.10 370.50,303.70 371.90,309.00" fill="none" stroke="#e42a22" stroke-width="2.40" stroke-linejoin="round" stroke-linecap="round" filter="url(#bl3)"/>
<polyline points="355.80,260.25 361.10,260.25 365.60,261.10 371.90,262.90" fill="none" stroke="#8a0c10" stroke-width="3.10" stroke-linejoin="round" stroke-linecap="round" opacity="0.8" filter="url(#bl2)"/>
<polyline points="355.80,260.25 361.10,260.25 365.60,261.10 371.90,262.90" fill="none" stroke="#e42a22" stroke-width="1.30" stroke-linejoin="round" stroke-linecap="round" filter="url(#bl3)"/>
<polyline points="355.80,280.50 359.40,276.90 362.90,274.25 367.40,272.90 371.00,274.25" fill="none" stroke="#8a0c10" stroke-width="3.20" stroke-linejoin="round" stroke-linecap="round" opacity="0.8" filter="url(#bl2)"/>
<polyline points="355.80,280.50 359.40,276.90 362.90,274.25 367.40,272.90 371.00,274.25" fill="none" stroke="#e42a22" stroke-width="1.40" stroke-linejoin="round" stroke-linecap="round" filter="url(#bl3)"/>
<polyline points="355.80,290.30 361.10,293.90 368.30,297.50 371.90,299.25" fill="none" stroke="#8a0c10" stroke-width="2.60" stroke-linejoin="round" stroke-linecap="round" opacity="0.8" filter="url(#bl2)"/>
<polyline points="355.80,290.30 361.10,293.90 368.30,297.50 371.90,299.25" fill="none" stroke="#e42a22" stroke-width="0.80" stroke-linejoin="round" stroke-linecap="round" filter="url(#bl3)"/>
<polyline points="392.00,266.00 398.40,258.50 402.80,251.30 406.40,244.20 410.90,237.00 414.40,233.50 419.80,232.60 426.90,232.60 434.00,234.40" fill="none" stroke="#8a0c10" stroke-width="5.40" stroke-linejoin="round" stroke-linecap="round" opacity="0.8" filter="url(#bl2)"/>
<polyline points="392.00,266.00 398.40,258.50 402.80,251.30 406.40,244.20 410.90,237.00 414.40,233.50 419.80,232.60 426.90,232.60 434.00,234.40" fill="none" stroke="#e42a22" stroke-width="3.60" stroke-linejoin="round" stroke-linecap="round" filter="url(#bl3)"/>
<polyline points="392.00,266.00 400.10,268.00 404.60,272.50 410.90,276.00 418.00,278.70 423.40,279.60 428.70,283.20 434.00,287.00" fill="none" stroke="#8a0c10" stroke-width="4.20" stroke-linejoin="round" stroke-linecap="round" opacity="0.8" filter="url(#bl2)"/>
<polyline points="392.00,266.00 400.10,268.00 404.60,272.50 410.90,276.00 418.00,278.70 423.40,279.60 428.70,283.20 434.00,287.00" fill="none" stroke="#e42a22" stroke-width="2.40" stroke-linejoin="round" stroke-linecap="round" filter="url(#bl3)"/>
<polyline points="423.00,268.00 424.30,273.40 423.40,279.60" fill="none" stroke="#8a0c10" stroke-width="4.20" stroke-linejoin="round" stroke-linecap="round" opacity="0.8" filter="url(#bl2)"/>
<polyline points="423.00,268.00 424.30,273.40 423.40,279.60" fill="none" stroke="#e42a22" stroke-width="2.40" stroke-linejoin="round" stroke-linecap="round" filter="url(#bl3)"/>
<polyline points="423.40,279.60 419.80,285.00 417.10,291.20 414.40,297.50 413.50,303.70 412.60,309.00" fill="none" stroke="#8a0c10" stroke-width="4.10" stroke-linejoin="round" stroke-linecap="round" opacity="0.8" filter="url(#bl2)"/>
<polyline points="423.40,279.60 419.80,285.00 417.10,291.20 414.40,297.50 413.50,303.70 412.60,309.00" fill="none" stroke="#e42a22" stroke-width="2.30" stroke-linejoin="round" stroke-linecap="round" filter="url(#bl3)"/>
<polyline points="392.40,284.10 397.50,293.00 401.90,297.50 406.40,301.90 410.90,303.70 414.40,302.80" fill="none" stroke="#8a0c10" stroke-width="4.10" stroke-linejoin="round" stroke-linecap="round" opacity="0.8" filter="url(#bl2)"/>
<polyline points="392.40,284.10 397.50,293.00 401.90,297.50 406.40,301.90 410.90,303.70 414.40,302.80" fill="none" stroke="#e42a22" stroke-width="2.30" stroke-linejoin="round" stroke-linecap="round" filter="url(#bl3)"/>
</g>
</g>
<rect x="435.00" y="231.00" width="77.30" height="77.30" fill="#000000"/>
<g clip-path="url(#c23)">
<ellipse cx="442.04" cy="252.21" rx="7.60" ry="8.00" fill="#3d2a9e" filter="url(#bl1)"/>
<ellipse cx="476.32" cy="247.75" rx="10.40" ry="11.00" fill="#3d2a9e" filter="url(#bl1)"/>
<ellipse cx="491.14" cy="259.36" rx="8.00" ry="14.00" fill="#3d2a9e" filter="url(#bl1)"/>
<ellipse cx="436.68" cy="270.07" rx="5.00" ry="10.00" fill="#3d2a9e" filter="url(#bl1)"/>
<ellipse cx="451.86" cy="290.61" rx="12.00" ry="9.00" fill="#3d2a9e" filter="url(#bl1)"/>
<ellipse cx="488.46" cy="288.82" rx="9.00" ry="11.00" fill="#3d2a9e" filter="url(#bl1)"/>
<ellipse cx="505.43" cy="294.18" rx="8.00" ry="11.00" fill="#3d2a9e" filter="url(#bl1)"/>
<ellipse cx="466.14" cy="301.32" rx="10.00" ry="8.00" fill="#3d2a9e" filter="url(#bl1)"/>
<ellipse cx="510.79" cy="270.07" rx="5.00" ry="10.00" fill="#3d2a9e" filter="url(#bl1)"/>
<ellipse cx="437.57" cy="301.32" rx="6.00" ry="8.00" fill="#3d2a9e" filter="url(#bl1)"/>
<rect x="435.00" y="231" width="78" height="77.3" filter="url(#haze)" opacity="0.6"/>
<g filter="url(#tex2)">
<polygon points="435.80,243.70 442.00,232.60 459.00,239.70 451.90,248.60 445.60,249.50" fill="#a01414" opacity="0.55" filter="url(#bl2)"/>
<g opacity="0.85" filter="url(#bl3)"><circle cx="451.20" cy="239.27" r="1.1" fill="#d42420"/><circle cx="445.22" cy="234.07" r="1.1" fill="#6a0808"/><circle cx="456.78" cy="239.81" r="1.1" fill="#e8302a"/><circle cx="442.77" cy="242.80" r="0.7" fill="#d42420"/><circle cx="445.51" cy="242.82" r="1.3" fill="#f04434"/><circle cx="443.58" cy="236.21" r="1.1" fill="#d42420"/><circle cx="455.39" cy="243.07" r="1.1" fill="#c81c1c"/><circle cx="452.07" cy="240.07" r="0.9" fill="#e8302a"/><circle cx="440.82" cy="243.20" r="1.3" fill="#f04434"/><circle cx="444.84" cy="238.22" r="0.9" fill="#c81c1c"/><circle cx="439.68" cy="238.54" r="1.3" fill="#c81c1c"/><circle cx="447.39" cy="248.75" r="0.9" fill="#f04434"/><circle cx="441.50" cy="242.15" r="1.1" fill="#c81c1c"/><circle cx="452.84" cy="245.33" r="1.3" fill="#f04434"/><circle cx="450.28" cy="240.11" r="1.1" fill="#c81c1c"/><circle cx="442.88" cy="244.59" r="1.3" fill="#6a0808"/><circle cx="450.99" cy="240.94" r="0.7" fill="#e8302a"/><circle cx="438.56" cy="238.97" r="1.1" fill="#6a0808"/><circle cx="443.34" cy="234.92" r="1.1" fill="#f04434"/><circle cx="439.83" cy="242.56" r="1.1" fill="#f04434"/><circle cx="442.56" cy="241.80" r="1.3" fill="#6a0808"/><circle cx="454.47" cy="244.03" r="1.3" fill="#d42420"/><circle cx="451.83" cy="237.29" r="0.9" fill="#6a0808"/><circle cx="448.15" cy="247.70" r="0.9" fill="#6a0808"/><circle cx="442.95" cy="241.40" r="1.1" fill="#e8302a"/><circle cx="453.83" cy="238.69" r="0.9" fill="#c81c1c"/><circle cx="440.38" cy="238.02" r="1.3" fill="#d42420"/><circle cx="444.94" cy="239.12" r="1.3" fill="#c81c1c"/><circle cx="450.25" cy="241.07" r="1.3" fill="#f04434"/><circle cx="453.86" cy="237.92" r="0.9" fill="#c81c1c"/><circle cx="453.36" cy="240.55" r="1.3" fill="#e8302a"/><circle cx="442.19" cy="238.73" r="1.3" fill="#6a0808"/><circle cx="438.61" cy="240.20" r="0.7" fill="#e8302a"/><circle cx="448.15" cy="244.40" r="1.1" fill="#c81c1c"/><circle cx="449.77" cy="238.68" r="0.9" fill="#e8302a"/><circle cx="449.78" cy="246.60" r="0.7" fill="#c81c1c"/><circle cx="452.57" cy="245.15" r="0.7" fill="#d42420"/><circle cx="444.95" cy="248.49" r="1.1" fill="#d42420"/><circle cx="444.91" cy="246.22" r="1.1" fill="#f04434"/><circle cx="452.87" cy="239.59" r="1.1" fill="#f04434"/><circle cx="440.74" cy="244.12" r="1.3" fill="#e8302a"/><circle cx="447.45" cy="247.00" r="0.9" fill="#6a0808"/><circle cx="445.84" cy="236.22" r="1.1" fill="#f04434"/><circle cx="439.31" cy="243.95" r="0.9" fill="#6a0808"/><circle cx="457.38" cy="239.04" r="1.1" fill="#f04434"/><circle cx="450.82" cy="247.40" r="1.3" fill="#6a0808"/><circle cx="453.70" cy="242.82" r="1.1" fill="#6a0808"/><circle cx="440.74" cy="236.38" r="0.7" fill="#c81c1c"/><circle cx="454.41" cy="238.68" r="0.7" fill="#e8302a"/><circle cx="448.67" cy="246.24" r="0.7" fill="#6a0808"/><circle cx="441.01" cy="243.24" r="1.1" fill="#c81c1c"/><circle cx="448.11" cy="236.49" r="0.9" fill="#c81c1c"/><circle cx="447.51" cy="239.76" r="0.7" fill="#c81c1c"/><circle cx="452.61" cy="242.49" r="1.3" fill="#d42420"/><circle cx="447.68" cy="242.55" r="0.9" fill="#e8302a"/><circle cx="438.90" cy="240.27" r="1.3" fill="#f04434"/><circle cx="443.73" cy="235.81" r="1.3" fill="#f04434"/><circle cx="442.36" cy="235.88" r="0.7" fill="#d42420"/><circle cx="453.84" cy="245.96" r="0.9" fill="#c81c1c"/><circle cx="440.47" cy="245.37" r="1.1" fill="#e8302a"/><circle cx="450.42" cy="237.06" r="1.1" fill="#f04434"/><circle cx="448.92" cy="237.93" r="1.1" fill="#c81c1c"/><circle cx="438.24" cy="245.10" r="1.1" fill="#d42420"/><circle cx="453.84" cy="240.56" r="0.7" fill="#c81c1c"/><circle cx="454.24" cy="240.65" r="0.9" fill="#e8302a"/><circle cx="448.06" cy="236.85" r="1.3" fill="#f04434"/></g>
<polygon points="496.20,237.90 514.00,234.40 514.00,269.00 502.50,269.00 498.00,255.80 496.20,246.90" fill="#a01414" opacity="0.55" filter="url(#bl2)"/>
<g opacity="0.85" filter="url(#bl3)"><circle cx="502.50" cy="257.11" r="0.9" fill="#c81c1c"/><circle cx="513.03" cy="268.33" r="1.3" fill="#d42420"/><circle cx="503.97" cy="239.19" r="0.7" fill="#f04434"/><circle cx="509.16" cy="252.78" r="0.7" fill="#e8302a"/><circle cx="510.68" cy="268.07" r="0.7" fill="#d42420"/><circle cx="510.09" cy="241.46" r="0.7" fill="#c81c1c"/><circle cx="502.22" cy="253.76" r="1.3" fill="#d42420"/><circle cx="509.89" cy="265.68" r="0.7" fill="#f04434"/><circle cx="499.84" cy="246.67" r="0.7" fill="#e8302a"/><circle cx="506.72" cy="238.77" r="0.9" fill="#d42420"/><circle cx="504.32" cy="254.66" r="1.3" fill="#e8302a"/><circle cx="506.35" cy="259.28" r="1.3" fill="#f04434"/><circle cx="503.32" cy="257.68" r="0.9" fill="#d42420"/><circle cx="508.52" cy="250.72" r="0.9" fill="#e8302a"/><circle cx="512.38" cy="255.13" r="0.7" fill="#f04434"/><circle cx="510.44" cy="265.17" r="0.7" fill="#d42420"/><circle cx="506.28" cy="260.18" r="0.9" fill="#e8302a"/><circle cx="504.50" cy="248.31" r="0.9" fill="#e8302a"/><circle cx="512.76" cy="256.50" r="1.3" fill="#c81c1c"/><circle cx="504.72" cy="267.49" r="0.7" fill="#f04434"/><circle cx="498.75" cy="252.71" r="1.1" fill="#e8302a"/><circle cx="505.27" cy="267.51" r="1.3" fill="#e8302a"/><circle cx="507.74" cy="237.36" r="0.7" fill="#e8302a"/><circle cx="507.97" cy="255.68" r="1.3" fill="#d42420"/><circle cx="508.14" cy="253.77" r="0.9" fill="#e8302a"/><circle cx="499.54" cy="251.94" r="1.3" fill="#f04434"/><circle cx="498.37" cy="256.89" r="0.9" fill="#d42420"/><circle cx="513.70" cy="255.60" r="0.7" fill="#6a0808"/><circle cx="505.45" cy="257.85" r="0.7" fill="#f04434"/><circle cx="511.33" cy="263.75" r="0.7" fill="#e8302a"/><circle cx="502.74" cy="244.87" r="1.1" fill="#f04434"/><circle cx="505.00" cy="254.34" r="1.1" fill="#f04434"/><circle cx="506.86" cy="252.40" r="1.3" fill="#d42420"/><circle cx="512.64" cy="254.28" r="0.9" fill="#e8302a"/><circle cx="512.45" cy="263.37" r="0.7" fill="#f04434"/><circle cx="511.33" cy="249.30" r="0.7" fill="#f04434"/><circle cx="507.21" cy="244.55" r="1.1" fill="#f04434"/><circle cx="500.70" cy="244.80" r="1.1" fill="#e8302a"/><circle cx="501.97" cy="237.68" r="1.3" fill="#f04434"/><circle cx="513.66" cy="257.03" r="1.3" fill="#6a0808"/><circle cx="511.10" cy="268.80" r="1.1" fill="#c81c1c"/><circle cx="505.77" cy="246.19" r="1.1" fill="#c81c1c"/><circle cx="500.45" cy="246.25" r="0.7" fill="#6a0808"/><circle cx="511.35" cy="249.11" r="1.1" fill="#c81c1c"/><circle cx="497.34" cy="238.62" r="1.3" fill="#f04434"/><circle cx="508.01" cy="242.88" r="1.3" fill="#6a0808"/><circle cx="508.48" cy="267.87" r="0.7" fill="#f04434"/><circle cx="500.08" cy="260.53" r="0.7" fill="#c81c1c"/><circle cx="503.88" cy="238.49" r="0.9" fill="#6a0808"/><circle cx="504.00" cy="258.17" r="1.1" fill="#d42420"/><circle cx="500.62" cy="243.30" r="0.7" fill="#e8302a"/><circle cx="508.50" cy="241.64" r="1.1" fill="#6a0808"/><circle cx="513.36" cy="256.66" r="0.9" fill="#e8302a"/><circle cx="506.84" cy="258.44" r="1.1" fill="#e8302a"/><circle cx="496.46" cy="246.91" r="0.9" fill="#6a0808"/><circle cx="498.21" cy="251.48" r="1.1" fill="#d42420"/><circle cx="499.37" cy="237.86" r="1.1" fill="#d42420"/><circle cx="503.48" cy="258.26" r="1.3" fill="#e8302a"/><circle cx="511.53" cy="250.34" r="1.1" fill="#f04434"/><circle cx="510.49" cy="257.61" r="1.1" fill="#6a0808"/><circle cx="496.37" cy="240.97" r="0.7" fill="#f04434"/><circle cx="510.13" cy="257.29" r="1.1" fill="#c81c1c"/><circle cx="499.41" cy="239.37" r="0.7" fill="#e8302a"/><circle cx="503.02" cy="256.97" r="0.9" fill="#e8302a"/><circle cx="511.38" cy="238.90" r="1.1" fill="#c81c1c"/><circle cx="505.85" cy="240.50" r="1.1" fill="#c81c1c"/><circle cx="502.79" cy="240.15" r="0.7" fill="#f04434"/><circle cx="512.38" cy="240.14" r="1.3" fill="#e8302a"/><circle cx="500.19" cy="241.11" r="0.9" fill="#d42420"/><circle cx="511.39" cy="242.73" r="1.3" fill="#c81c1c"/><circle cx="511.68" cy="236.15" r="1.3" fill="#c81c1c"/><circle cx="504.00" cy="238.41" r="1.3" fill="#6a0808"/><circle cx="508.87" cy="237.64" r="0.7" fill="#d42420"/><circle cx="504.74" cy="240.41" r="0.9" fill="#d42420"/><circle cx="504.04" cy="238.49" r="0.7" fill="#c81c1c"/><circle cx="502.63" cy="250.63" r="1.1" fill="#6a0808"/><circle cx="504.81" cy="241.87" r="1.3" fill="#e8302a"/><circle cx="497.27" cy="249.34" r="0.7" fill="#f04434"/><circle cx="505.48" cy="252.06" r="1.1" fill="#f04434"/><circle cx="498.01" cy="250.92" r="1.3" fill="#d42420"/><circle cx="510.17" cy="238.96" r="1.3" fill="#c81c1c"/><circle cx="497.94" cy="244.11" r="1.1" fill="#e8302a"/><circle cx="504.77" cy="240.63" r="0.7" fill="#6a0808"/><circle cx="512.27" cy="256.67" r="0.7" fill="#6a0808"/><circle cx="507.74" cy="261.13" r="0.9" fill="#c81c1c"/><circle cx="513.03" cy="260.02" r="1.1" fill="#f04434"/><circle cx="504.36" cy="259.44" r="1.3" fill="#f04434"/><circle cx="511.33" cy="244.27" r="0.9" fill="#f04434"/><circle cx="501.62" cy="245.27" r="0.9" fill="#e8302a"/><circle cx="503.36" cy="257.90" r="0.7" fill="#c81c1c"/><circle cx="513.08" cy="242.47" r="1.3" fill="#c81c1c"/><circle cx="505.31" cy="267.21" r="1.3" fill="#f04434"/><circle cx="507.26" cy="241.89" r="1.3" fill="#f04434"/><circle cx="501.72" cy="261.54" r="1.1" fill="#f04434"/><circle cx="513.55" cy="260.55" r="0.7" fill="#d42420"/><circle cx="499.36" cy="248.69" r="0.7" fill="#6a0808"/><circle cx="502.86" cy="240.01" r="0.7" fill="#f04434"/><circle cx="507.01" cy="243.32" r="1.3" fill="#d42420"/><circle cx="506.20" cy="259.03" r="0.9" fill="#c81c1c"/><circle cx="500.48" cy="238.57" r="1.3" fill="#f04434"/><circle cx="512.40" cy="268.95" r="0.9" fill="#6a0808"/><circle cx="501.92" cy="260.46" r="0.9" fill="#f04434"/><circle cx="503.73" cy="237.18" r="1.3" fill="#d42420"/><circle cx="500.71" cy="254.13" r="0.9" fill="#f04434"/><circle cx="513.23" cy="243.71" r="1.3" fill="#e8302a"/><circle cx="501.36" cy="244.40" r="0.9" fill="#f04434"/><circle cx="503.68" cy="252.72" r="1.1" fill="#6a0808"/><circle cx="506.58" cy="249.84" r="1.3" fill="#6a0808"/><circle cx="506.64" cy="262.12" r="0.9" fill="#d42420"/><circle cx="506.35" cy="240.68" r="1.1" fill="#f04434"/><circle cx="503.53" cy="267.49" r="1.1" fill="#e8302a"/><circle cx="508.68" cy="236.37" r="1.3" fill="#f04434"/><circle cx="508.16" cy="262.07" r="0.7" fill="#d42420"/><circle cx="504.66" cy="257.86" r="0.9" fill="#d42420"/><circle cx="513.26" cy="261.58" r="0.9" fill="#d42420"/><circle cx="505.86" cy="248.28" r="0.9" fill="#f04434"/><circle cx="502.80" cy="258.90" r="1.3" fill="#d42420"/><circle cx="509.85" cy="238.81" r="0.9" fill="#f04434"/><circle cx="511.84" cy="238.31" r="0.9" fill="#d42420"/><circle cx="507.16" cy="256.76" r="1.3" fill="#6a0808"/><circle cx="504.28" cy="245.89" r="1.1" fill="#c81c1c"/><circle cx="508.74" cy="249.53" r="0.9" fill="#d42420"/><circle cx="508.54" cy="257.81" r="0.9" fill="#d42420"/><circle cx="502.78" cy="267.70" r="1.1" fill="#6a0808"/><circle cx="507.63" cy="256.36" r="0.9" fill="#c81c1c"/><circle cx="509.84" cy="244.81" r="1.1" fill="#f04434"/><circle cx="510.82" cy="255.20" r="0.7" fill="#f04434"/><circle cx="512.17" cy="255.00" r="1.3" fill="#6a0808"/><circle cx="496.28" cy="240.39" r="0.9" fill="#e8302a"/><circle cx="499.29" cy="240.44" r="0.9" fill="#e8302a"/><circle cx="497.78" cy="241.26" r="1.3" fill="#c81c1c"/><circle cx="497.51" cy="246.47" r="1.1" fill="#d42420"/><circle cx="509.51" cy="264.67" r="1.1" fill="#e8302a"/><circle cx="512.70" cy="243.53" r="1.1" fill="#e8302a"/><circle cx="513.53" cy="238.96" r="1.1" fill="#c81c1c"/><circle cx="505.13" cy="239.28" r="0.7" fill="#f04434"/><circle cx="511.13" cy="249.03" r="1.1" fill="#e8302a"/><circle cx="500.28" cy="261.98" r="1.3" fill="#e8302a"/><circle cx="497.37" cy="239.67" r="1.3" fill="#d42420"/><circle cx="510.28" cy="242.40" r="0.7" fill="#d42420"/><circle cx="506.26" cy="239.18" r="0.9" fill="#6a0808"/><circle cx="504.34" cy="260.38" r="1.3" fill="#6a0808"/><circle cx="505.69" cy="259.47" r="0.7" fill="#f04434"/><circle cx="509.09" cy="242.05" r="1.1" fill="#f04434"/><circle cx="507.59" cy="258.32" r="0.9" fill="#f04434"/><circle cx="499.84" cy="245.17" r="1.1" fill="#f04434"/><circle cx="499.00" cy="242.23" r="1.1" fill="#c81c1c"/></g>
<polygon points="482.00,300.00 496.00,300.00 496.00,309.00 482.00,309.00" fill="#a01414" opacity="0.55" filter="url(#bl2)"/>
<g opacity="0.85" filter="url(#bl3)"><circle cx="487.55" cy="304.71" r="1.1" fill="#e8302a"/><circle cx="492.84" cy="302.84" r="1.1" fill="#e8302a"/><circle cx="486.55" cy="302.13" r="0.9" fill="#f04434"/><circle cx="488.46" cy="301.78" r="0.7" fill="#6a0808"/><circle cx="492.06" cy="307.83" r="1.3" fill="#6a0808"/><circle cx="486.35" cy="300.67" r="0.7" fill="#6a0808"/><circle cx="487.42" cy="304.35" r="1.1" fill="#6a0808"/><circle cx="485.11" cy="302.86" r="1.3" fill="#d42420"/><circle cx="492.78" cy="303.35" r="1.3" fill="#c81c1c"/><circle cx="490.66" cy="300.94" r="1.3" fill="#e8302a"/><circle cx="490.92" cy="302.51" r="0.7" fill="#6a0808"/><circle cx="483.81" cy="304.19" r="0.7" fill="#c81c1c"/><circle cx="491.21" cy="307.67" r="1.1" fill="#d42420"/><circle cx="489.28" cy="301.30" r="0.7" fill="#e8302a"/><circle cx="482.45" cy="308.19" r="0.9" fill="#6a0808"/><circle cx="483.49" cy="300.64" r="0.9" fill="#6a0808"/><circle cx="490.45" cy="303.66" r="0.9" fill="#f04434"/><circle cx="487.42" cy="307.26" r="1.1" fill="#c81c1c"/><circle cx="483.73" cy="302.19" r="0.7" fill="#e8302a"/><circle cx="485.63" cy="306.67" r="1.3" fill="#d42420"/><circle cx="485.17" cy="301.66" r="1.1" fill="#d42420"/><circle cx="487.50" cy="301.82" r="0.9" fill="#f04434"/><circle cx="494.82" cy="304.42" r="1.1" fill="#f04434"/><circle cx="482.39" cy="304.62" r="0.9" fill="#6a0808"/><circle cx="486.50" cy="301.56" r="1.1" fill="#f04434"/><circle cx="491.24" cy="300.51" r="0.7" fill="#f04434"/><circle cx="490.05" cy="300.09" r="1.1" fill="#6a0808"/><circle cx="482.55" cy="300.34" r="1.1" fill="#f04434"/><circle cx="493.88" cy="307.37" r="1.1" fill="#c81c1c"/><circle cx="486.22" cy="305.56" r="1.3" fill="#d42420"/><circle cx="485.98" cy="308.48" r="0.7" fill="#d42420"/><circle cx="492.59" cy="306.93" r="0.9" fill="#e8302a"/><circle cx="495.87" cy="306.55" r="0.9" fill="#c81c1c"/><circle cx="485.55" cy="305.90" r="1.3" fill="#d42420"/><circle cx="493.76" cy="301.20" r="1.1" fill="#e8302a"/><circle cx="486.83" cy="307.59" r="1.1" fill="#f04434"/></g>
<polyline points="463.50,237.90 460.80,237.90 463.50,232.60 465.30,230.80" fill="none" stroke="#8a0c10" stroke-width="3.80" stroke-linejoin="round" stroke-linecap="round" opacity="0.8" filter="url(#bl2)"/>
<polyline points="463.50,237.90 460.80,237.90 463.50,232.60 465.30,230.80" fill="none" stroke="#e42a22" stroke-width="2.00" stroke-linejoin="round" stroke-linecap="round" filter="url(#bl3)"/>
<polyline points="459.00,239.70 463.50,237.90 464.40,246.90 467.00,252.20 468.80,257.60 470.60,264.70 472.50,270.00 474.00,276.90 472.40,284.10 469.70,289.40 465.30,293.90 459.00,297.50 451.90,300.10 450.50,303.70 451.90,309.00" fill="none" stroke="#8a0c10" stroke-width="4.20" stroke-linejoin="round" stroke-linecap="round" opacity="0.8" filter="url(#bl2)"/>
<polyline points="459.00,239.70 463.50,237.90 464.40,246.90 467.00,252.20 468.80,257.60 470.60,264.70 472.50,270.00 474.00,276.90 472.40,284.10 469.70,289.40 465.30,293.90 459.00,297.50 451.90,300.10 450.50,303.70 451.90,309.00" fill="none" stroke="#e42a22" stroke-width="2.40" stroke-linejoin="round" stroke-linecap="round" filter="url(#bl3)"/>
<polyline points="435.80,260.25 441.10,260.25 445.60,261.10 451.90,262.90" fill="none" stroke="#8a0c10" stroke-width="3.10" stroke-linejoin="round" stroke-linecap="round" opacity="0.8" filter="url(#bl2)"/>
<polyline points="435.80,260.25 441.10,260.25 445.60,261.10 451.90,262.90" fill="none" stroke="#e42a22" stroke-width="1.30" stroke-linejoin="round" stroke-linecap="round" filter="url(#bl3)"/>
<polyline points="435.80,280.50 439.40,276.90 442.90,274.25 447.40,272.90 451.00,274.25" fill="none" stroke="#8a0c10" stroke-width="3.20" stroke-linejoin="round" stroke-linecap="round" opacity="0.8" filter="url(#bl2)"/>
<polyline points="435.80,280.50 439.40,276.90 442.90,274.25 447.40,272.90 451.00,274.25" fill="none" stroke="#e42a22" stroke-width="1.40" stroke-linejoin="round" stroke-linecap="round" filter="url(#bl3)"/>
<polyline points="435.80,290.30 441.10,293.90 448.30,297.50 451.90,299.25" fill="none" stroke="#8a0c10" stroke-width="2.60" stroke-linejoin="round" stroke-linecap="round" opacity="0.8" filter="url(#bl2)"/>
<polyline points="435.80,290.30 441.10,293.90 448.30,297.50 451.90,299.25" fill="none" stroke="#e42a22" stroke-width="0.80" stroke-linejoin="round" stroke-linecap="round" filter="url(#bl3)"/>
<polyline points="472.00,266.00 478.40,258.50 482.80,251.30 486.40,244.20 490.90,237.00 494.40,233.50 499.80,232.60 506.90,232.60 514.00,234.40" fill="none" stroke="#8a0c10" stroke-width="5.40" stroke-linejoin="round" stroke-linecap="round" opacity="0.8" filter="url(#bl2)"/>
<polyline points="472.00,266.00 478.40,258.50 482.80,251.30 486.40,244.20 490.90,237.00 494.40,233.50 499.80,232.60 506.90,232.60 514.00,234.40" fill="none" stroke="#e42a22" stroke-width="3.60" stroke-linejoin="round" stroke-linecap="round" filter="url(#bl3)"/>
<polyline points="472.00,266.00 480.10,268.00 484.60,272.50 490.90,276.00 498.00,278.70 503.40,279.60 508.70,283.20 514.00,287.00" fill="none" stroke="#8a0c10" stroke-width="4.20" stroke-linejoin="round" stroke-linecap="round" opacity="0.8" filter="url(#bl2)"/>
<polyline points="472.00,266.00 480.10,268.00 484.60,272.50 490.90,276.00 498.00,278.70 503.40,279.60 508.70,283.20 514.00,287.00" fill="none" stroke="#e42a22" stroke-width="2.40" stroke-linejoin="round" stroke-linecap="round" filter="url(#bl3)"/>
<polyline points="503.00,268.00 504.30,273.40 503.40,279.60" fill="none" stroke="#8a0c10" stroke-width="4.20" stroke-linejoin="round" stroke-linecap="round" opacity="0.8" filter="url(#bl2)"/>
<polyline points="503.00,268.00 504.30,273.40 503.40,279.60" fill="none" stroke="#e42a22" stroke-width="2.40" stroke-linejoin="round" stroke-linecap="round" filter="url(#bl3)"/>
<polyline points="503.40,279.60 499.80,285.00 497.10,291.20 494.40,297.50 493.50,303.70 492.60,309.00" fill="none" stroke="#8a0c10" stroke-width="4.10" stroke-linejoin="round" stroke-linecap="round" opacity="0.8" filter="url(#bl2)"/>
<polyline points="503.40,279.60 499.80,285.00 497.10,291.20 494.40,297.50 493.50,303.70 492.60,309.00" fill="none" stroke="#e42a22" stroke-width="2.30" stroke-linejoin="round" stroke-linecap="round" filter="url(#bl3)"/>
<polyline points="472.40,284.10 477.50,293.00 481.90,297.50 486.40,301.90 490.90,303.70 494.40,302.80" fill="none" stroke="#8a0c10" stroke-width="4.10" stroke-linejoin="round" stroke-linecap="round" opacity="0.8" filter="url(#bl2)"/>
<polyline points="472.40,284.10 477.50,293.00 481.90,297.50 486.40,301.90 490.90,303.70 494.40,302.80" fill="none" stroke="#e42a22" stroke-width="2.30" stroke-linejoin="round" stroke-linecap="round" filter="url(#bl3)"/>
</g>
<circle cx="499.22" cy="256.23" r="0.45" fill="#3a7a20"/>
<circle cx="494.48" cy="237.40" r="0.45" fill="#5a9a30"/>
<circle cx="494.31" cy="252.26" r="0.65" fill="#70b040"/>
<circle cx="491.23" cy="246.14" r="0.50" fill="#88c050"/>
<circle cx="492.63" cy="239.86" r="0.45" fill="#70b040"/>
<circle cx="499.72" cy="252.22" r="0.65" fill="#a8d870"/>
<circle cx="487.74" cy="235.73" r="0.65" fill="#4a8a28"/>
<circle cx="481.66" cy="252.22" r="0.50" fill="#5a9a30"/>
<circle cx="486.89" cy="238.14" r="0.45" fill="#5a9a30"/>
<circle cx="485.05" cy="239.17" r="0.45" fill="#4a8a28"/>
<circle cx="484.16" cy="245.40" r="0.45" fill="#70b040"/>
<circle cx="497.29" cy="254.16" r="0.55" fill="#70b040"/>
<circle cx="505.50" cy="251.90" r="0.65" fill="#4a8a28"/>
<circle cx="497.07" cy="236.48" r="0.55" fill="#70b040"/>
<circle cx="485.69" cy="249.35" r="0.45" fill="#3a7a20"/>
<circle cx="498.91" cy="239.77" r="0.65" fill="#88c050"/>
<circle cx="487.23" cy="257.15" r="0.55" fill="#3a7a20"/>
<circle cx="507.47" cy="244.35" r="0.55" fill="#5a9a30"/>
<circle cx="499.67" cy="256.27" r="0.45" fill="#70b040"/>
<circle cx="495.67" cy="243.46" r="0.65" fill="#a8d870"/>
<circle cx="491.66" cy="245.18" r="0.45" fill="#4a8a28"/>
<circle cx="501.79" cy="246.22" r="0.45" fill="#88c050"/>
<circle cx="498.61" cy="233.97" r="0.65" fill="#3a7a20"/>
<circle cx="485.82" cy="239.11" r="0.45" fill="#a8d870"/>
<circle cx="497.97" cy="256.32" r="0.50" fill="#88c050"/>
<circle cx="500.34" cy="249.29" r="0.65" fill="#5a9a30"/>
<circle cx="497.29" cy="233.72" r="0.45" fill="#a8d870"/>
<circle cx="485.39" cy="254.65" r="0.55" fill="#4a8a28"/>
<circle cx="499.35" cy="241.75" r="0.55" fill="#5a9a30"/>
<circle cx="506.64" cy="247.25" r="0.45" fill="#3a7a20"/>
<circle cx="483.73" cy="246.13" r="0.65" fill="#5a9a30"/>
<circle cx="481.69" cy="240.32" r="0.45" fill="#88c050"/>
<circle cx="504.67" cy="246.72" r="0.50" fill="#3a7a20"/>
<circle cx="485.10" cy="247.28" r="0.45" fill="#5a9a30"/>
<circle cx="490.58" cy="241.28" r="0.45" fill="#70b040"/>
<circle cx="493.65" cy="246.56" r="0.45" fill="#a8d870"/>
<circle cx="509.40" cy="244.99" r="0.45" fill="#70b040"/>
<circle cx="496.43" cy="247.26" r="0.50" fill="#a8d870"/>
<circle cx="482.18" cy="249.41" r="0.55" fill="#5a9a30"/>
<circle cx="496.98" cy="235.14" r="0.45" fill="#70b040"/>
<circle cx="491.88" cy="255.35" r="0.65" fill="#88c050"/>
<circle cx="487.87" cy="235.27" r="0.45" fill="#5a9a30"/>
<circle cx="496.89" cy="246.11" r="0.45" fill="#a8d870"/>
<circle cx="488.32" cy="250.67" r="0.50" fill="#3a7a20"/>
<circle cx="508.75" cy="242.88" r="0.45" fill="#3a7a20"/>
<circle cx="488.85" cy="257.58" r="0.65" fill="#a8d870"/>
<circle cx="488.75" cy="247.00" r="0.55" fill="#5a9a30"/>
<circle cx="501.05" cy="244.50" r="0.65" fill="#88c050"/>
<circle cx="484.58" cy="253.58" r="0.55" fill="#4a8a28"/>
<circle cx="493.99" cy="249.09" r="0.55" fill="#a8d870"/>
<circle cx="504.07" cy="237.91" r="0.50" fill="#5a9a30"/>
<circle cx="488.03" cy="241.71" r="0.50" fill="#88c050"/>
<circle cx="485.78" cy="253.53" r="0.50" fill="#3a7a20"/>
<circle cx="497.93" cy="239.53" r="0.55" fill="#5a9a30"/>
<circle cx="494.17" cy="254.42" r="0.45" fill="#3a7a20"/>
<circle cx="452.07" cy="283.37" r="0.50" fill="#3a7a20"/>
<circle cx="451.57" cy="286.93" r="0.65" fill="#3a7a20"/>
<circle cx="451.27" cy="282.56" r="0.65" fill="#3a7a20"/>
<circle cx="454.37" cy="278.22" r="0.50" fill="#a8d870"/>
<circle cx="452.09" cy="282.45" r="0.65" fill="#88c050"/>
<circle cx="450.41" cy="274.96" r="0.45" fill="#3a7a20"/>
<circle cx="454.82" cy="276.74" r="0.55" fill="#5a9a30"/>
<circle cx="453.70" cy="277.89" r="0.55" fill="#3a7a20"/>
<circle cx="458.64" cy="277.90" r="0.50" fill="#88c050"/>
<circle cx="454.70" cy="283.64" r="0.55" fill="#70b040"/>
<circle cx="447.91" cy="284.71" r="0.50" fill="#88c050"/>
<circle cx="453.23" cy="287.24" r="0.55" fill="#88c050"/>
<circle cx="457.23" cy="278.05" r="0.45" fill="#88c050"/>
<circle cx="457.47" cy="285.17" r="0.55" fill="#4a8a28"/>
<circle cx="451.52" cy="280.89" r="0.50" fill="#5a9a30"/>
<circle cx="462.66" cy="280.64" r="0.50" fill="#88c050"/>
<circle cx="452.33" cy="286.72" r="0.45" fill="#88c050"/>
<circle cx="461.60" cy="279.12" r="0.50" fill="#3a7a20"/>
<circle cx="452.95" cy="282.26" r="0.50" fill="#70b040"/>
<circle cx="451.76" cy="281.75" r="0.55" fill="#5a9a30"/>
<circle cx="457.84" cy="277.80" r="0.65" fill="#5a9a30"/>
<circle cx="460.72" cy="278.43" r="0.55" fill="#5a9a30"/>
<circle cx="450.90" cy="283.85" r="0.65" fill="#5a9a30"/>
<circle cx="456.94" cy="286.46" r="0.50" fill="#4a8a28"/>
<circle cx="457.89" cy="280.84" r="0.55" fill="#5a9a30"/>
<circle cx="485.77" cy="280.43" r="0.45" fill="#3a7a20"/>
<circle cx="484.88" cy="279.80" r="0.65" fill="#3a7a20"/>
<circle cx="486.79" cy="281.85" r="0.50" fill="#5a9a30"/>
<circle cx="482.11" cy="277.82" r="0.65" fill="#3a7a20"/>
<circle cx="484.13" cy="278.89" r="0.55" fill="#4a8a28"/>
<circle cx="483.88" cy="283.29" r="0.65" fill="#88c050"/>
<circle cx="485.86" cy="283.77" r="0.45" fill="#70b040"/>
<circle cx="476.70" cy="282.24" r="0.50" fill="#5a9a30"/>
<circle cx="487.29" cy="279.66" r="0.55" fill="#3a7a20"/>
<circle cx="486.23" cy="279.44" r="0.45" fill="#88c050"/>
<circle cx="488.33" cy="279.19" r="0.45" fill="#5a9a30"/>
<circle cx="479.66" cy="282.12" r="0.65" fill="#70b040"/>
<circle cx="487.53" cy="283.61" r="0.50" fill="#4a8a28"/>
<circle cx="483.71" cy="278.25" r="0.50" fill="#88c050"/>
<circle cx="481.20" cy="281.94" r="0.65" fill="#88c050"/>
<circle cx="484.03" cy="282.04" r="0.55" fill="#3a7a20"/>
<circle cx="482.38" cy="283.30" r="0.45" fill="#88c050"/>
<circle cx="480.93" cy="286.62" r="0.50" fill="#5a9a30"/>
<circle cx="485.84" cy="280.79" r="0.50" fill="#a8d870"/>
<circle cx="477.37" cy="278.82" r="0.55" fill="#5a9a30"/>
<circle cx="506.20" cy="298.88" r="0.55" fill="#88c050"/>
<circle cx="512.25" cy="303.94" r="0.65" fill="#5a9a30"/>
<circle cx="504.49" cy="308.77" r="0.55" fill="#5a9a30"/>
<circle cx="509.20" cy="307.28" r="0.55" fill="#88c050"/>
<circle cx="501.68" cy="303.77" r="0.55" fill="#3a7a20"/>
<circle cx="507.68" cy="307.16" r="0.50" fill="#88c050"/>
<circle cx="505.54" cy="306.18" r="0.50" fill="#70b040"/>
<circle cx="505.31" cy="301.76" r="0.45" fill="#5a9a30"/>
<circle cx="510.27" cy="301.15" r="0.50" fill="#4a8a28"/>
<circle cx="507.39" cy="307.92" r="0.50" fill="#a8d870"/>
<circle cx="503.46" cy="302.84" r="0.65" fill="#5a9a30"/>
<circle cx="509.37" cy="299.82" r="0.55" fill="#3a7a20"/>
<circle cx="449.78" cy="251.05" r="0.45" fill="#88c050"/>
<circle cx="453.47" cy="249.24" r="0.50" fill="#88c050"/>
<circle cx="451.93" cy="248.03" r="0.55" fill="#70b040"/>
<circle cx="453.12" cy="249.50" r="0.45" fill="#3a7a20"/>
<circle cx="467.34" cy="267.92" r="0.45" fill="#3a7a20"/>
<circle cx="476.78" cy="266.54" r="0.65" fill="#4a8a28"/>
<circle cx="465.44" cy="258.59" r="0.45" fill="#4a8a28"/>
<circle cx="477.26" cy="260.44" r="0.45" fill="#3a7a20"/>
<circle cx="466.39" cy="260.91" r="0.50" fill="#5a9a30"/>
<circle cx="475.61" cy="261.25" r="0.50" fill="#70b040"/>
<circle cx="475.12" cy="264.35" r="0.45" fill="#5a9a30"/>
<circle cx="477.36" cy="265.72" r="0.55" fill="#70b040"/>
<circle cx="436.36" cy="277.33" r="0.60" fill="#3d5226"/>
<circle cx="475.26" cy="285.31" r="0.60" fill="#1f2e14"/>
<circle cx="501.95" cy="286.43" r="0.60" fill="#1f2e14"/>
<circle cx="444.47" cy="269.15" r="0.60" fill="#3d5226"/>
<circle cx="443.47" cy="240.40" r="0.45" fill="#2a3a1c"/>
<circle cx="501.30" cy="242.38" r="0.60" fill="#3d5226"/>
<circle cx="492.49" cy="243.70" r="0.60" fill="#1f2e14"/>
<circle cx="488.43" cy="277.15" r="0.45" fill="#3d5226"/>
<circle cx="465.46" cy="303.76" r="0.60" fill="#334422"/>
<circle cx="465.85" cy="295.82" r="0.60" fill="#1a2412"/>
<circle cx="497.76" cy="296.52" r="0.60" fill="#1f2e14"/>
<circle cx="474.84" cy="305.04" r="0.45" fill="#334422"/>
<circle cx="502.03" cy="282.26" r="0.60" fill="#1f2e14"/>
<circle cx="443.39" cy="245.49" r="0.60" fill="#334422"/>
<circle cx="450.46" cy="282.72" r="0.45" fill="#2a3a1c"/>
<circle cx="467.40" cy="261.69" r="0.45" fill="#1a2412"/>
<circle cx="497.31" cy="299.36" r="0.45" fill="#1f2e14"/>
<circle cx="501.65" cy="279.00" r="0.60" fill="#3d5226"/>
<circle cx="483.38" cy="293.33" r="0.45" fill="#1f2e14"/>
<circle cx="454.29" cy="271.22" r="0.45" fill="#1a2412"/>
<circle cx="508.22" cy="253.23" r="0.60" fill="#334422"/>
<circle cx="484.86" cy="240.31" r="0.60" fill="#3d5226"/>
<circle cx="441.50" cy="276.63" r="0.60" fill="#2a3a1c"/>
<circle cx="444.54" cy="241.15" r="0.60" fill="#334422"/>
<circle cx="479.46" cy="252.19" r="0.60" fill="#1f2e14"/>
<circle cx="499.66" cy="278.15" r="0.45" fill="#3d5226"/>
<circle cx="485.08" cy="246.55" r="0.60" fill="#334422"/>
<circle cx="503.67" cy="254.48" r="0.60" fill="#1a2412"/>
<circle cx="498.05" cy="233.39" r="0.45" fill="#334422"/>
<circle cx="449.54" cy="273.20" r="0.60" fill="#3d5226"/>
<circle cx="435.91" cy="258.26" r="0.60" fill="#2a3a1c"/>
<circle cx="477.86" cy="268.99" r="0.45" fill="#334422"/>
<circle cx="457.75" cy="290.69" r="0.45" fill="#2a3a1c"/>
<circle cx="481.66" cy="257.90" r="0.60" fill="#1f2e14"/>
<circle cx="499.24" cy="258.37" r="0.45" fill="#1f2e14"/>
<circle cx="511.18" cy="283.38" r="0.60" fill="#2a3a1c"/>
<circle cx="460.95" cy="258.24" r="0.60" fill="#2a3a1c"/>
<circle cx="498.23" cy="271.02" r="0.60" fill="#1a2412"/>
<circle cx="495.44" cy="285.77" r="0.60" fill="#2a3a1c"/>
<circle cx="502.05" cy="231.33" r="0.45" fill="#3d5226"/>
<circle cx="473.34" cy="305.42" r="0.45" fill="#3d5226"/>
<circle cx="467.18" cy="291.58" r="0.45" fill="#3d5226"/>
<circle cx="464.23" cy="265.96" r="0.60" fill="#1a2412"/>
<circle cx="490.68" cy="253.64" r="0.60" fill="#1a2412"/>
<circle cx="484.91" cy="231.52" r="0.60" fill="#1a2412"/>
<circle cx="469.19" cy="245.24" r="0.45" fill="#334422"/>
<circle cx="468.54" cy="260.14" r="0.45" fill="#2a3a1c"/>
<circle cx="498.27" cy="256.52" r="0.45" fill="#3d5226"/>
<circle cx="508.82" cy="246.79" r="0.45" fill="#1a2412"/>
<circle cx="436.97" cy="250.83" r="0.60" fill="#1a2412"/>
<circle cx="505.86" cy="290.79" r="0.60" fill="#3d5226"/>
<circle cx="474.84" cy="270.98" r="0.60" fill="#1a2412"/>
<circle cx="470.75" cy="234.15" r="0.60" fill="#334422"/>
<circle cx="507.99" cy="283.29" r="0.45" fill="#3d5226"/>
<circle cx="442.62" cy="259.94" r="0.45" fill="#1a2412"/>
<circle cx="502.75" cy="305.55" r="0.60" fill="#1a2412"/>
<circle cx="468.89" cy="279.28" r="0.60" fill="#3d5226"/>
<circle cx="488.25" cy="288.70" r="0.45" fill="#1f2e14"/>
<circle cx="462.93" cy="259.34" r="0.60" fill="#1f2e14"/>
<circle cx="474.47" cy="239.54" r="0.60" fill="#334422"/>
<circle cx="498.18" cy="307.55" r="0.45" fill="#1a2412"/>
<circle cx="475.35" cy="294.09" r="0.45" fill="#2a3a1c"/>
<circle cx="466.74" cy="235.65" r="0.45" fill="#3d5226"/>
<circle cx="462.20" cy="307.82" r="0.60" fill="#1f2e14"/>
<circle cx="435.83" cy="231.21" r="0.45" fill="#3d5226"/>
<circle cx="505.61" cy="261.73" r="0.45" fill="#1f2e14"/>
<circle cx="486.44" cy="246.20" r="0.60" fill="#1a2412"/>
<circle cx="502.08" cy="300.23" r="0.45" fill="#3d5226"/>
<circle cx="479.23" cy="262.78" r="0.45" fill="#1f2e14"/>
<circle cx="447.07" cy="289.71" r="0.45" fill="#1f2e14"/>
<circle cx="442.71" cy="244.18" r="0.60" fill="#3d5226"/>
<circle cx="498.38" cy="278.39" r="0.45" fill="#1f2e14"/>
<circle cx="487.71" cy="275.74" r="0.45" fill="#2a3a1c"/>
<circle cx="462.25" cy="244.10" r="0.45" fill="#334422"/>
<circle cx="501.17" cy="304.26" r="0.60" fill="#1f2e14"/>
<circle cx="449.76" cy="279.24" r="0.45" fill="#1f2e14"/>
<circle cx="451.94" cy="261.61" r="0.60" fill="#1f2e14"/>
<circle cx="439.20" cy="249.42" r="0.45" fill="#2a3a1c"/>
<circle cx="447.27" cy="276.37" r="0.60" fill="#2a3a1c"/>
<circle cx="435.47" cy="298.02" r="0.60" fill="#1a2412"/>
<circle cx="467.21" cy="250.48" r="0.45" fill="#1a2412"/>
<circle cx="453.71" cy="261.13" r="0.45" fill="#3d5226"/>
<circle cx="466.84" cy="261.81" r="0.45" fill="#1a2412"/>
<circle cx="496.04" cy="249.81" r="0.45" fill="#2a3a1c"/>
<circle cx="462.60" cy="245.42" r="0.60" fill="#334422"/>
<circle cx="478.24" cy="239.88" r="0.60" fill="#3d5226"/>
<circle cx="460.86" cy="281.34" r="0.60" fill="#1f2e14"/>
<circle cx="498.59" cy="258.15" r="0.60" fill="#2a3a1c"/>
<circle cx="449.72" cy="252.92" r="0.60" fill="#2a3a1c"/>
<circle cx="437.69" cy="282.35" r="0.45" fill="#334422"/>
<circle cx="453.62" cy="241.04" r="0.60" fill="#2a3a1c"/>
<circle cx="476.95" cy="291.87" r="0.60" fill="#3d5226"/>
<circle cx="470.96" cy="292.45" r="0.45" fill="#2a3a1c"/>
<circle cx="463.33" cy="247.73" r="0.60" fill="#1a2412"/>
<circle cx="483.46" cy="275.89" r="0.60" fill="#334422"/>
<circle cx="473.87" cy="248.57" r="0.45" fill="#1a2412"/>
<circle cx="507.54" cy="308.14" r="0.60" fill="#3d5226"/>
<circle cx="480.24" cy="259.45" r="0.60" fill="#2a3a1c"/>
<circle cx="481.83" cy="247.43" r="0.45" fill="#1f2e14"/>
<circle cx="476.78" cy="251.90" r="0.45" fill="#1a2412"/>
<circle cx="485.63" cy="274.88" r="0.45" fill="#334422"/>
<circle cx="465.02" cy="237.65" r="0.45" fill="#2a3a1c"/>
<circle cx="459.72" cy="282.23" r="0.45" fill="#1f2e14"/>
<circle cx="478.27" cy="258.94" r="0.60" fill="#3d5226"/>
<circle cx="449.85" cy="286.56" r="0.45" fill="#1f2e14"/>
<circle cx="457.22" cy="294.14" r="0.60" fill="#1a2412"/>
<circle cx="462.40" cy="296.27" r="0.45" fill="#1a2412"/>
<circle cx="507.13" cy="244.64" r="0.60" fill="#334422"/>
<circle cx="504.06" cy="232.95" r="0.45" fill="#1a2412"/>
<circle cx="512.00" cy="261.96" r="0.45" fill="#1f2e14"/>
</g>
<rect x="278.00" y="311.00" width="77.00" height="76.70" fill="#000000"/>
<g clip-path="url(#c31)">
<ellipse cx="294.00" cy="332.00" rx="7.20" ry="7.20" fill="#3a6a18" opacity="0.15" filter="url(#bl2)"/>
<ellipse cx="324.00" cy="336.00" rx="6.00" ry="8.40" fill="#3a6a18" opacity="0.15" filter="url(#bl2)"/>
<ellipse cx="311.00" cy="353.00" rx="7.20" ry="4.80" fill="#3a6a18" opacity="0.15" filter="url(#bl2)"/>
<ellipse cx="332.00" cy="362.00" rx="6.00" ry="4.80" fill="#3a6a18" opacity="0.15" filter="url(#bl2)"/>
<ellipse cx="292.00" cy="382.00" rx="7.20" ry="4.80" fill="#3a6a18" opacity="0.15" filter="url(#bl2)"/>
<circle cx="298.75" cy="326.04" r="0.45" fill="#a8d870"/>
<circle cx="295.94" cy="325.11" r="0.55" fill="#88c050"/>
<circle cx="288.79" cy="332.99" r="0.50" fill="#a8d870"/>
<circle cx="293.40" cy="327.35" r="0.45" fill="#5a9a30"/>
<circle cx="299.41" cy="336.97" r="0.50" fill="#5a9a30"/>
<circle cx="289.81" cy="336.46" r="0.45" fill="#88c050"/>
<circle cx="295.69" cy="337.03" r="0.55" fill="#88c050"/>
<circle cx="296.46" cy="324.79" r="0.65" fill="#4a8a28"/>
<circle cx="292.09" cy="336.16" r="0.55" fill="#4a8a28"/>
<circle cx="291.73" cy="330.87" r="0.45" fill="#3a7a20"/>
<circle cx="288.99" cy="332.50" r="0.50" fill="#a8d870"/>
<circle cx="295.23" cy="336.53" r="0.45" fill="#4a8a28"/>
<circle cx="290.69" cy="327.14" r="0.65" fill="#88c050"/>
<circle cx="296.79" cy="332.42" r="0.50" fill="#5a9a30"/>
<circle cx="287.01" cy="330.95" r="0.55" fill="#a8d870"/>
<circle cx="299.58" cy="336.14" r="0.45" fill="#3a7a20"/>
<circle cx="295.42" cy="339.19" r="0.65" fill="#a8d870"/>
<circle cx="297.41" cy="337.21" r="0.65" fill="#5a9a30"/>
<circle cx="295.28" cy="336.09" r="0.50" fill="#4a8a28"/>
<circle cx="287.25" cy="332.37" r="0.50" fill="#5a9a30"/>
<circle cx="290.21" cy="329.06" r="0.50" fill="#3a7a20"/>
<circle cx="297.03" cy="338.80" r="0.45" fill="#3a7a20"/>
<circle cx="297.18" cy="328.55" r="0.50" fill="#5a9a30"/>
<circle cx="286.60" cy="331.77" r="0.50" fill="#a8d870"/>
<circle cx="286.48" cy="331.49" r="0.50" fill="#3a7a20"/>
<circle cx="297.84" cy="336.86" r="0.65" fill="#5a9a30"/>
<circle cx="298.24" cy="336.88" r="0.55" fill="#3a7a20"/>
<circle cx="294.37" cy="335.61" r="0.65" fill="#a8d870"/>
<circle cx="300.47" cy="334.29" r="0.50" fill="#4a8a28"/>
<circle cx="293.96" cy="328.20" r="0.50" fill="#4a8a28"/>
<circle cx="290.75" cy="331.66" r="0.50" fill="#3a7a20"/>
<circle cx="296.89" cy="330.01" r="0.45" fill="#3a7a20"/>
<circle cx="293.97" cy="325.42" r="0.50" fill="#a8d870"/>
<circle cx="292.99" cy="339.07" r="0.45" fill="#3a7a20"/>
<circle cx="293.68" cy="332.02" r="0.45" fill="#5a9a30"/>
<circle cx="298.67" cy="328.50" r="0.50" fill="#88c050"/>
<circle cx="292.63" cy="334.92" r="0.55" fill="#70b040"/>
<circle cx="288.44" cy="335.61" r="0.50" fill="#70b040"/>
<circle cx="296.64" cy="336.24" r="0.65" fill="#3a7a20"/>
<circle cx="323.14" cy="339.46" r="0.65" fill="#70b040"/>
<circle cx="326.46" cy="338.04" r="0.45" fill="#4a8a28"/>
<circle cx="321.22" cy="335.89" r="0.65" fill="#88c050"/>
<circle cx="324.59" cy="329.05" r="0.55" fill="#88c050"/>
<circle cx="321.15" cy="336.72" r="0.50" fill="#3a7a20"/>
<circle cx="320.86" cy="336.00" r="0.65" fill="#4a8a28"/>
<circle cx="328.04" cy="334.81" r="0.65" fill="#4a8a28"/>
<circle cx="321.21" cy="342.56" r="0.50" fill="#88c050"/>
<circle cx="318.20" cy="337.80" r="0.45" fill="#3a7a20"/>
<circle cx="329.56" cy="338.08" r="0.55" fill="#88c050"/>
<circle cx="318.52" cy="335.57" r="0.65" fill="#a8d870"/>
<circle cx="328.89" cy="333.88" r="0.45" fill="#70b040"/>
<circle cx="326.35" cy="334.91" r="0.65" fill="#4a8a28"/>
<circle cx="325.27" cy="329.24" r="0.50" fill="#a8d870"/>
<circle cx="320.61" cy="343.47" r="0.65" fill="#3a7a20"/>
<circle cx="321.97" cy="332.05" r="0.45" fill="#70b040"/>
<circle cx="319.65" cy="330.54" r="0.65" fill="#88c050"/>
<circle cx="323.28" cy="342.49" r="0.55" fill="#5a9a30"/>
<circle cx="318.49" cy="333.55" r="0.65" fill="#4a8a28"/>
<circle cx="326.44" cy="339.06" r="0.55" fill="#3a7a20"/>
<circle cx="329.78" cy="336.86" r="0.55" fill="#5a9a30"/>
<circle cx="325.91" cy="329.30" r="0.55" fill="#5a9a30"/>
<circle cx="326.71" cy="332.92" r="0.50" fill="#88c050"/>
<circle cx="327.71" cy="333.92" r="0.50" fill="#5a9a30"/>
<circle cx="325.40" cy="343.56" r="0.50" fill="#70b040"/>
<circle cx="322.86" cy="339.95" r="0.55" fill="#88c050"/>
<circle cx="328.61" cy="342.22" r="0.50" fill="#5a9a30"/>
<circle cx="318.08" cy="333.25" r="0.50" fill="#5a9a30"/>
<circle cx="321.39" cy="337.61" r="0.65" fill="#a8d870"/>
<circle cx="326.55" cy="331.61" r="0.50" fill="#5a9a30"/>
<circle cx="318.73" cy="330.85" r="0.45" fill="#5a9a30"/>
<circle cx="326.15" cy="337.10" r="0.55" fill="#5a9a30"/>
<circle cx="322.66" cy="329.02" r="0.65" fill="#5a9a30"/>
<circle cx="325.45" cy="339.29" r="0.55" fill="#3a7a20"/>
<circle cx="321.00" cy="328.08" r="0.45" fill="#4a8a28"/>
<circle cx="328.25" cy="335.21" r="0.65" fill="#88c050"/>
<circle cx="323.93" cy="340.39" r="0.50" fill="#5a9a30"/>
<circle cx="327.11" cy="343.42" r="0.45" fill="#4a8a28"/>
<circle cx="319.17" cy="338.41" r="0.65" fill="#5a9a30"/>
<circle cx="318.16" cy="333.49" r="0.65" fill="#5a9a30"/>
<circle cx="323.09" cy="336.52" r="0.55" fill="#a8d870"/>
<circle cx="321.51" cy="330.50" r="0.45" fill="#70b040"/>
<circle cx="316.02" cy="351.01" r="0.65" fill="#70b040"/>
<circle cx="313.19" cy="355.87" r="0.45" fill="#a8d870"/>
<circle cx="303.51" cy="352.99" r="0.45" fill="#a8d870"/>
<circle cx="313.62" cy="350.41" r="0.50" fill="#a8d870"/>
<circle cx="304.97" cy="351.11" r="0.55" fill="#88c050"/>
<circle cx="318.38" cy="351.73" r="0.50" fill="#3a7a20"/>
<circle cx="309.06" cy="355.92" r="0.50" fill="#4a8a28"/>
<circle cx="312.81" cy="348.54" r="0.55" fill="#5a9a30"/>
<circle cx="308.18" cy="357.12" r="0.55" fill="#4a8a28"/>
<circle cx="314.93" cy="357.04" r="0.55" fill="#88c050"/>
<circle cx="315.89" cy="348.98" r="0.45" fill="#88c050"/>
<circle cx="315.03" cy="356.65" r="0.65" fill="#3a7a20"/>
<circle cx="315.99" cy="350.81" r="0.45" fill="#88c050"/>
<circle cx="316.87" cy="355.39" r="0.65" fill="#5a9a30"/>
<circle cx="310.56" cy="354.73" r="0.65" fill="#88c050"/>
<circle cx="316.19" cy="349.85" r="0.65" fill="#5a9a30"/>
<circle cx="309.55" cy="351.69" r="0.55" fill="#88c050"/>
<circle cx="312.40" cy="357.10" r="0.55" fill="#4a8a28"/>
<circle cx="312.53" cy="356.56" r="0.65" fill="#3a7a20"/>
<circle cx="311.77" cy="348.70" r="0.55" fill="#a8d870"/>
<circle cx="304.02" cy="354.31" r="0.65" fill="#88c050"/>
<circle cx="312.62" cy="352.71" r="0.55" fill="#70b040"/>
<circle cx="318.32" cy="354.71" r="0.50" fill="#3a7a20"/>
<circle cx="306.71" cy="356.85" r="0.55" fill="#70b040"/>
<circle cx="311.56" cy="352.13" r="0.45" fill="#88c050"/>
<circle cx="317.15" cy="355.49" r="0.50" fill="#5a9a30"/>
<circle cx="305.79" cy="353.79" r="0.45" fill="#a8d870"/>
<circle cx="310.40" cy="349.98" r="0.50" fill="#3a7a20"/>
<circle cx="317.04" cy="351.88" r="0.50" fill="#5a9a30"/>
<circle cx="313.10" cy="350.75" r="0.50" fill="#70b040"/>
<circle cx="334.55" cy="360.64" r="0.55" fill="#70b040"/>
<circle cx="331.90" cy="363.28" r="0.55" fill="#70b040"/>
<circle cx="337.61" cy="361.17" r="0.65" fill="#a8d870"/>
<circle cx="326.12" cy="361.01" r="0.50" fill="#88c050"/>
<circle cx="337.06" cy="364.88" r="0.45" fill="#4a8a28"/>
<circle cx="331.90" cy="359.50" r="0.65" fill="#88c050"/>
<circle cx="334.82" cy="357.43" r="0.50" fill="#4a8a28"/>
<circle cx="329.77" cy="361.77" r="0.65" fill="#4a8a28"/>
<circle cx="336.78" cy="358.82" r="0.65" fill="#88c050"/>
<circle cx="328.64" cy="362.12" r="0.45" fill="#4a8a28"/>
<circle cx="326.65" cy="360.49" r="0.55" fill="#3a7a20"/>
<circle cx="335.21" cy="366.17" r="0.65" fill="#4a8a28"/>
<circle cx="338.24" cy="360.71" r="0.65" fill="#70b040"/>
<circle cx="326.44" cy="359.47" r="0.50" fill="#88c050"/>
<circle cx="331.57" cy="362.81" r="0.65" fill="#70b040"/>
<circle cx="334.47" cy="363.95" r="0.55" fill="#a8d870"/>
<circle cx="326.16" cy="360.05" r="0.55" fill="#a8d870"/>
<circle cx="325.78" cy="362.61" r="0.50" fill="#70b040"/>
<circle cx="328.77" cy="365.11" r="0.55" fill="#4a8a28"/>
<circle cx="335.15" cy="361.51" r="0.45" fill="#3a7a20"/>
<circle cx="329.39" cy="363.14" r="0.50" fill="#5a9a30"/>
<circle cx="326.73" cy="361.60" r="0.45" fill="#70b040"/>
<circle cx="329.49" cy="357.42" r="0.45" fill="#70b040"/>
<circle cx="331.33" cy="367.11" r="0.55" fill="#5a9a30"/>
<circle cx="330.11" cy="365.62" r="0.65" fill="#5a9a30"/>
<circle cx="328.78" cy="365.54" r="0.50" fill="#3a7a20"/>
<circle cx="334.92" cy="362.19" r="0.50" fill="#70b040"/>
<circle cx="337.04" cy="364.99" r="0.55" fill="#4a8a28"/>
<circle cx="330.17" cy="359.13" r="0.45" fill="#a8d870"/>
<circle cx="337.40" cy="363.94" r="0.45" fill="#88c050"/>
<circle cx="352.94" cy="337.77" r="0.50" fill="#3a7a20"/>
<circle cx="344.55" cy="342.59" r="0.45" fill="#5a9a30"/>
<circle cx="356.47" cy="340.85" r="0.65" fill="#3a7a20"/>
<circle cx="352.93" cy="343.82" r="0.50" fill="#3a7a20"/>
<circle cx="346.10" cy="343.87" r="0.50" fill="#4a8a28"/>
<circle cx="351.32" cy="342.30" r="0.45" fill="#5a9a30"/>
<circle cx="352.47" cy="343.34" r="0.45" fill="#3a7a20"/>
<circle cx="346.12" cy="340.07" r="0.45" fill="#3a7a20"/>
<circle cx="349.55" cy="339.12" r="0.50" fill="#70b040"/>
<circle cx="350.44" cy="340.87" r="0.50" fill="#4a8a28"/>
<circle cx="350.88" cy="337.48" r="0.65" fill="#3a7a20"/>
<circle cx="345.95" cy="342.16" r="0.50" fill="#5a9a30"/>
<circle cx="356.40" cy="340.40" r="0.65" fill="#5a9a30"/>
<circle cx="353.17" cy="340.85" r="0.50" fill="#5a9a30"/>
<circle cx="351.06" cy="342.88" r="0.45" fill="#4a8a28"/>
<circle cx="349.03" cy="341.93" r="0.45" fill="#4a8a28"/>
<circle cx="345.98" cy="325.71" r="0.50" fill="#70b040"/>
<circle cx="352.61" cy="328.26" r="0.65" fill="#5a9a30"/>
<circle cx="354.59" cy="324.70" r="0.45" fill="#88c050"/>
<circle cx="355.45" cy="325.79" r="0.50" fill="#a8d870"/>
<circle cx="352.94" cy="322.85" r="0.45" fill="#4a8a28"/>
<circle cx="350.15" cy="327.07" r="0.50" fill="#a8d870"/>
<circle cx="348.87" cy="325.89" r="0.50" fill="#a8d870"/>
<circle cx="347.14" cy="327.29" r="0.50" fill="#5a9a30"/>
<circle cx="351.25" cy="325.87" r="0.65" fill="#70b040"/>
<circle cx="353.68" cy="327.48" r="0.55" fill="#3a7a20"/>
<circle cx="354.01" cy="325.91" r="0.55" fill="#4a8a28"/>
<circle cx="351.56" cy="328.43" r="0.65" fill="#a8d870"/>
<circle cx="352.37" cy="326.48" r="0.50" fill="#5a9a30"/>
<circle cx="355.98" cy="325.78" r="0.65" fill="#5a9a30"/>
<circle cx="286.55" cy="381.95" r="0.45" fill="#70b040"/>
<circle cx="289.35" cy="378.79" r="0.55" fill="#88c050"/>
<circle cx="297.52" cy="383.55" r="0.50" fill="#88c050"/>
<circle cx="295.42" cy="384.81" r="0.45" fill="#70b040"/>
<circle cx="290.08" cy="378.26" r="0.45" fill="#a8d870"/>
<circle cx="293.70" cy="377.52" r="0.45" fill="#5a9a30"/>
<circle cx="293.22" cy="379.59" r="0.55" fill="#70b040"/>
<circle cx="288.24" cy="385.54" r="0.65" fill="#4a8a28"/>
<circle cx="291.03" cy="379.34" r="0.65" fill="#88c050"/>
<circle cx="293.21" cy="383.71" r="0.65" fill="#3a7a20"/>
<circle cx="296.11" cy="378.88" r="0.55" fill="#70b040"/>
<circle cx="291.45" cy="380.27" r="0.45" fill="#88c050"/>
<circle cx="291.78" cy="381.72" r="0.55" fill="#5a9a30"/>
<circle cx="295.72" cy="383.45" r="0.55" fill="#3a7a20"/>
<circle cx="295.85" cy="378.31" r="0.65" fill="#3a7a20"/>
<circle cx="298.14" cy="381.20" r="0.50" fill="#3a7a20"/>
<circle cx="290.68" cy="384.18" r="0.55" fill="#a8d870"/>
<circle cx="295.26" cy="384.21" r="0.50" fill="#3a7a20"/>
<circle cx="287.37" cy="379.12" r="0.45" fill="#70b040"/>
<circle cx="296.30" cy="357.07" r="0.45" fill="#70b040"/>
<circle cx="297.32" cy="354.46" r="0.65" fill="#a8d870"/>
<circle cx="300.72" cy="351.33" r="0.65" fill="#70b040"/>
<circle cx="297.29" cy="354.23" r="0.45" fill="#a8d870"/>
<circle cx="301.51" cy="351.72" r="0.50" fill="#a8d870"/>
<circle cx="299.37" cy="350.21" r="0.55" fill="#a8d870"/>
<circle cx="298.53" cy="355.43" r="0.50" fill="#4a8a28"/>
<circle cx="302.37" cy="350.42" r="0.55" fill="#88c050"/>
<circle cx="326.91" cy="364.19" r="0.45" fill="#334422"/>
<circle cx="304.32" cy="342.42" r="0.60" fill="#1a2412"/>
<circle cx="339.94" cy="328.59" r="0.60" fill="#334422"/>
<circle cx="286.36" cy="372.03" r="0.60" fill="#2a3a1c"/>
<circle cx="285.86" cy="326.11" r="0.45" fill="#1a2412"/>
<circle cx="332.83" cy="379.68" r="0.60" fill="#1a2412"/>
<circle cx="300.22" cy="322.92" r="0.45" fill="#2a3a1c"/>
<circle cx="332.88" cy="338.02" r="0.45" fill="#1f2e14"/>
<circle cx="303.53" cy="376.32" r="0.60" fill="#1f2e14"/>
<circle cx="310.65" cy="322.68" r="0.45" fill="#334422"/>
<circle cx="286.58" cy="331.83" r="0.60" fill="#3d5226"/>
<circle cx="354.63" cy="386.81" r="0.60" fill="#1f2e14"/>
<circle cx="308.03" cy="340.09" r="0.60" fill="#1f2e14"/>
<circle cx="286.78" cy="335.63" r="0.45" fill="#2a3a1c"/>
<circle cx="326.09" cy="325.45" r="0.45" fill="#1f2e14"/>
<circle cx="300.62" cy="326.35" r="0.45" fill="#2a3a1c"/>
<circle cx="314.29" cy="370.23" r="0.45" fill="#334422"/>
<circle cx="280.80" cy="335.95" r="0.45" fill="#3d5226"/>
<circle cx="317.27" cy="320.38" r="0.60" fill="#2a3a1c"/>
<circle cx="301.97" cy="342.94" r="0.45" fill="#334422"/>
<circle cx="347.48" cy="319.90" r="0.45" fill="#1a2412"/>
<circle cx="328.35" cy="343.40" r="0.45" fill="#334422"/>
<circle cx="307.04" cy="313.91" r="0.60" fill="#3d5226"/>
<circle cx="298.73" cy="370.53" r="0.60" fill="#1a2412"/>
<circle cx="354.00" cy="315.17" r="0.60" fill="#1a2412"/>
<circle cx="295.54" cy="358.93" r="0.60" fill="#3d5226"/>
<circle cx="320.22" cy="340.70" r="0.60" fill="#1f2e14"/>
<circle cx="336.42" cy="368.37" r="0.60" fill="#1f2e14"/>
<circle cx="313.56" cy="327.30" r="0.45" fill="#1f2e14"/>
<circle cx="285.20" cy="317.98" r="0.45" fill="#334422"/>
<circle cx="311.31" cy="349.95" r="0.60" fill="#334422"/>
<circle cx="317.74" cy="386.31" r="0.45" fill="#2a3a1c"/>
<circle cx="317.32" cy="348.87" r="0.60" fill="#334422"/>
<circle cx="344.31" cy="327.07" r="0.60" fill="#1a2412"/>
<circle cx="343.29" cy="357.17" r="0.60" fill="#3d5226"/>
<circle cx="299.87" cy="317.48" r="0.45" fill="#334422"/>
<circle cx="306.18" cy="386.49" r="0.45" fill="#334422"/>
<circle cx="303.29" cy="375.81" r="0.45" fill="#334422"/>
<circle cx="310.14" cy="384.39" r="0.45" fill="#334422"/>
<circle cx="308.96" cy="323.42" r="0.60" fill="#2a3a1c"/>
<circle cx="305.77" cy="330.82" r="0.60" fill="#2a3a1c"/>
<circle cx="290.67" cy="381.32" r="0.45" fill="#1f2e14"/>
<circle cx="307.00" cy="379.07" r="0.60" fill="#334422"/>
<circle cx="330.03" cy="349.12" r="0.45" fill="#1a2412"/>
<circle cx="319.70" cy="316.17" r="0.45" fill="#2a3a1c"/>
<circle cx="297.92" cy="360.44" r="0.45" fill="#2a3a1c"/>
<circle cx="328.72" cy="377.70" r="0.45" fill="#334422"/>
<circle cx="333.17" cy="367.20" r="0.45" fill="#1f2e14"/>
<circle cx="299.08" cy="334.09" r="0.45" fill="#2a3a1c"/>
<circle cx="329.73" cy="367.99" r="0.45" fill="#334422"/>
<circle cx="335.99" cy="338.92" r="0.45" fill="#1a2412"/>
<circle cx="341.31" cy="361.07" r="0.45" fill="#1f2e14"/>
<circle cx="325.11" cy="313.55" r="0.45" fill="#3d5226"/>
<circle cx="298.60" cy="375.87" r="0.45" fill="#2a3a1c"/>
<circle cx="279.21" cy="379.28" r="0.45" fill="#1a2412"/>
<circle cx="341.93" cy="363.81" r="0.45" fill="#3d5226"/>
<circle cx="344.41" cy="326.57" r="0.45" fill="#334422"/>
<circle cx="288.14" cy="339.59" r="0.45" fill="#1f2e14"/>
<circle cx="326.06" cy="320.27" r="0.60" fill="#2a3a1c"/>
<circle cx="329.71" cy="334.06" r="0.45" fill="#1f2e14"/>
<circle cx="354.22" cy="344.76" r="0.45" fill="#334422"/>
<circle cx="340.42" cy="367.16" r="0.60" fill="#2a3a1c"/>
<circle cx="285.04" cy="381.95" r="0.60" fill="#3d5226"/>
<circle cx="325.15" cy="377.11" r="0.60" fill="#2a3a1c"/>
<circle cx="331.85" cy="346.59" r="0.45" fill="#1a2412"/>
<circle cx="350.33" cy="327.91" r="0.45" fill="#334422"/>
<circle cx="288.26" cy="334.44" r="0.45" fill="#1f2e14"/>
<circle cx="285.31" cy="344.73" r="0.60" fill="#334422"/>
<circle cx="317.26" cy="349.45" r="0.60" fill="#1f2e14"/>
<circle cx="308.89" cy="323.27" r="0.60" fill="#1a2412"/>
<circle cx="290.04" cy="369.63" r="0.45" fill="#1a2412"/>
<circle cx="314.33" cy="349.87" r="0.45" fill="#2a3a1c"/>
<circle cx="305.20" cy="373.31" r="0.60" fill="#1f2e14"/>
<circle cx="299.25" cy="359.75" r="0.60" fill="#1a2412"/>
<circle cx="307.02" cy="355.38" r="0.60" fill="#2a3a1c"/>
<circle cx="311.68" cy="311.15" r="0.60" fill="#334422"/>
<circle cx="339.07" cy="321.57" r="0.45" fill="#3d5226"/>
<circle cx="331.95" cy="324.03" r="0.60" fill="#1f2e14"/>
<circle cx="340.77" cy="344.49" r="0.45" fill="#1a2412"/>
<circle cx="343.27" cy="322.98" r="0.45" fill="#2a3a1c"/>
<circle cx="302.47" cy="360.42" r="0.60" fill="#1a2412"/>
<circle cx="299.37" cy="318.65" r="0.45" fill="#3d5226"/>
<circle cx="290.42" cy="355.98" r="0.60" fill="#2a3a1c"/>
<circle cx="327.73" cy="348.29" r="0.45" fill="#1f2e14"/>
<circle cx="353.48" cy="377.83" r="0.45" fill="#1a2412"/>
<circle cx="346.49" cy="360.55" r="0.60" fill="#1f2e14"/>
<circle cx="294.76" cy="370.91" r="0.45" fill="#334422"/>
<circle cx="350.34" cy="324.19" r="0.60" fill="#334422"/>
<circle cx="286.03" cy="372.89" r="0.60" fill="#2a3a1c"/>
<circle cx="289.81" cy="353.24" r="0.45" fill="#1f2e14"/>
<circle cx="342.60" cy="377.76" r="0.45" fill="#1f2e14"/>
<circle cx="297.13" cy="317.45" r="0.45" fill="#334422"/>
<circle cx="298.24" cy="324.99" r="0.60" fill="#1f2e14"/>
<circle cx="348.68" cy="328.12" r="0.60" fill="#2a3a1c"/>
<circle cx="286.78" cy="328.14" r="0.45" fill="#1f2e14"/>
<circle cx="303.35" cy="319.29" r="0.45" fill="#1a2412"/>
<circle cx="354.68" cy="327.03" r="0.60" fill="#1f2e14"/>
<circle cx="336.28" cy="342.58" r="0.60" fill="#3d5226"/>
<circle cx="295.23" cy="343.05" r="0.60" fill="#3d5226"/>
<circle cx="330.11" cy="355.86" r="0.60" fill="#3d5226"/>
<circle cx="299.14" cy="374.50" r="0.45" fill="#1a2412"/>
<circle cx="328.89" cy="353.93" r="0.45" fill="#1a2412"/>
<circle cx="354.63" cy="350.01" r="0.45" fill="#1f2e14"/>
<circle cx="330.74" cy="379.97" r="0.45" fill="#1a2412"/>
<circle cx="279.02" cy="359.09" r="0.45" fill="#2a3a1c"/>
<circle cx="314.19" cy="321.05" r="0.60" fill="#334422"/>
<circle cx="332.88" cy="366.86" r="0.45" fill="#2a3a1c"/>
<circle cx="327.48" cy="361.37" r="0.45" fill="#334422"/>
<circle cx="307.41" cy="366.24" r="0.45" fill="#3d5226"/>
<circle cx="303.93" cy="320.83" r="0.60" fill="#1f2e14"/>
</g>
<rect x="355.00" y="311.00" width="78.00" height="76.70" fill="#050000"/>
<g clip-path="url(#c32)">
<rect x="355.00" y="311" width="78" height="76.7" filter="url(#haze)" opacity="0.6"/>
<g filter="url(#tex2)">
<polygon points="354.00,357.00 365.00,356.00 372.00,362.00 372.00,375.00 360.00,380.00 354.00,376.00" fill="#a01414" opacity="0.55" filter="url(#bl2)"/>
<g opacity="0.5" filter="url(#bl3)"><circle cx="354.78" cy="363.09" r="0.9" fill="#e8302a"/><circle cx="355.65" cy="371.42" r="1.1" fill="#e8302a"/><circle cx="366.69" cy="370.79" r="1.3" fill="#e8302a"/><circle cx="356.12" cy="367.14" r="1.3" fill="#d42420"/><circle cx="360.90" cy="366.45" r="0.9" fill="#d42420"/><circle cx="371.44" cy="363.72" r="1.3" fill="#d42420"/><circle cx="363.34" cy="369.35" r="0.7" fill="#6a0808"/><circle cx="354.76" cy="366.78" r="0.9" fill="#f04434"/><circle cx="361.93" cy="374.31" r="1.1" fill="#c81c1c"/><circle cx="356.75" cy="368.46" r="1.3" fill="#f04434"/><circle cx="358.28" cy="369.46" r="1.3" fill="#e8302a"/><circle cx="354.61" cy="366.66" r="1.1" fill="#6a0808"/><circle cx="361.92" cy="374.31" r="0.7" fill="#e8302a"/><circle cx="361.29" cy="368.15" r="0.7" fill="#d42420"/><circle cx="360.55" cy="375.16" r="0.7" fill="#e8302a"/><circle cx="354.49" cy="368.09" r="0.7" fill="#e8302a"/><circle cx="363.95" cy="370.50" r="0.7" fill="#f04434"/><circle cx="359.21" cy="379.25" r="1.3" fill="#c81c1c"/><circle cx="364.55" cy="363.51" r="0.7" fill="#6a0808"/><circle cx="367.36" cy="358.34" r="1.3" fill="#c81c1c"/><circle cx="364.76" cy="376.72" r="0.7" fill="#d42420"/><circle cx="355.15" cy="372.65" r="1.1" fill="#d42420"/><circle cx="359.21" cy="369.79" r="0.7" fill="#c81c1c"/><circle cx="362.21" cy="363.81" r="1.1" fill="#6a0808"/><circle cx="355.54" cy="375.23" r="1.3" fill="#c81c1c"/><circle cx="358.12" cy="358.76" r="1.1" fill="#c81c1c"/><circle cx="360.73" cy="365.89" r="1.1" fill="#6a0808"/><circle cx="358.63" cy="375.54" r="0.9" fill="#f04434"/><circle cx="371.96" cy="371.54" r="0.7" fill="#e8302a"/><circle cx="358.63" cy="372.88" r="1.1" fill="#c81c1c"/><circle cx="361.19" cy="360.18" r="0.7" fill="#c81c1c"/><circle cx="365.89" cy="358.51" r="1.3" fill="#6a0808"/><circle cx="361.04" cy="366.20" r="1.1" fill="#6a0808"/><circle cx="367.33" cy="371.61" r="1.3" fill="#6a0808"/><circle cx="361.20" cy="365.50" r="1.3" fill="#f04434"/><circle cx="371.37" cy="374.66" r="1.3" fill="#e8302a"/><circle cx="369.10" cy="361.78" r="0.7" fill="#6a0808"/><circle cx="369.83" cy="362.42" r="1.3" fill="#d42420"/><circle cx="359.98" cy="370.43" r="0.9" fill="#6a0808"/><circle cx="366.05" cy="360.09" r="0.9" fill="#6a0808"/><circle cx="363.54" cy="367.48" r="0.7" fill="#6a0808"/><circle cx="356.79" cy="373.21" r="0.9" fill="#c81c1c"/><circle cx="371.47" cy="362.93" r="0.7" fill="#c81c1c"/><circle cx="357.71" cy="378.06" r="1.3" fill="#f04434"/><circle cx="369.51" cy="365.00" r="0.7" fill="#e8302a"/><circle cx="371.29" cy="361.48" r="1.1" fill="#f04434"/><circle cx="354.44" cy="358.39" r="1.3" fill="#6a0808"/><circle cx="366.00" cy="358.17" r="1.3" fill="#c81c1c"/><circle cx="357.83" cy="357.40" r="0.7" fill="#e8302a"/><circle cx="367.76" cy="370.18" r="1.3" fill="#6a0808"/><circle cx="356.64" cy="365.57" r="1.3" fill="#c81c1c"/><circle cx="360.22" cy="359.86" r="0.7" fill="#6a0808"/><circle cx="368.15" cy="371.93" r="1.1" fill="#6a0808"/><circle cx="361.81" cy="360.65" r="1.1" fill="#6a0808"/><circle cx="366.29" cy="357.14" r="1.1" fill="#6a0808"/><circle cx="355.84" cy="364.00" r="1.1" fill="#c81c1c"/><circle cx="370.87" cy="374.67" r="1.3" fill="#d42420"/><circle cx="362.31" cy="374.23" r="1.1" fill="#e8302a"/><circle cx="366.40" cy="360.21" r="0.7" fill="#f04434"/><circle cx="367.37" cy="372.26" r="0.9" fill="#f04434"/><circle cx="356.44" cy="367.83" r="1.1" fill="#f04434"/><circle cx="362.02" cy="375.03" r="0.9" fill="#e8302a"/><circle cx="357.14" cy="357.82" r="1.3" fill="#e8302a"/><circle cx="354.32" cy="367.54" r="1.3" fill="#6a0808"/><circle cx="371.18" cy="365.93" r="0.9" fill="#e8302a"/><circle cx="364.55" cy="361.71" r="1.1" fill="#d42420"/><circle cx="361.48" cy="357.37" r="0.7" fill="#c81c1c"/><circle cx="354.67" cy="374.91" r="1.3" fill="#f04434"/><circle cx="354.48" cy="376.21" r="1.3" fill="#d42420"/><circle cx="369.07" cy="370.06" r="1.1" fill="#e8302a"/><circle cx="371.26" cy="371.07" r="1.3" fill="#6a0808"/><circle cx="371.26" cy="367.99" r="1.3" fill="#e8302a"/><circle cx="362.86" cy="365.71" r="0.7" fill="#d42420"/><circle cx="367.17" cy="375.21" r="0.7" fill="#e8302a"/><circle cx="367.17" cy="367.27" r="1.1" fill="#e8302a"/><circle cx="364.90" cy="366.11" r="1.1" fill="#e8302a"/><circle cx="358.46" cy="369.85" r="1.3" fill="#e8302a"/><circle cx="359.33" cy="374.27" r="0.7" fill="#c81c1c"/><circle cx="359.52" cy="361.64" r="1.3" fill="#6a0808"/><circle cx="368.38" cy="371.84" r="1.3" fill="#d42420"/><circle cx="369.89" cy="371.23" r="0.9" fill="#6a0808"/><circle cx="367.21" cy="363.29" r="0.7" fill="#c81c1c"/><circle cx="359.77" cy="377.03" r="0.7" fill="#f04434"/><circle cx="354.56" cy="371.56" r="1.1" fill="#f04434"/><circle cx="367.19" cy="376.09" r="1.1" fill="#6a0808"/><circle cx="358.45" cy="368.38" r="1.3" fill="#c81c1c"/><circle cx="356.76" cy="366.76" r="1.1" fill="#c81c1c"/><circle cx="354.34" cy="362.50" r="1.3" fill="#e8302a"/><circle cx="369.13" cy="365.53" r="0.7" fill="#c81c1c"/><circle cx="359.93" cy="359.74" r="0.9" fill="#c81c1c"/><circle cx="363.75" cy="356.97" r="0.7" fill="#d42420"/><circle cx="363.13" cy="359.44" r="0.7" fill="#f04434"/><circle cx="359.53" cy="377.66" r="0.7" fill="#c81c1c"/><circle cx="355.76" cy="374.39" r="1.3" fill="#6a0808"/><circle cx="359.90" cy="376.01" r="0.9" fill="#c81c1c"/><circle cx="366.71" cy="365.42" r="0.9" fill="#6a0808"/><circle cx="362.06" cy="375.34" r="0.9" fill="#f04434"/><circle cx="365.06" cy="364.93" r="0.9" fill="#f04434"/><circle cx="369.72" cy="360.84" r="1.1" fill="#e8302a"/><circle cx="359.51" cy="358.36" r="1.1" fill="#d42420"/><circle cx="368.51" cy="368.97" r="1.3" fill="#e8302a"/><circle cx="355.67" cy="365.65" r="0.9" fill="#f04434"/><circle cx="357.73" cy="378.39" r="0.7" fill="#e8302a"/></g>
<polyline points="371.00,310.00 371.40,317.90" fill="none" stroke="#8a0c10" stroke-width="4.30" stroke-linejoin="round" stroke-linecap="round" opacity="0.8" filter="url(#bl2)"/>
<polyline points="371.00,310.00 371.40,317.90" fill="none" stroke="#e42a22" stroke-width="2.50" stroke-linejoin="round" stroke-linecap="round" filter="url(#bl3)"/>
<polyline points="354.00,321.50 356.70,324.20 359.40,328.60 362.90,325.10 367.40,320.60 371.40,317.90 377.20,319.70 382.60,322.40 387.00,324.20 389.70,329.50 392.40,335.80 394.00,338.50 393.90,341.10 395.70,345.60 398.40,349.00 398.40,355.10" fill="none" stroke="#8a0c10" stroke-width="4.50" stroke-linejoin="round" stroke-linecap="round" opacity="0.8" filter="url(#bl2)"/>
<polyline points="354.00,321.50 356.70,324.20 359.40,328.60 362.90,325.10 367.40,320.60 371.40,317.90 377.20,319.70 382.60,322.40 387.00,324.20 389.70,329.50 392.40,335.80 394.00,338.50 393.90,341.10 395.70,345.60 398.40,349.00 398.40,355.10" fill="none" stroke="#e42a22" stroke-width="2.70" stroke-linejoin="round" stroke-linecap="round" filter="url(#bl3)"/>
<polyline points="359.40,328.60 357.60,332.20 359.40,337.60 362.00,342.00 365.60,345.60 368.30,349.00 371.90,350.70 379.00,349.80 386.10,348.90 394.00,348.50 398.40,349.00" fill="none" stroke="#8a0c10" stroke-width="4.50" stroke-linejoin="round" stroke-linecap="round" opacity="0.8" filter="url(#bl2)"/>
<polyline points="359.40,328.60 357.60,332.20 359.40,337.60 362.00,342.00 365.60,345.60 368.30,349.00 371.90,350.70 379.00,349.80 386.10,348.90 394.00,348.50 398.40,349.00" fill="none" stroke="#e42a22" stroke-width="2.70" stroke-linejoin="round" stroke-linecap="round" filter="url(#bl3)"/>
<polyline points="387.00,324.20 391.50,319.70 393.00,317.90 397.50,315.25 401.90,317.00 407.30,318.80 411.75,318.80" fill="none" stroke="#8a0c10" stroke-width="4.40" stroke-linejoin="round" stroke-linecap="round" opacity="0.8" filter="url(#bl2)"/>
<polyline points="387.00,324.20 391.50,319.70 393.00,317.90 397.50,315.25 401.90,317.00 407.30,318.80 411.75,318.80" fill="none" stroke="#e42a22" stroke-width="2.60" stroke-linejoin="round" stroke-linecap="round" filter="url(#bl3)"/>
<polyline points="397.50,315.25 396.60,310.80 396.50,310.00" fill="none" stroke="#8a0c10" stroke-width="4.00" stroke-linejoin="round" stroke-linecap="round" opacity="0.8" filter="url(#bl2)"/>
<polyline points="397.50,315.25 396.60,310.80 396.50,310.00" fill="none" stroke="#e42a22" stroke-width="2.20" stroke-linejoin="round" stroke-linecap="round" filter="url(#bl3)"/>
<polyline points="411.75,318.80 414.40,315.25 419.80,312.60 425.10,311.70 428.70,313.50 434.00,316.50" fill="none" stroke="#8a0c10" stroke-width="4.40" stroke-linejoin="round" stroke-linecap="round" opacity="0.8" filter="url(#bl2)"/>
<polyline points="411.75,318.80 414.40,315.25 419.80,312.60 425.10,311.70 428.70,313.50 434.00,316.50" fill="none" stroke="#e42a22" stroke-width="2.60" stroke-linejoin="round" stroke-linecap="round" filter="url(#bl3)"/>
<polyline points="411.75,318.80 412.60,325.10 414.40,330.40 416.20,334.90 417.10,338.50 421.60,339.40 426.90,338.50 434.00,337.60" fill="none" stroke="#8a0c10" stroke-width="4.60" stroke-linejoin="round" stroke-linecap="round" opacity="0.8" filter="url(#bl2)"/>
<polyline points="411.75,318.80 412.60,325.10 414.40,330.40 416.20,334.90 417.10,338.50 421.60,339.40 426.90,338.50 434.00,337.60" fill="none" stroke="#e42a22" stroke-width="2.80" stroke-linejoin="round" stroke-linecap="round" filter="url(#bl3)"/>
<polyline points="417.10,338.50 412.00,343.00 407.00,348.00 403.70,351.60" fill="none" stroke="#8a0c10" stroke-width="4.40" stroke-linejoin="round" stroke-linecap="round" opacity="0.8" filter="url(#bl2)"/>
<polyline points="417.10,338.50 412.00,343.00 407.00,348.00 403.70,351.60" fill="none" stroke="#e42a22" stroke-width="2.60" stroke-linejoin="round" stroke-linecap="round" filter="url(#bl3)"/>
<polyline points="398.40,355.10 403.70,351.60 410.90,350.70 417.10,353.40 422.50,357.80 426.90,361.40 427.80,365.90 426.00,371.20 421.60,375.70 417.10,378.40 412.60,381.00 409.10,378.40 403.70,374.80 398.40,371.20 394.80,367.60 396.60,361.40 398.40,355.10" fill="none" stroke="#8a0c10" stroke-width="4.60" stroke-linejoin="round" stroke-linecap="round" opacity="0.8" filter="url(#bl2)"/>
<polyline points="398.40,355.10 403.70,351.60 410.90,350.70 417.10,353.40 422.50,357.80 426.90,361.40 427.80,365.90 426.00,371.20 421.60,375.70 417.10,378.40 412.60,381.00 409.10,378.40 403.70,374.80 398.40,371.20 394.80,367.60 396.60,361.40 398.40,355.10" fill="none" stroke="#e42a22" stroke-width="2.80" stroke-linejoin="round" stroke-linecap="round" filter="url(#bl3)"/>
<polyline points="426.90,361.40 434.00,359.60" fill="none" stroke="#8a0c10" stroke-width="4.40" stroke-linejoin="round" stroke-linecap="round" opacity="0.8" filter="url(#bl2)"/>
<polyline points="426.90,361.40 434.00,359.60" fill="none" stroke="#e42a22" stroke-width="2.60" stroke-linejoin="round" stroke-linecap="round" filter="url(#bl3)"/>
<polyline points="427.80,371.20 430.50,377.50 434.00,380.50" fill="none" stroke="#8a0c10" stroke-width="4.40" stroke-linejoin="round" stroke-linecap="round" opacity="0.8" filter="url(#bl2)"/>
<polyline points="427.80,371.20 430.50,377.50 434.00,380.50" fill="none" stroke="#e42a22" stroke-width="2.60" stroke-linejoin="round" stroke-linecap="round" filter="url(#bl3)"/>
<polyline points="412.60,381.00 411.75,389.00" fill="none" stroke="#8a0c10" stroke-width="4.40" stroke-linejoin="round" stroke-linecap="round" opacity="0.8" filter="url(#bl2)"/>
<polyline points="412.60,381.00 411.75,389.00" fill="none" stroke="#e42a22" stroke-width="2.60" stroke-linejoin="round" stroke-linecap="round" filter="url(#bl3)"/>
<polyline points="371.90,350.70 369.20,356.90 370.00,364.10 371.90,367.60 378.10,369.40 384.40,368.50 389.70,366.75 394.80,367.60" fill="none" stroke="#8a0c10" stroke-width="4.50" stroke-linejoin="round" stroke-linecap="round" opacity="0.8" filter="url(#bl2)"/>
<polyline points="371.90,350.70 369.20,356.90 370.00,364.10 371.90,367.60 378.10,369.40 384.40,368.50 389.70,366.75 394.80,367.60" fill="none" stroke="#e42a22" stroke-width="2.70" stroke-linejoin="round" stroke-linecap="round" filter="url(#bl3)"/>
<polyline points="371.90,367.60 378.10,371.20 381.70,374.80 384.40,379.25 387.90,383.70 391.50,389.00" fill="none" stroke="#8a0c10" stroke-width="4.40" stroke-linejoin="round" stroke-linecap="round" opacity="0.8" filter="url(#bl2)"/>
<polyline points="371.90,367.60 378.10,371.20 381.70,374.80 384.40,379.25 387.90,383.70 391.50,389.00" fill="none" stroke="#e42a22" stroke-width="2.60" stroke-linejoin="round" stroke-linecap="round" filter="url(#bl3)"/>
<polyline points="358.50,389.00 359.40,385.50 362.90,379.25 367.40,374.80 371.90,371.20" fill="none" stroke="#8a0c10" stroke-width="4.20" stroke-linejoin="round" stroke-linecap="round" opacity="0.8" filter="url(#bl2)"/>
<polyline points="358.50,389.00 359.40,385.50 362.90,379.25 367.40,374.80 371.90,371.20" fill="none" stroke="#e42a22" stroke-width="2.40" stroke-linejoin="round" stroke-linecap="round" filter="url(#bl3)"/>
<polyline points="371.90,374.80 374.50,381.90 377.20,389.00" fill="none" stroke="#8a0c10" stroke-width="4.00" stroke-linejoin="round" stroke-linecap="round" opacity="0.8" filter="url(#bl2)"/>
<polyline points="371.90,374.80 374.50,381.90 377.20,389.00" fill="none" stroke="#e42a22" stroke-width="2.20" stroke-linejoin="round" stroke-linecap="round" filter="url(#bl3)"/>
<polyline points="354.00,331.00 357.60,332.20" fill="none" stroke="#8a0c10" stroke-width="4.00" stroke-linejoin="round" stroke-linecap="round" opacity="0.8" filter="url(#bl2)"/>
<polyline points="354.00,331.00 357.60,332.20" fill="none" stroke="#e42a22" stroke-width="2.20" stroke-linejoin="round" stroke-linecap="round" filter="url(#bl3)"/>
</g>
</g>
<rect x="435.00" y="311.00" width="77.30" height="76.70" fill="#000000"/>
<g clip-path="url(#c33)">
<ellipse cx="460.79" cy="337.57" rx="10.00" ry="12.00" fill="#3d2a9e" filter="url(#bl1)"/>
<ellipse cx="477.75" cy="326.86" rx="9.00" ry="9.60" fill="#3d2a9e" filter="url(#bl1)"/>
<ellipse cx="500.96" cy="323.29" rx="9.00" ry="10.40" fill="#3d2a9e" filter="url(#bl1)"/>
<ellipse cx="441.14" cy="314.36" rx="9.00" ry="6.00" fill="#3d2a9e" filter="url(#bl1)"/>
<ellipse cx="464.36" cy="314.36" rx="10.00" ry="6.00" fill="#3d2a9e" filter="url(#bl1)"/>
<ellipse cx="504.54" cy="350.07" rx="10.00" ry="10.00" fill="#3d2a9e" filter="url(#bl1)"/>
<ellipse cx="462.57" cy="359.89" rx="10.00" ry="8.00" fill="#3d2a9e" filter="url(#bl1)"/>
<ellipse cx="494.71" cy="368.82" rx="11.00" ry="10.00" fill="#3d2a9e" filter="url(#bl1)"/>
<ellipse cx="473.29" cy="378.64" rx="10.00" ry="8.00" fill="#3d2a9e" filter="url(#bl1)"/>
<ellipse cx="505.43" cy="383.11" rx="8.00" ry="6.00" fill="#3d2a9e" filter="url(#bl1)"/>
<rect x="435.00" y="311" width="78" height="76.7" filter="url(#haze)" opacity="0.6"/>
<g filter="url(#tex2)">
<polygon points="434.00,357.00 445.00,356.00 452.00,362.00 452.00,375.00 440.00,380.00 434.00,376.00" fill="#a01414" opacity="0.55" filter="url(#bl2)"/>
<g opacity="0.5" filter="url(#bl3)"><circle cx="450.36" cy="365.63" r="0.9" fill="#f04434"/><circle cx="442.17" cy="357.26" r="1.3" fill="#d42420"/><circle cx="436.10" cy="365.53" r="0.9" fill="#f04434"/><circle cx="444.58" cy="366.46" r="1.1" fill="#d42420"/><circle cx="443.57" cy="372.79" r="0.9" fill="#d42420"/><circle cx="435.21" cy="366.05" r="1.1" fill="#e8302a"/><circle cx="437.85" cy="363.81" r="1.1" fill="#f04434"/><circle cx="449.55" cy="371.32" r="1.3" fill="#c81c1c"/><circle cx="440.84" cy="378.12" r="0.7" fill="#d42420"/><circle cx="435.13" cy="366.66" r="1.3" fill="#c81c1c"/><circle cx="442.90" cy="365.48" r="0.9" fill="#6a0808"/><circle cx="446.62" cy="371.38" r="1.3" fill="#f04434"/><circle cx="451.83" cy="367.55" r="1.3" fill="#c81c1c"/><circle cx="440.77" cy="358.96" r="0.7" fill="#d42420"/><circle cx="445.88" cy="363.39" r="0.9" fill="#c81c1c"/><circle cx="439.84" cy="375.93" r="1.1" fill="#6a0808"/><circle cx="445.52" cy="376.94" r="1.3" fill="#e8302a"/><circle cx="438.94" cy="368.87" r="1.3" fill="#c81c1c"/><circle cx="441.69" cy="356.48" r="1.3" fill="#f04434"/><circle cx="446.56" cy="372.38" r="0.7" fill="#e8302a"/><circle cx="439.58" cy="360.87" r="1.1" fill="#6a0808"/><circle cx="445.92" cy="372.46" r="1.3" fill="#d42420"/><circle cx="440.58" cy="358.58" r="0.7" fill="#c81c1c"/><circle cx="443.34" cy="370.00" r="1.3" fill="#d42420"/><circle cx="445.90" cy="369.69" r="0.9" fill="#f04434"/><circle cx="450.90" cy="370.18" r="1.3" fill="#c81c1c"/><circle cx="438.50" cy="363.57" r="1.3" fill="#d42420"/><circle cx="434.67" cy="367.99" r="0.9" fill="#e8302a"/><circle cx="439.36" cy="357.89" r="0.9" fill="#f04434"/><circle cx="442.97" cy="363.17" r="1.3" fill="#6a0808"/><circle cx="435.38" cy="373.57" r="0.9" fill="#f04434"/><circle cx="446.40" cy="365.13" r="1.1" fill="#c81c1c"/><circle cx="435.20" cy="369.28" r="1.3" fill="#f04434"/><circle cx="436.24" cy="357.89" r="1.1" fill="#e8302a"/><circle cx="449.50" cy="365.67" r="1.1" fill="#c81c1c"/><circle cx="442.02" cy="361.59" r="0.9" fill="#d42420"/><circle cx="437.27" cy="375.58" r="1.3" fill="#c81c1c"/><circle cx="447.66" cy="359.22" r="1.3" fill="#6a0808"/><circle cx="435.17" cy="363.29" r="1.1" fill="#c81c1c"/><circle cx="443.58" cy="371.33" r="0.7" fill="#6a0808"/><circle cx="440.02" cy="361.54" r="1.1" fill="#e8302a"/><circle cx="434.17" cy="372.57" r="1.3" fill="#c81c1c"/><circle cx="439.43" cy="361.58" r="0.9" fill="#c81c1c"/><circle cx="437.75" cy="371.21" r="1.3" fill="#6a0808"/><circle cx="440.41" cy="372.72" r="1.3" fill="#e8302a"/><circle cx="443.81" cy="365.32" r="1.1" fill="#d42420"/><circle cx="437.75" cy="374.82" r="0.9" fill="#d42420"/><circle cx="451.69" cy="367.27" r="0.9" fill="#c81c1c"/><circle cx="438.66" cy="371.97" r="0.9" fill="#d42420"/><circle cx="448.43" cy="370.98" r="0.9" fill="#c81c1c"/><circle cx="443.63" cy="370.35" r="0.9" fill="#c81c1c"/><circle cx="441.17" cy="356.54" r="1.1" fill="#c81c1c"/><circle cx="436.64" cy="365.93" r="1.1" fill="#e8302a"/><circle cx="440.72" cy="370.13" r="0.7" fill="#c81c1c"/><circle cx="438.53" cy="368.36" r="1.1" fill="#d42420"/><circle cx="450.89" cy="362.80" r="1.1" fill="#c81c1c"/><circle cx="447.12" cy="361.33" r="0.9" fill="#c81c1c"/><circle cx="448.03" cy="375.14" r="1.1" fill="#c81c1c"/><circle cx="434.43" cy="376.06" r="1.1" fill="#c81c1c"/><circle cx="438.90" cy="361.09" r="0.7" fill="#c81c1c"/><circle cx="440.16" cy="368.20" r="1.3" fill="#c81c1c"/><circle cx="442.98" cy="364.79" r="0.7" fill="#c81c1c"/><circle cx="441.57" cy="370.95" r="1.1" fill="#6a0808"/><circle cx="437.27" cy="367.97" r="0.9" fill="#f04434"/><circle cx="449.94" cy="370.60" r="0.7" fill="#f04434"/><circle cx="434.60" cy="372.81" r="0.9" fill="#f04434"/><circle cx="443.64" cy="376.02" r="1.1" fill="#d42420"/><circle cx="440.72" cy="357.39" r="0.9" fill="#d42420"/><circle cx="443.32" cy="367.43" r="0.7" fill="#c81c1c"/><circle cx="434.74" cy="362.58" r="0.7" fill="#d42420"/><circle cx="436.68" cy="368.68" r="0.9" fill="#e8302a"/><circle cx="443.30" cy="359.57" r="1.3" fill="#f04434"/><circle cx="439.46" cy="369.98" r="1.1" fill="#d42420"/><circle cx="435.42" cy="367.49" r="1.3" fill="#f04434"/><circle cx="451.24" cy="364.25" r="1.3" fill="#d42420"/><circle cx="437.61" cy="369.10" r="0.7" fill="#d42420"/><circle cx="447.94" cy="373.98" r="0.7" fill="#c81c1c"/><circle cx="448.10" cy="373.36" r="1.1" fill="#c81c1c"/><circle cx="446.32" cy="365.85" r="0.7" fill="#c81c1c"/><circle cx="450.80" cy="365.23" r="1.3" fill="#d42420"/><circle cx="438.86" cy="364.22" r="0.7" fill="#f04434"/><circle cx="442.81" cy="357.90" r="1.1" fill="#6a0808"/><circle cx="435.48" cy="372.90" r="0.7" fill="#6a0808"/><circle cx="436.28" cy="368.64" r="1.3" fill="#d42420"/><circle cx="450.94" cy="371.86" r="1.1" fill="#c81c1c"/><circle cx="450.49" cy="365.85" r="1.1" fill="#6a0808"/><circle cx="434.74" cy="359.28" r="0.9" fill="#f04434"/><circle cx="438.38" cy="356.67" r="1.1" fill="#f04434"/><circle cx="442.76" cy="364.68" r="0.7" fill="#d42420"/><circle cx="441.54" cy="357.37" r="0.7" fill="#d42420"/><circle cx="446.52" cy="367.83" r="1.3" fill="#f04434"/><circle cx="436.61" cy="368.29" r="0.9" fill="#6a0808"/><circle cx="449.77" cy="366.08" r="1.1" fill="#e8302a"/><circle cx="438.31" cy="367.03" r="1.1" fill="#6a0808"/><circle cx="435.76" cy="376.42" r="0.9" fill="#6a0808"/><circle cx="439.91" cy="363.52" r="0.7" fill="#e8302a"/><circle cx="441.53" cy="356.83" r="1.3" fill="#d42420"/><circle cx="449.65" cy="371.75" r="0.9" fill="#d42420"/><circle cx="439.43" cy="373.50" r="0.9" fill="#f04434"/><circle cx="443.99" cy="370.29" r="1.3" fill="#f04434"/><circle cx="434.76" cy="369.33" r="0.9" fill="#c81c1c"/><circle cx="437.78" cy="358.56" r="1.1" fill="#6a0808"/><circle cx="448.03" cy="368.38" r="0.9" fill="#e8302a"/></g>
<polyline points="451.00,310.00 451.40,317.90" fill="none" stroke="#8a0c10" stroke-width="4.30" stroke-linejoin="round" stroke-linecap="round" opacity="0.8" filter="url(#bl2)"/>
<polyline points="451.00,310.00 451.40,317.90" fill="none" stroke="#e42a22" stroke-width="2.50" stroke-linejoin="round" stroke-linecap="round" filter="url(#bl3)"/>
<polyline points="434.00,321.50 436.70,324.20 439.40,328.60 442.90,325.10 447.40,320.60 451.40,317.90 457.20,319.70 462.60,322.40 467.00,324.20 469.70,329.50 472.40,335.80 474.00,338.50 473.90,341.10 475.70,345.60 478.40,349.00 478.40,355.10" fill="none" stroke="#8a0c10" stroke-width="4.50" stroke-linejoin="round" stroke-linecap="round" opacity="0.8" filter="url(#bl2)"/>
<polyline points="434.00,321.50 436.70,324.20 439.40,328.60 442.90,325.10 447.40,320.60 451.40,317.90 457.20,319.70 462.60,322.40 467.00,324.20 469.70,329.50 472.40,335.80 474.00,338.50 473.90,341.10 475.70,345.60 478.40,349.00 478.40,355.10" fill="none" stroke="#e42a22" stroke-width="2.70" stroke-linejoin="round" stroke-linecap="round" filter="url(#bl3)"/>
<polyline points="439.40,328.60 437.60,332.20 439.40,337.60 442.00,342.00 445.60,345.60 448.30,349.00 451.90,350.70 459.00,349.80 466.10,348.90 474.00,348.50 478.40,349.00" fill="none" stroke="#8a0c10" stroke-width="4.50" stroke-linejoin="round" stroke-linecap="round" opacity="0.8" filter="url(#bl2)"/>
<polyline points="439.40,328.60 437.60,332.20 439.40,337.60 442.00,342.00 445.60,345.60 448.30,349.00 451.90,350.70 459.00,349.80 466.10,348.90 474.00,348.50 478.40,349.00" fill="none" stroke="#e42a22" stroke-width="2.70" stroke-linejoin="round" stroke-linecap="round" filter="url(#bl3)"/>
<polyline points="467.00,324.20 471.50,319.70 473.00,317.90 477.50,315.25 481.90,317.00 487.30,318.80 491.75,318.80" fill="none" stroke="#8a0c10" stroke-width="4.40" stroke-linejoin="round" stroke-linecap="round" opacity="0.8" filter="url(#bl2)"/>
<polyline points="467.00,324.20 471.50,319.70 473.00,317.90 477.50,315.25 481.90,317.00 487.30,318.80 491.75,318.80" fill="none" stroke="#e42a22" stroke-width="2.60" stroke-linejoin="round" stroke-linecap="round" filter="url(#bl3)"/>
<polyline points="477.50,315.25 476.60,310.80 476.50,310.00" fill="none" stroke="#8a0c10" stroke-width="4.00" stroke-linejoin="round" stroke-linecap="round" opacity="0.8" filter="url(#bl2)"/>
<polyline points="477.50,315.25 476.60,310.80 476.50,310.00" fill="none" stroke="#e42a22" stroke-width="2.20" stroke-linejoin="round" stroke-linecap="round" filter="url(#bl3)"/>
<polyline points="491.75,318.80 494.40,315.25 499.80,312.60 505.10,311.70 508.70,313.50 514.00,316.50" fill="none" stroke="#8a0c10" stroke-width="4.40" stroke-linejoin="round" stroke-linecap="round" opacity="0.8" filter="url(#bl2)"/>
<polyline points="491.75,318.80 494.40,315.25 499.80,312.60 505.10,311.70 508.70,313.50 514.00,316.50" fill="none" stroke="#e42a22" stroke-width="2.60" stroke-linejoin="round" stroke-linecap="round" filter="url(#bl3)"/>
<polyline points="491.75,318.80 492.60,325.10 494.40,330.40 496.20,334.90 497.10,338.50 501.60,339.40 506.90,338.50 514.00,337.60" fill="none" stroke="#8a0c10" stroke-width="4.60" stroke-linejoin="round" stroke-linecap="round" opacity="0.8" filter="url(#bl2)"/>
<polyline points="491.75,318.80 492.60,325.10 494.40,330.40 496.20,334.90 497.10,338.50 501.60,339.40 506.90,338.50 514.00,337.60" fill="none" stroke="#e42a22" stroke-width="2.80" stroke-linejoin="round" stroke-linecap="round" filter="url(#bl3)"/>
<polyline points="497.10,338.50 492.00,343.00 487.00,348.00 483.70,351.60" fill="none" stroke="#8a0c10" stroke-width="4.40" stroke-linejoin="round" stroke-linecap="round" opacity="0.8" filter="url(#bl2)"/>
<polyline points="497.10,338.50 492.00,343.00 487.00,348.00 483.70,351.60" fill="none" stroke="#e42a22" stroke-width="2.60" stroke-linejoin="round" stroke-linecap="round" filter="url(#bl3)"/>
<polyline points="478.40,355.10 483.70,351.60 490.90,350.70 497.10,353.40 502.50,357.80 506.90,361.40 507.80,365.90 506.00,371.20 501.60,375.70 497.10,378.40 492.60,381.00 489.10,378.40 483.70,374.80 478.40,371.20 474.80,367.60 476.60,361.40 478.40,355.10" fill="none" stroke="#8a0c10" stroke-width="4.60" stroke-linejoin="round" stroke-linecap="round" opacity="0.8" filter="url(#bl2)"/>
<polyline points="478.40,355.10 483.70,351.60 490.90,350.70 497.10,353.40 502.50,357.80 506.90,361.40 507.80,365.90 506.00,371.20 501.60,375.70 497.10,378.40 492.60,381.00 489.10,378.40 483.70,374.80 478.40,371.20 474.80,367.60 476.60,361.40 478.40,355.10" fill="none" stroke="#e42a22" stroke-width="2.80" stroke-linejoin="round" stroke-linecap="round" filter="url(#bl3)"/>
<polyline points="506.90,361.40 514.00,359.60" fill="none" stroke="#8a0c10" stroke-width="4.40" stroke-linejoin="round" stroke-linecap="round" opacity="0.8" filter="url(#bl2)"/>
<polyline points="506.90,361.40 514.00,359.60" fill="none" stroke="#e42a22" stroke-width="2.60" stroke-linejoin="round" stroke-linecap="round" filter="url(#bl3)"/>
<polyline points="507.80,371.20 510.50,377.50 514.00,380.50" fill="none" stroke="#8a0c10" stroke-width="4.40" stroke-linejoin="round" stroke-linecap="round" opacity="0.8" filter="url(#bl2)"/>
<polyline points="507.80,371.20 510.50,377.50 514.00,380.50" fill="none" stroke="#e42a22" stroke-width="2.60" stroke-linejoin="round" stroke-linecap="round" filter="url(#bl3)"/>
<polyline points="492.60,381.00 491.75,389.00" fill="none" stroke="#8a0c10" stroke-width="4.40" stroke-linejoin="round" stroke-linecap="round" opacity="0.8" filter="url(#bl2)"/>
<polyline points="492.60,381.00 491.75,389.00" fill="none" stroke="#e42a22" stroke-width="2.60" stroke-linejoin="round" stroke-linecap="round" filter="url(#bl3)"/>
<polyline points="451.90,350.70 449.20,356.90 450.00,364.10 451.90,367.60 458.10,369.40 464.40,368.50 469.70,366.75 474.80,367.60" fill="none" stroke="#8a0c10" stroke-width="4.50" stroke-linejoin="round" stroke-linecap="round" opacity="0.8" filter="url(#bl2)"/>
<polyline points="451.90,350.70 449.20,356.90 450.00,364.10 451.90,367.60 458.10,369.40 464.40,368.50 469.70,366.75 474.80,367.60" fill="none" stroke="#e42a22" stroke-width="2.70" stroke-linejoin="round" stroke-linecap="round" filter="url(#bl3)"/>
<polyline points="451.90,367.60 458.10,371.20 461.70,374.80 464.40,379.25 467.90,383.70 471.50,389.00" fill="none" stroke="#8a0c10" stroke-width="4.40" stroke-linejoin="round" stroke-linecap="round" opacity="0.8" filter="url(#bl2)"/>
<polyline points="451.90,367.60 458.10,371.20 461.70,374.80 464.40,379.25 467.90,383.70 471.50,389.00" fill="none" stroke="#e42a22" stroke-width="2.60" stroke-linejoin="round" stroke-linecap="round" filter="url(#bl3)"/>
<polyline points="438.50,389.00 439.40,385.50 442.90,379.25 447.40,374.80 451.90,371.20" fill="none" stroke="#8a0c10" stroke-width="4.20" stroke-linejoin="round" stroke-linecap="round" opacity="0.8" filter="url(#bl2)"/>
<polyline points="438.50,389.00 439.40,385.50 442.90,379.25 447.40,374.80 451.90,371.20" fill="none" stroke="#e42a22" stroke-width="2.40" stroke-linejoin="round" stroke-linecap="round" filter="url(#bl3)"/>
<polyline points="451.90,374.80 454.50,381.90 457.20,389.00" fill="none" stroke="#8a0c10" stroke-width="4.00" stroke-linejoin="round" stroke-linecap="round" opacity="0.8" filter="url(#bl2)"/>
<polyline points="451.90,374.80 454.50,381.90 457.20,389.00" fill="none" stroke="#e42a22" stroke-width="2.20" stroke-linejoin="round" stroke-linecap="round" filter="url(#bl3)"/>
<polyline points="434.00,331.00 437.60,332.20" fill="none" stroke="#8a0c10" stroke-width="4.00" stroke-linejoin="round" stroke-linecap="round" opacity="0.8" filter="url(#bl2)"/>
<polyline points="434.00,331.00 437.60,332.20" fill="none" stroke="#e42a22" stroke-width="2.20" stroke-linejoin="round" stroke-linecap="round" filter="url(#bl3)"/>
</g>
<ellipse cx="451.00" cy="332.00" rx="7.20" ry="7.20" fill="#3a6a18" opacity="0.15" filter="url(#bl2)"/>
<ellipse cx="481.00" cy="336.00" rx="6.00" ry="8.40" fill="#3a6a18" opacity="0.15" filter="url(#bl2)"/>
<ellipse cx="468.00" cy="353.00" rx="7.20" ry="4.80" fill="#3a6a18" opacity="0.15" filter="url(#bl2)"/>
<ellipse cx="489.00" cy="362.00" rx="6.00" ry="4.80" fill="#3a6a18" opacity="0.15" filter="url(#bl2)"/>
<ellipse cx="449.00" cy="382.00" rx="7.20" ry="4.80" fill="#3a6a18" opacity="0.15" filter="url(#bl2)"/>
<circle cx="455.75" cy="326.04" r="0.45" fill="#a8d870"/>
<circle cx="452.94" cy="325.11" r="0.55" fill="#88c050"/>
<circle cx="445.79" cy="332.99" r="0.50" fill="#a8d870"/>
<circle cx="450.40" cy="327.35" r="0.45" fill="#5a9a30"/>
<circle cx="456.41" cy="336.97" r="0.50" fill="#5a9a30"/>
<circle cx="446.81" cy="336.46" r="0.45" fill="#88c050"/>
<circle cx="452.69" cy="337.03" r="0.55" fill="#88c050"/>
<circle cx="453.46" cy="324.79" r="0.65" fill="#4a8a28"/>
<circle cx="449.09" cy="336.16" r="0.55" fill="#4a8a28"/>
<circle cx="448.73" cy="330.87" r="0.45" fill="#3a7a20"/>
<circle cx="445.99" cy="332.50" r="0.50" fill="#a8d870"/>
<circle cx="452.23" cy="336.53" r="0.45" fill="#4a8a28"/>
<circle cx="447.69" cy="327.14" r="0.65" fill="#88c050"/>
<circle cx="453.79" cy="332.42" r="0.50" fill="#5a9a30"/>
<circle cx="444.01" cy="330.95" r="0.55" fill="#a8d870"/>
<circle cx="456.58" cy="336.14" r="0.45" fill="#3a7a20"/>
<circle cx="452.42" cy="339.19" r="0.65" fill="#a8d870"/>
<circle cx="454.41" cy="337.21" r="0.65" fill="#5a9a30"/>
<circle cx="452.28" cy="336.09" r="0.50" fill="#4a8a28"/>
<circle cx="444.25" cy="332.37" r="0.50" fill="#5a9a30"/>
<circle cx="447.21" cy="329.06" r="0.50" fill="#3a7a20"/>
<circle cx="454.03" cy="338.80" r="0.45" fill="#3a7a20"/>
<circle cx="454.18" cy="328.55" r="0.50" fill="#5a9a30"/>
<circle cx="443.60" cy="331.77" r="0.50" fill="#a8d870"/>
<circle cx="443.48" cy="331.49" r="0.50" fill="#3a7a20"/>
<circle cx="454.84" cy="336.86" r="0.65" fill="#5a9a30"/>
<circle cx="455.24" cy="336.88" r="0.55" fill="#3a7a20"/>
<circle cx="451.37" cy="335.61" r="0.65" fill="#a8d870"/>
<circle cx="457.47" cy="334.29" r="0.50" fill="#4a8a28"/>
<circle cx="450.96" cy="328.20" r="0.50" fill="#4a8a28"/>
<circle cx="447.75" cy="331.66" r="0.50" fill="#3a7a20"/>
<circle cx="453.89" cy="330.01" r="0.45" fill="#3a7a20"/>
<circle cx="450.97" cy="325.42" r="0.50" fill="#a8d870"/>
<circle cx="449.99" cy="339.07" r="0.45" fill="#3a7a20"/>
<circle cx="450.68" cy="332.02" r="0.45" fill="#5a9a30"/>
<circle cx="455.67" cy="328.50" r="0.50" fill="#88c050"/>
<circle cx="449.63" cy="334.92" r="0.55" fill="#70b040"/>
<circle cx="445.44" cy="335.61" r="0.50" fill="#70b040"/>
<circle cx="453.64" cy="336.24" r="0.65" fill="#3a7a20"/>
<circle cx="480.14" cy="339.46" r="0.65" fill="#70b040"/>
<circle cx="483.46" cy="338.04" r="0.45" fill="#4a8a28"/>
<circle cx="478.22" cy="335.89" r="0.65" fill="#88c050"/>
<circle cx="481.59" cy="329.05" r="0.55" fill="#88c050"/>
<circle cx="478.15" cy="336.72" r="0.50" fill="#3a7a20"/>
<circle cx="477.86" cy="336.00" r="0.65" fill="#4a8a28"/>
<circle cx="485.04" cy="334.81" r="0.65" fill="#4a8a28"/>
<circle cx="478.21" cy="342.56" r="0.50" fill="#88c050"/>
<circle cx="475.20" cy="337.80" r="0.45" fill="#3a7a20"/>
<circle cx="486.56" cy="338.08" r="0.55" fill="#88c050"/>
<circle cx="475.52" cy="335.57" r="0.65" fill="#a8d870"/>
<circle cx="485.89" cy="333.88" r="0.45" fill="#70b040"/>
<circle cx="483.35" cy="334.91" r="0.65" fill="#4a8a28"/>
<circle cx="482.27" cy="329.24" r="0.50" fill="#a8d870"/>
<circle cx="477.61" cy="343.47" r="0.65" fill="#3a7a20"/>
<circle cx="478.97" cy="332.05" r="0.45" fill="#70b040"/>
<circle cx="476.65" cy="330.54" r="0.65" fill="#88c050"/>
<circle cx="480.28" cy="342.49" r="0.55" fill="#5a9a30"/>
<circle cx="475.49" cy="333.55" r="0.65" fill="#4a8a28"/>
<circle cx="483.44" cy="339.06" r="0.55" fill="#3a7a20"/>
<circle cx="486.78" cy="336.86" r="0.55" fill="#5a9a30"/>
<circle cx="482.91" cy="329.30" r="0.55" fill="#5a9a30"/>
<circle cx="483.71" cy="332.92" r="0.50" fill="#88c050"/>
<circle cx="484.71" cy="333.92" r="0.50" fill="#5a9a30"/>
<circle cx="482.40" cy="343.56" r="0.50" fill="#70b040"/>
<circle cx="479.86" cy="339.95" r="0.55" fill="#88c050"/>
<circle cx="485.61" cy="342.22" r="0.50" fill="#5a9a30"/>
<circle cx="475.08" cy="333.25" r="0.50" fill="#5a9a30"/>
<circle cx="478.39" cy="337.61" r="0.65" fill="#a8d870"/>
<circle cx="483.55" cy="331.61" r="0.50" fill="#5a9a30"/>
<circle cx="475.73" cy="330.85" r="0.45" fill="#5a9a30"/>
<circle cx="483.15" cy="337.10" r="0.55" fill="#5a9a30"/>
<circle cx="479.66" cy="329.02" r="0.65" fill="#5a9a30"/>
<circle cx="482.45" cy="339.29" r="0.55" fill="#3a7a20"/>
<circle cx="478.00" cy="328.08" r="0.45" fill="#4a8a28"/>
<circle cx="485.25" cy="335.21" r="0.65" fill="#88c050"/>
<circle cx="480.93" cy="340.39" r="0.50" fill="#5a9a30"/>
<circle cx="484.11" cy="343.42" r="0.45" fill="#4a8a28"/>
<circle cx="476.17" cy="338.41" r="0.65" fill="#5a9a30"/>
<circle cx="475.16" cy="333.49" r="0.65" fill="#5a9a30"/>
<circle cx="480.09" cy="336.52" r="0.55" fill="#a8d870"/>
<circle cx="478.51" cy="330.50" r="0.45" fill="#70b040"/>
<circle cx="473.02" cy="351.01" r="0.65" fill="#70b040"/>
<circle cx="470.19" cy="355.87" r="0.45" fill="#a8d870"/>
<circle cx="460.51" cy="352.99" r="0.45" fill="#a8d870"/>
<circle cx="470.62" cy="350.41" r="0.50" fill="#a8d870"/>
<circle cx="461.97" cy="351.11" r="0.55" fill="#88c050"/>
<circle cx="475.38" cy="351.73" r="0.50" fill="#3a7a20"/>
<circle cx="466.06" cy="355.92" r="0.50" fill="#4a8a28"/>
<circle cx="469.81" cy="348.54" r="0.55" fill="#5a9a30"/>
<circle cx="465.18" cy="357.12" r="0.55" fill="#4a8a28"/>
<circle cx="471.93" cy="357.04" r="0.55" fill="#88c050"/>
<circle cx="472.89" cy="348.98" r="0.45" fill="#88c050"/>
<circle cx="472.03" cy="356.65" r="0.65" fill="#3a7a20"/>
<circle cx="472.99" cy="350.81" r="0.45" fill="#88c050"/>
<circle cx="473.87" cy="355.39" r="0.65" fill="#5a9a30"/>
<circle cx="467.56" cy="354.73" r="0.65" fill="#88c050"/>
<circle cx="473.19" cy="349.85" r="0.65" fill="#5a9a30"/>
<circle cx="466.55" cy="351.69" r="0.55" fill="#88c050"/>
<circle cx="469.40" cy="357.10" r="0.55" fill="#4a8a28"/>
<circle cx="469.53" cy="356.56" r="0.65" fill="#3a7a20"/>
<circle cx="468.77" cy="348.70" r="0.55" fill="#a8d870"/>
<circle cx="461.02" cy="354.31" r="0.65" fill="#88c050"/>
<circle cx="469.62" cy="352.71" r="0.55" fill="#70b040"/>
<circle cx="475.32" cy="354.71" r="0.50" fill="#3a7a20"/>
<circle cx="463.71" cy="356.85" r="0.55" fill="#70b040"/>
<circle cx="468.56" cy="352.13" r="0.45" fill="#88c050"/>
<circle cx="474.15" cy="355.49" r="0.50" fill="#5a9a30"/>
<circle cx="462.79" cy="353.79" r="0.45" fill="#a8d870"/>
<circle cx="467.40" cy="349.98" r="0.50" fill="#3a7a20"/>
<circle cx="474.04" cy="351.88" r="0.50" fill="#5a9a30"/>
<circle cx="470.10" cy="350.75" r="0.50" fill="#70b040"/>
<circle cx="491.55" cy="360.64" r="0.55" fill="#70b040"/>
<circle cx="488.90" cy="363.28" r="0.55" fill="#70b040"/>
<circle cx="494.61" cy="361.17" r="0.65" fill="#a8d870"/>
<circle cx="483.12" cy="361.01" r="0.50" fill="#88c050"/>
<circle cx="494.06" cy="364.88" r="0.45" fill="#4a8a28"/>
<circle cx="488.90" cy="359.50" r="0.65" fill="#88c050"/>
<circle cx="491.82" cy="357.43" r="0.50" fill="#4a8a28"/>
<circle cx="486.77" cy="361.77" r="0.65" fill="#4a8a28"/>
<circle cx="493.78" cy="358.82" r="0.65" fill="#88c050"/>
<circle cx="485.64" cy="362.12" r="0.45" fill="#4a8a28"/>
<circle cx="483.65" cy="360.49" r="0.55" fill="#3a7a20"/>
<circle cx="492.21" cy="366.17" r="0.65" fill="#4a8a28"/>
<circle cx="495.24" cy="360.71" r="0.65" fill="#70b040"/>
<circle cx="483.44" cy="359.47" r="0.50" fill="#88c050"/>
<circle cx="488.57" cy="362.81" r="0.65" fill="#70b040"/>
<circle cx="491.47" cy="363.95" r="0.55" fill="#a8d870"/>
<circle cx="483.16" cy="360.05" r="0.55" fill="#a8d870"/>
<circle cx="482.78" cy="362.61" r="0.50" fill="#70b040"/>
<circle cx="485.77" cy="365.11" r="0.55" fill="#4a8a28"/>
<circle cx="492.15" cy="361.51" r="0.45" fill="#3a7a20"/>
<circle cx="486.39" cy="363.14" r="0.50" fill="#5a9a30"/>
<circle cx="483.73" cy="361.60" r="0.45" fill="#70b040"/>
<circle cx="486.49" cy="357.42" r="0.45" fill="#70b040"/>
<circle cx="488.33" cy="367.11" r="0.55" fill="#5a9a30"/>
<circle cx="487.11" cy="365.62" r="0.65" fill="#5a9a30"/>
<circle cx="485.78" cy="365.54" r="0.50" fill="#3a7a20"/>
<circle cx="491.92" cy="362.19" r="0.50" fill="#70b040"/>
<circle cx="494.04" cy="364.99" r="0.55" fill="#4a8a28"/>
<circle cx="487.17" cy="359.13" r="0.45" fill="#a8d870"/>
<circle cx="494.40" cy="363.94" r="0.45" fill="#88c050"/>
<circle cx="509.94" cy="337.77" r="0.50" fill="#3a7a20"/>
<circle cx="501.55" cy="342.59" r="0.45" fill="#5a9a30"/>
<circle cx="513.47" cy="340.85" r="0.65" fill="#3a7a20"/>
<circle cx="509.93" cy="343.82" r="0.50" fill="#3a7a20"/>
<circle cx="503.10" cy="343.87" r="0.50" fill="#4a8a28"/>
<circle cx="508.32" cy="342.30" r="0.45" fill="#5a9a30"/>
<circle cx="509.47" cy="343.34" r="0.45" fill="#3a7a20"/>
<circle cx="503.12" cy="340.07" r="0.45" fill="#3a7a20"/>
<circle cx="506.55" cy="339.12" r="0.50" fill="#70b040"/>
<circle cx="507.44" cy="340.87" r="0.50" fill="#4a8a28"/>
<circle cx="507.88" cy="337.48" r="0.65" fill="#3a7a20"/>
<circle cx="502.95" cy="342.16" r="0.50" fill="#5a9a30"/>
<circle cx="513.40" cy="340.40" r="0.65" fill="#5a9a30"/>
<circle cx="510.17" cy="340.85" r="0.50" fill="#5a9a30"/>
<circle cx="508.06" cy="342.88" r="0.45" fill="#4a8a28"/>
<circle cx="506.03" cy="341.93" r="0.45" fill="#4a8a28"/>
<circle cx="502.98" cy="325.71" r="0.50" fill="#70b040"/>
<circle cx="509.61" cy="328.26" r="0.65" fill="#5a9a30"/>
<circle cx="511.59" cy="324.70" r="0.45" fill="#88c050"/>
<circle cx="512.45" cy="325.79" r="0.50" fill="#a8d870"/>
<circle cx="509.94" cy="322.85" r="0.45" fill="#4a8a28"/>
<circle cx="507.15" cy="327.07" r="0.50" fill="#a8d870"/>
<circle cx="505.87" cy="325.89" r="0.50" fill="#a8d870"/>
<circle cx="504.14" cy="327.29" r="0.50" fill="#5a9a30"/>
<circle cx="508.25" cy="325.87" r="0.65" fill="#70b040"/>
<circle cx="510.68" cy="327.48" r="0.55" fill="#3a7a20"/>
<circle cx="511.01" cy="325.91" r="0.55" fill="#4a8a28"/>
<circle cx="508.56" cy="328.43" r="0.65" fill="#a8d870"/>
<circle cx="509.37" cy="326.48" r="0.50" fill="#5a9a30"/>
<circle cx="512.98" cy="325.78" r="0.65" fill="#5a9a30"/>
<circle cx="443.55" cy="381.95" r="0.45" fill="#70b040"/>
<circle cx="446.35" cy="378.79" r="0.55" fill="#88c050"/>
<circle cx="454.52" cy="383.55" r="0.50" fill="#88c050"/>
<circle cx="452.42" cy="384.81" r="0.45" fill="#70b040"/>
<circle cx="447.08" cy="378.26" r="0.45" fill="#a8d870"/>
<circle cx="450.70" cy="377.52" r="0.45" fill="#5a9a30"/>
<circle cx="450.22" cy="379.59" r="0.55" fill="#70b040"/>
<circle cx="445.24" cy="385.54" r="0.65" fill="#4a8a28"/>
<circle cx="448.03" cy="379.34" r="0.65" fill="#88c050"/>
<circle cx="450.21" cy="383.71" r="0.65" fill="#3a7a20"/>
<circle cx="453.11" cy="378.88" r="0.55" fill="#70b040"/>
<circle cx="448.45" cy="380.27" r="0.45" fill="#88c050"/>
<circle cx="448.78" cy="381.72" r="0.55" fill="#5a9a30"/>
<circle cx="452.72" cy="383.45" r="0.55" fill="#3a7a20"/>
<circle cx="452.85" cy="378.31" r="0.65" fill="#3a7a20"/>
<circle cx="455.14" cy="381.20" r="0.50" fill="#3a7a20"/>
<circle cx="447.68" cy="384.18" r="0.55" fill="#a8d870"/>
<circle cx="452.26" cy="384.21" r="0.50" fill="#3a7a20"/>
<circle cx="444.37" cy="379.12" r="0.45" fill="#70b040"/>
<circle cx="453.30" cy="357.07" r="0.45" fill="#70b040"/>
<circle cx="454.32" cy="354.46" r="0.65" fill="#a8d870"/>
<circle cx="457.72" cy="351.33" r="0.65" fill="#70b040"/>
<circle cx="454.29" cy="354.23" r="0.45" fill="#a8d870"/>
<circle cx="458.51" cy="351.72" r="0.50" fill="#a8d870"/>
<circle cx="456.37" cy="350.21" r="0.55" fill="#a8d870"/>
<circle cx="455.53" cy="355.43" r="0.50" fill="#4a8a28"/>
<circle cx="459.37" cy="350.42" r="0.55" fill="#88c050"/>
<circle cx="483.91" cy="364.19" r="0.45" fill="#334422"/>
<circle cx="461.32" cy="342.42" r="0.60" fill="#1a2412"/>
<circle cx="496.94" cy="328.59" r="0.60" fill="#334422"/>
<circle cx="443.36" cy="372.03" r="0.60" fill="#2a3a1c"/>
<circle cx="442.86" cy="326.11" r="0.45" fill="#1a2412"/>
<circle cx="489.83" cy="379.68" r="0.60" fill="#1a2412"/>
<circle cx="457.22" cy="322.92" r="0.45" fill="#2a3a1c"/>
<circle cx="489.88" cy="338.02" r="0.45" fill="#1f2e14"/>
<circle cx="460.53" cy="376.32" r="0.60" fill="#1f2e14"/>
<circle cx="467.65" cy="322.68" r="0.45" fill="#334422"/>
<circle cx="443.58" cy="331.83" r="0.60" fill="#3d5226"/>
<circle cx="511.63" cy="386.81" r="0.60" fill="#1f2e14"/>
<circle cx="465.03" cy="340.09" r="0.60" fill="#1f2e14"/>
<circle cx="443.78" cy="335.63" r="0.45" fill="#2a3a1c"/>
<circle cx="483.09" cy="325.45" r="0.45" fill="#1f2e14"/>
<circle cx="457.62" cy="326.35" r="0.45" fill="#2a3a1c"/>
<circle cx="471.29" cy="370.23" r="0.45" fill="#334422"/>
<circle cx="437.80" cy="335.95" r="0.45" fill="#3d5226"/>
<circle cx="474.27" cy="320.38" r="0.60" fill="#2a3a1c"/>
<circle cx="458.97" cy="342.94" r="0.45" fill="#334422"/>
<circle cx="504.48" cy="319.90" r="0.45" fill="#1a2412"/>
<circle cx="485.35" cy="343.40" r="0.45" fill="#334422"/>
<circle cx="464.04" cy="313.91" r="0.60" fill="#3d5226"/>
<circle cx="455.73" cy="370.53" r="0.60" fill="#1a2412"/>
<circle cx="511.00" cy="315.17" r="0.60" fill="#1a2412"/>
<circle cx="452.54" cy="358.93" r="0.60" fill="#3d5226"/>
<circle cx="477.22" cy="340.70" r="0.60" fill="#1f2e14"/>
<circle cx="493.42" cy="368.37" r="0.60" fill="#1f2e14"/>
<circle cx="470.56" cy="327.30" r="0.45" fill="#1f2e14"/>
<circle cx="442.20" cy="317.98" r="0.45" fill="#334422"/>
<circle cx="468.31" cy="349.95" r="0.60" fill="#334422"/>
<circle cx="474.74" cy="386.31" r="0.45" fill="#2a3a1c"/>
<circle cx="474.32" cy="348.87" r="0.60" fill="#334422"/>
<circle cx="501.31" cy="327.07" r="0.60" fill="#1a2412"/>
<circle cx="500.29" cy="357.17" r="0.60" fill="#3d5226"/>
<circle cx="456.87" cy="317.48" r="0.45" fill="#334422"/>
<circle cx="463.18" cy="386.49" r="0.45" fill="#334422"/>
<circle cx="460.29" cy="375.81" r="0.45" fill="#334422"/>
<circle cx="467.14" cy="384.39" r="0.45" fill="#334422"/>
<circle cx="465.96" cy="323.42" r="0.60" fill="#2a3a1c"/>
<circle cx="462.77" cy="330.82" r="0.60" fill="#2a3a1c"/>
<circle cx="447.67" cy="381.32" r="0.45" fill="#1f2e14"/>
<circle cx="464.00" cy="379.07" r="0.60" fill="#334422"/>
<circle cx="487.03" cy="349.12" r="0.45" fill="#1a2412"/>
<circle cx="476.70" cy="316.17" r="0.45" fill="#2a3a1c"/>
<circle cx="454.92" cy="360.44" r="0.45" fill="#2a3a1c"/>
<circle cx="485.72" cy="377.70" r="0.45" fill="#334422"/>
<circle cx="490.17" cy="367.20" r="0.45" fill="#1f2e14"/>
<circle cx="456.08" cy="334.09" r="0.45" fill="#2a3a1c"/>
<circle cx="486.73" cy="367.99" r="0.45" fill="#334422"/>
<circle cx="492.99" cy="338.92" r="0.45" fill="#1a2412"/>
<circle cx="498.31" cy="361.07" r="0.45" fill="#1f2e14"/>
<circle cx="482.11" cy="313.55" r="0.45" fill="#3d5226"/>
<circle cx="455.60" cy="375.87" r="0.45" fill="#2a3a1c"/>
<circle cx="436.21" cy="379.28" r="0.45" fill="#1a2412"/>
<circle cx="498.93" cy="363.81" r="0.45" fill="#3d5226"/>
<circle cx="501.41" cy="326.57" r="0.45" fill="#334422"/>
<circle cx="445.14" cy="339.59" r="0.45" fill="#1f2e14"/>
<circle cx="483.06" cy="320.27" r="0.60" fill="#2a3a1c"/>
<circle cx="486.71" cy="334.06" r="0.45" fill="#1f2e14"/>
<circle cx="511.22" cy="344.76" r="0.45" fill="#334422"/>
<circle cx="497.42" cy="367.16" r="0.60" fill="#2a3a1c"/>
<circle cx="442.04" cy="381.95" r="0.60" fill="#3d5226"/>
<circle cx="482.15" cy="377.11" r="0.60" fill="#2a3a1c"/>
<circle cx="488.85" cy="346.59" r="0.45" fill="#1a2412"/>
<circle cx="507.33" cy="327.91" r="0.45" fill="#334422"/>
<circle cx="445.26" cy="334.44" r="0.45" fill="#1f2e14"/>
<circle cx="442.31" cy="344.73" r="0.60" fill="#334422"/>
<circle cx="474.26" cy="349.45" r="0.60" fill="#1f2e14"/>
<circle cx="465.89" cy="323.27" r="0.60" fill="#1a2412"/>
<circle cx="447.04" cy="369.63" r="0.45" fill="#1a2412"/>
<circle cx="471.33" cy="349.87" r="0.45" fill="#2a3a1c"/>
<circle cx="462.20" cy="373.31" r="0.60" fill="#1f2e14"/>
<circle cx="456.25" cy="359.75" r="0.60" fill="#1a2412"/>
<circle cx="464.02" cy="355.38" r="0.60" fill="#2a3a1c"/>
<circle cx="468.68" cy="311.15" r="0.60" fill="#334422"/>
<circle cx="496.07" cy="321.57" r="0.45" fill="#3d5226"/>
<circle cx="488.95" cy="324.03" r="0.60" fill="#1f2e14"/>
<circle cx="497.77" cy="344.49" r="0.45" fill="#1a2412"/>
<circle cx="500.27" cy="322.98" r="0.45" fill="#2a3a1c"/>
<circle cx="459.47" cy="360.42" r="0.60" fill="#1a2412"/>
<circle cx="456.37" cy="318.65" r="0.45" fill="#3d5226"/>
<circle cx="447.42" cy="355.98" r="0.60" fill="#2a3a1c"/>
<circle cx="484.73" cy="348.29" r="0.45" fill="#1f2e14"/>
<circle cx="510.48" cy="377.83" r="0.45" fill="#1a2412"/>
<circle cx="503.49" cy="360.55" r="0.60" fill="#1f2e14"/>
<circle cx="451.76" cy="370.91" r="0.45" fill="#334422"/>
<circle cx="507.34" cy="324.19" r="0.60" fill="#334422"/>
<circle cx="443.03" cy="372.89" r="0.60" fill="#2a3a1c"/>
<circle cx="446.81" cy="353.24" r="0.45" fill="#1f2e14"/>
<circle cx="499.60" cy="377.76" r="0.45" fill="#1f2e14"/>
<circle cx="454.13" cy="317.45" r="0.45" fill="#334422"/>
<circle cx="455.24" cy="324.99" r="0.60" fill="#1f2e14"/>
<circle cx="505.68" cy="328.12" r="0.60" fill="#2a3a1c"/>
<circle cx="443.78" cy="328.14" r="0.45" fill="#1f2e14"/>
<circle cx="460.35" cy="319.29" r="0.45" fill="#1a2412"/>
<circle cx="511.68" cy="327.03" r="0.60" fill="#1f2e14"/>
<circle cx="493.28" cy="342.58" r="0.60" fill="#3d5226"/>
<circle cx="452.23" cy="343.05" r="0.60" fill="#3d5226"/>
<circle cx="487.11" cy="355.86" r="0.60" fill="#3d5226"/>
<circle cx="456.14" cy="374.50" r="0.45" fill="#1a2412"/>
<circle cx="485.89" cy="353.93" r="0.45" fill="#1a2412"/>
<circle cx="511.63" cy="350.01" r="0.45" fill="#1f2e14"/>
<circle cx="487.74" cy="379.97" r="0.45" fill="#1a2412"/>
<circle cx="436.02" cy="359.09" r="0.45" fill="#2a3a1c"/>
<circle cx="471.19" cy="321.05" r="0.60" fill="#334422"/>
<circle cx="489.88" cy="366.86" r="0.45" fill="#2a3a1c"/>
<circle cx="484.48" cy="361.37" r="0.45" fill="#334422"/>
<circle cx="464.41" cy="366.24" r="0.45" fill="#3d5226"/>
<circle cx="460.93" cy="320.83" r="0.60" fill="#1f2e14"/>
</g>
<rect x="490.00" y="220.70" width="18.60" height="1.50" fill="#d8d0f0"/>
<polygon points="452.00,282.30 445.80,279.20 447.60,282.30 445.80,285.40" fill="#ffffff"/>
<polygon points="478.80,282.30 472.60,279.20 474.40,282.30 472.60,285.40" fill="#ffffff"/>
<polygon points="492.60,244.20 486.40,241.10 488.20,244.20 486.40,247.30" fill="#ffffff"/>
<text x="276.30" y="187.00" font-size="7.6" text-anchor="middle" textLength="38.60" lengthAdjust="spacingAndGlyphs" transform="rotate(-90 276.30 187.00)">control, 30'</text>
<text x="276.30" y="261.80" font-size="7.6" text-anchor="middle" textLength="43.00" lengthAdjust="spacingAndGlyphs" transform="rotate(-90 276.30 261.80)">FVIIa wt, 30'</text>
<text x="276.30" y="344.60" font-size="7.6" text-anchor="middle" textLength="51.00" lengthAdjust="spacingAndGlyphs" transform="rotate(-90 276.30 344.60)">FVIIa E26A, 30'</text>
</svg>
<div style="position:absolute;left:0;top:0;width:520px;height:448px;box-sizing:border-box;border-style:solid;border-color:#000;border-width:1px 2px 2px 1px;"></div>
</div></body></html>
